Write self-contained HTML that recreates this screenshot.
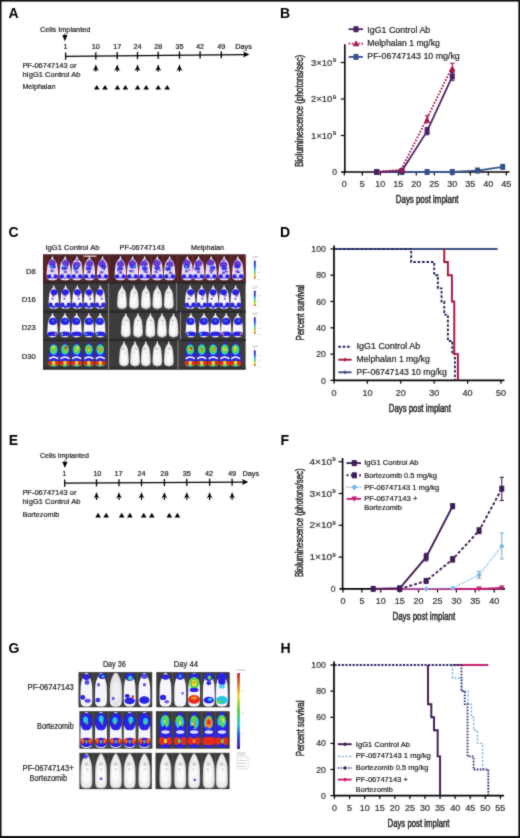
<!DOCTYPE html>
<html><head><meta charset="utf-8"><title>Figure</title>
<style>html,body{margin:0;padding:0;background:#fff;}svg{display:block;}text{font-family:"Liberation Sans", sans-serif;}</style>
</head><body>
<svg width="520" height="838" viewBox="0 0 520 838">
<defs><filter id="bl" x="-5%" y="-5%" width="110%" height="110%"><feGaussianBlur stdDeviation="0.45"/></filter>
<filter id="gb" x="0" y="0" width="520" height="838" filterUnits="userSpaceOnUse" color-interpolation-filters="sRGB"><feConvolveMatrix order="3" kernelMatrix="1 2 1 2 16 2 1 2 1" divisor="28" edgeMode="duplicate"/></filter></defs>
<rect width="520" height="838" fill="#fff"/>
<g filter="url(#gb)">
<rect width="520" height="838" fill="#fff"/>
<text x="8.5" y="17.8" font-size="14" font-weight="bold" fill="#000">A</text>
<text x="280" y="17.5" font-size="14" font-weight="bold" fill="#000">B</text>
<text x="8.6" y="237" font-size="14" font-weight="bold" fill="#000">C</text>
<text x="280" y="237" font-size="14" font-weight="bold" fill="#000">D</text>
<text x="8.8" y="445" font-size="14" font-weight="bold" fill="#000">E</text>
<text x="280.4" y="444.6" font-size="14" font-weight="bold" fill="#000">F</text>
<text x="8.6" y="653.4" font-size="14" font-weight="bold" fill="#000">G</text>
<text x="280.4" y="652.5" font-size="14" font-weight="bold" fill="#000">H</text>
<text x="39.9" y="32" font-size="7.5" textLength="50.5" lengthAdjust="spacingAndGlyphs" fill="#231f20" stroke="#231f20" stroke-width="0.22">Cells Implanted</text>
<polygon points="62.30,34.90 67.50,34.90 64.90,41.20" fill="#000"/>
<rect x="64.4" y="33.30" width="1" height="1.8" fill="#444"/>
<text x="65.6" y="48.6" font-size="7.3" text-anchor="middle" fill="#231f20" stroke="#231f20" stroke-width="0.22">1</text>
<text x="95.8" y="48.6" font-size="7.3" text-anchor="middle" fill="#231f20" stroke="#231f20" stroke-width="0.22">10</text>
<text x="117.2" y="48.6" font-size="7.3" text-anchor="middle" fill="#231f20" stroke="#231f20" stroke-width="0.22">17</text>
<text x="137.5" y="48.6" font-size="7.3" text-anchor="middle" fill="#231f20" stroke="#231f20" stroke-width="0.22">24</text>
<text x="158.2" y="48.6" font-size="7.3" text-anchor="middle" fill="#231f20" stroke="#231f20" stroke-width="0.22">28</text>
<text x="179.5" y="48.6" font-size="7.3" text-anchor="middle" fill="#231f20" stroke="#231f20" stroke-width="0.22">35</text>
<text x="200.1" y="48.6" font-size="7.3" text-anchor="middle" fill="#231f20" stroke="#231f20" stroke-width="0.22">42</text>
<text x="221.3" y="48.6" font-size="7.3" text-anchor="middle" fill="#231f20" stroke="#231f20" stroke-width="0.22">49</text>
<text x="235.3" y="48.6" font-size="7.3" fill="#231f20" stroke="#231f20" stroke-width="0.22">Days</text>
<line x1="65.6" y1="56.3" x2="245.4" y2="54.63699673558216" stroke="#000" stroke-width="1.3"/>
<polygon points="243.10,51.60 249.40,54.60 243.10,57.60 244.40,54.60" fill="#000"/>
<line x1="65.6" y1="52.599999999999994" x2="65.6" y2="59.8" stroke="#000" stroke-width="1.3"/>
<line x1="95.8" y1="52.32067464635473" x2="95.8" y2="59.520674646354735" stroke="#000" stroke-width="1.3"/>
<line x1="117.2" y1="52.1227421109902" x2="117.2" y2="59.322742110990205" stroke="#000" stroke-width="1.3"/>
<line x1="137.5" y1="51.93498367791077" x2="137.5" y2="59.134983677910775" stroke="#000" stroke-width="1.3"/>
<line x1="158.2" y1="51.74352557127312" x2="158.2" y2="58.94352557127312" stroke="#000" stroke-width="1.3"/>
<line x1="179.5" y1="51.546517954298146" x2="179.5" y2="58.74651795429815" stroke="#000" stroke-width="1.3"/>
<line x1="200.1" y1="51.35598476605005" x2="200.1" y2="58.55598476605005" stroke="#000" stroke-width="1.3"/>
<line x1="221.3" y1="51.159902067464635" x2="221.3" y2="58.35990206746464" stroke="#000" stroke-width="1.3"/>
<path d="M95.80,64.20 Q97.00,68.20 98.90,70.90 L96.40,69.40 L96.40,71.80 L95.20,71.80 L95.20,69.40 L92.70,70.90 Q94.60,68.20 95.80,64.20 Z" fill="#000"/>
<path d="M117.20,64.20 Q118.40,68.20 120.30,70.90 L117.80,69.40 L117.80,71.80 L116.60,71.80 L116.60,69.40 L114.10,70.90 Q116.00,68.20 117.20,64.20 Z" fill="#000"/>
<path d="M137.50,64.20 Q138.70,68.20 140.60,70.90 L138.10,69.40 L138.10,71.80 L136.90,71.80 L136.90,69.40 L134.40,70.90 Q136.30,68.20 137.50,64.20 Z" fill="#000"/>
<path d="M158.20,64.20 Q159.40,68.20 161.30,70.90 L158.80,69.40 L158.80,71.80 L157.60,71.80 L157.60,69.40 L155.10,70.90 Q157.00,68.20 158.20,64.20 Z" fill="#000"/>
<path d="M179.50,64.20 Q180.70,68.20 182.60,70.90 L180.10,69.40 L180.10,71.80 L178.90,71.80 L178.90,69.40 L176.40,70.90 Q178.30,68.20 179.50,64.20 Z" fill="#000"/>
<polygon points="93.95,89.50 99.55,89.50 96.75,84.90" fill="#000"/>
<polygon points="102.20,89.50 107.80,89.50 105.00,84.90" fill="#000"/>
<polygon points="114.60,89.50 120.20,89.50 117.40,84.90" fill="#000"/>
<polygon points="122.60,89.50 128.20,89.50 125.40,84.90" fill="#000"/>
<polygon points="134.80,89.50 140.40,89.50 137.60,84.90" fill="#000"/>
<polygon points="143.40,89.50 149.00,89.50 146.20,84.90" fill="#000"/>
<polygon points="155.40,89.50 161.00,89.50 158.20,84.90" fill="#000"/>
<polygon points="164.40,89.50 170.00,89.50 167.20,84.90" fill="#000"/>
<text x="22.4" y="68" font-size="7.4" textLength="54" lengthAdjust="spacingAndGlyphs" fill="#231f20" stroke="#231f20" stroke-width="0.22">PF-06747143 or</text>
<text x="22.4" y="76.6" font-size="7.4" textLength="58" lengthAdjust="spacingAndGlyphs" fill="#231f20" stroke="#231f20" stroke-width="0.22">hIgG1 Control Ab</text>
<text x="22.4" y="89.2" font-size="7.4" textLength="33" lengthAdjust="spacingAndGlyphs" fill="#231f20" stroke="#231f20" stroke-width="0.22">Melphalan</text>
<line x1="344.8" y1="44.2" x2="344.8" y2="172.7" stroke="#000" stroke-width="1.6"/>
<line x1="341.0" y1="172.0" x2="509.5" y2="172.0" stroke="#000" stroke-width="1.6"/>
<line x1="340.8" y1="135.5" x2="344.8" y2="135.5" stroke="#000" stroke-width="1.2"/>
<text x="311.0" y="138.6" font-size="8.4" textLength="21.4" lengthAdjust="spacingAndGlyphs" fill="#333" stroke="#333" stroke-width="0.22">1×10</text>
<text x="332.8" y="135.1" font-size="6.2" fill="#333" stroke="#333" stroke-width="0.22">9</text>
<line x1="340.8" y1="99.0" x2="344.8" y2="99.0" stroke="#000" stroke-width="1.2"/>
<text x="311.0" y="102.1" font-size="8.4" textLength="21.4" lengthAdjust="spacingAndGlyphs" fill="#333" stroke="#333" stroke-width="0.22">2×10</text>
<text x="332.8" y="98.6" font-size="6.2" fill="#333" stroke="#333" stroke-width="0.22">9</text>
<line x1="340.8" y1="62.5" x2="344.8" y2="62.5" stroke="#000" stroke-width="1.2"/>
<text x="311.0" y="65.6" font-size="8.4" textLength="21.4" lengthAdjust="spacingAndGlyphs" fill="#333" stroke="#333" stroke-width="0.22">3×10</text>
<text x="332.8" y="62.1" font-size="6.2" fill="#333" stroke="#333" stroke-width="0.22">9</text>
<text x="337.1" y="175.3" font-size="8.6" text-anchor="end" fill="#333" stroke="#333" stroke-width="0.22">0</text>
<line x1="344.3" y1="172.0" x2="344.3" y2="175.5" stroke="#000" stroke-width="1.2"/>
<text x="344.3" y="187.2" font-size="9" text-anchor="middle" fill="#333" stroke="#333" stroke-width="0.22">0</text>
<line x1="362.3" y1="172.0" x2="362.3" y2="175.5" stroke="#000" stroke-width="1.2"/>
<text x="362.3" y="187.2" font-size="9" text-anchor="middle" fill="#333" stroke="#333" stroke-width="0.22">5</text>
<line x1="380.3" y1="172.0" x2="380.3" y2="175.5" stroke="#000" stroke-width="1.2"/>
<text x="380.3" y="187.2" font-size="9" text-anchor="middle" fill="#333" stroke="#333" stroke-width="0.22">10</text>
<line x1="398.3" y1="172.0" x2="398.3" y2="175.5" stroke="#000" stroke-width="1.2"/>
<text x="398.3" y="187.2" font-size="9" text-anchor="middle" fill="#333" stroke="#333" stroke-width="0.22">15</text>
<line x1="416.3" y1="172.0" x2="416.3" y2="175.5" stroke="#000" stroke-width="1.2"/>
<text x="416.3" y="187.2" font-size="9" text-anchor="middle" fill="#333" stroke="#333" stroke-width="0.22">20</text>
<line x1="434.3" y1="172.0" x2="434.3" y2="175.5" stroke="#000" stroke-width="1.2"/>
<text x="434.3" y="187.2" font-size="9" text-anchor="middle" fill="#333" stroke="#333" stroke-width="0.22">25</text>
<line x1="452.3" y1="172.0" x2="452.3" y2="175.5" stroke="#000" stroke-width="1.2"/>
<text x="452.3" y="187.2" font-size="9" text-anchor="middle" fill="#333" stroke="#333" stroke-width="0.22">30</text>
<line x1="470.3" y1="172.0" x2="470.3" y2="175.5" stroke="#000" stroke-width="1.2"/>
<text x="470.3" y="187.2" font-size="9" text-anchor="middle" fill="#333" stroke="#333" stroke-width="0.22">35</text>
<line x1="488.3" y1="172.0" x2="488.3" y2="175.5" stroke="#000" stroke-width="1.2"/>
<text x="488.3" y="187.2" font-size="9" text-anchor="middle" fill="#333" stroke="#333" stroke-width="0.22">40</text>
<line x1="506.3" y1="172.0" x2="506.3" y2="175.5" stroke="#000" stroke-width="1.2"/>
<text x="506.3" y="187.2" font-size="9" text-anchor="middle" fill="#333" stroke="#333" stroke-width="0.22">45</text>
<text x="395.8" y="203.3" font-size="10.6" textLength="62.7" lengthAdjust="spacingAndGlyphs" fill="#2a2a2a" stroke="#2a2a2a" stroke-width="0.5">Days post implant</text>
<text transform="translate(303.2,167.1) rotate(-90)" font-size="10.2" fill="#2a2a2a" stroke="#2a2a2a" stroke-width="0.5" textLength="112.4" lengthAdjust="spacingAndGlyphs">Bioluminescence (photons/sec)</text>
<polyline points="376.70,172.00 401.90,172.00 427.10,172.00 452.30,172.00 477.50,170.54 502.70,166.89" fill="none" stroke="#34508a" stroke-width="1.8"/>
<rect x="374.20" y="169.00" width="5.00" height="6.00" fill="#34508a"/>
<rect x="399.40" y="169.00" width="5.00" height="6.00" fill="#34508a"/>
<rect x="424.60" y="169.00" width="5.00" height="6.00" fill="#34508a"/>
<rect x="449.80" y="169.00" width="5.00" height="6.00" fill="#34508a"/>
<rect x="475.00" y="167.54" width="5.00" height="6.00" fill="#34508a"/>
<rect x="500.20" y="163.89" width="5.00" height="6.00" fill="#34508a"/>
<polyline points="376.70,172.00 401.90,170.91 427.10,131.12 452.30,76.37" fill="none" stroke="#4b1f63" stroke-width="1.8"/>
<polyline points="375.90,172.00 401.10,169.81 426.30,119.81 451.50,68.34" fill="none" stroke="#a3174b" stroke-width="1.9" stroke-dasharray="1.6,1.6"/>
<line x1="427.1" y1="127.47" x2="427.1" y2="134.76999999999998" stroke="#4b1f63" stroke-width="1.1"/>
<line x1="424.85" y1="127.47" x2="429.35" y2="127.47" stroke="#4b1f63" stroke-width="1.1"/>
<line x1="424.85" y1="134.76999999999998" x2="429.35" y2="134.76999999999998" stroke="#4b1f63" stroke-width="1.1"/>
<line x1="452.3" y1="72.355" x2="452.3" y2="80.385" stroke="#4b1f63" stroke-width="1.1"/>
<line x1="450.05" y1="72.355" x2="454.55" y2="72.355" stroke="#4b1f63" stroke-width="1.1"/>
<line x1="450.05" y1="80.385" x2="454.55" y2="80.385" stroke="#4b1f63" stroke-width="1.1"/>
<rect x="374.20" y="169.00" width="5.00" height="6.00" fill="#4b1f63"/>
<rect x="399.40" y="167.91" width="5.00" height="6.00" fill="#4b1f63"/>
<rect x="424.60" y="128.12" width="5.00" height="6.00" fill="#4b1f63"/>
<rect x="449.80" y="73.37" width="5.00" height="6.00" fill="#4b1f63"/>
<line x1="427.1" y1="115.78999999999999" x2="427.1" y2="122.725" stroke="#a3174b" stroke-width="1.1"/>
<line x1="424.85" y1="115.78999999999999" x2="429.35" y2="115.78999999999999" stroke="#a3174b" stroke-width="1.1"/>
<line x1="424.85" y1="122.725" x2="429.35" y2="122.725" stroke="#a3174b" stroke-width="1.1"/>
<line x1="452.3" y1="63.230000000000004" x2="452.3" y2="71.625" stroke="#a3174b" stroke-width="1.1"/>
<line x1="450.05" y1="63.230000000000004" x2="454.55" y2="63.230000000000004" stroke="#a3174b" stroke-width="1.1"/>
<line x1="450.05" y1="71.625" x2="454.55" y2="71.625" stroke="#a3174b" stroke-width="1.1"/>
<polygon points="398.80,172.39 405.00,172.39 401.90,166.71" fill="#a3174b"/>
<polygon points="424.00,122.39 430.20,122.39 427.10,116.71" fill="#a3174b"/>
<polygon points="449.20,70.92 455.40,70.92 452.30,65.24" fill="#a3174b"/>
<polyline points="348.60,29.20 363.00,29.20" fill="none" stroke="#4b1f63" stroke-width="1.8"/>
<rect x="353.50" y="26.20" width="5.00" height="6.00" fill="#4b1f63"/>
<polyline points="348.60,43.60 363.00,43.60" fill="none" stroke="#a3174b" stroke-width="1.8" stroke-dasharray="1.6,1.6"/>
<polygon points="352.70,46.35 359.30,46.35 356.00,40.30" fill="#a3174b"/>
<polyline points="348.60,56.90 363.00,56.90" fill="none" stroke="#34508a" stroke-width="1.8"/>
<rect x="353.50" y="53.90" width="5.00" height="6.00" fill="#34508a"/>
<text x="367.3" y="32.5" font-size="8.8" textLength="62.9" lengthAdjust="spacingAndGlyphs" fill="#231f20" stroke="#231f20" stroke-width="0.22">IgG1 Control Ab</text>
<text x="367.3" y="46" font-size="8.8" textLength="72.5" lengthAdjust="spacingAndGlyphs" fill="#231f20" stroke="#231f20" stroke-width="0.22">Melphalan 1 mg/kg</text>
<text x="367.3" y="59.4" font-size="8.8" textLength="92.5" lengthAdjust="spacingAndGlyphs" fill="#231f20" stroke="#231f20" stroke-width="0.22">PF-06747143 10 mg/kg</text>
<g filter="url(#bl)">
<rect x="43.0" y="254.5" width="202.6" height="114.7" fill="#3c3a3b"/>
<rect x="43.0" y="254.5" width="202.6" height="27.5" fill="#4e2226"/>
<rect x="45.30" y="255" width="1.4" height="26.5" fill="#7a2628"/>
<rect x="58.10" y="255" width="1.4" height="26.5" fill="#7a2628"/>
<rect x="70.40" y="255" width="1.4" height="26.5" fill="#7a2628"/>
<rect x="82.50" y="255" width="1.4" height="26.5" fill="#7a2628"/>
<rect x="95.30" y="255" width="1.4" height="26.5" fill="#7a2628"/>
<rect x="108.30" y="255" width="1.4" height="26.5" fill="#7a2628"/>
<rect x="125.80" y="255" width="1.4" height="26.5" fill="#7a2628"/>
<rect x="137.90" y="255" width="1.4" height="26.5" fill="#7a2628"/>
<rect x="150.30" y="255" width="1.4" height="26.5" fill="#7a2628"/>
<rect x="162.70" y="255" width="1.4" height="26.5" fill="#7a2628"/>
<rect x="176.80" y="255" width="1.4" height="26.5" fill="#7a2628"/>
<rect x="192.00" y="255" width="1.4" height="26.5" fill="#7a2628"/>
<rect x="204.10" y="255" width="1.4" height="26.5" fill="#7a2628"/>
<rect x="216.90" y="255" width="1.4" height="26.5" fill="#7a2628"/>
<rect x="230.30" y="255" width="1.4" height="26.5" fill="#7a2628"/>
<rect x="243.30" y="255" width="1.4" height="26.5" fill="#7a2628"/>
<rect x="83.6" y="255.6" width="12.7" height="1.1" fill="#f4e8e8"/>
<rect x="43.0" y="281.5" width="202.6" height="2.2" fill="#2a2a2a"/>
<rect x="43.0" y="310.6" width="202.6" height="2.2" fill="#2a2a2a"/>
<rect x="43.0" y="339.0" width="202.6" height="2.2" fill="#2a2a2a"/>
<rect x="43.0" y="367.5" width="202.6" height="2.2" fill="#2a2a2a"/>
<rect x="108.1" y="283" width="1" height="86" fill="#8a8a8a"/>
<rect x="176.1" y="283" width="1" height="28" fill="#8a8a8a"/>
<rect x="180.0" y="312" width="1" height="28" fill="#8a8a8a"/>
<rect x="177.5" y="340" width="1" height="29" fill="#8a8a8a"/>
<path d="M52.40,256.30 C52.59,256.30 52.81,256.43 52.96,256.80 C53.11,257.18 52.98,257.98 53.30,258.57 C53.61,259.16 54.30,259.58 54.86,260.33 C55.42,261.09 56.21,261.89 56.66,263.10 C57.10,264.32 57.33,266.00 57.55,267.64 C57.78,269.28 57.93,271.38 58.00,272.93 C58.07,274.49 58.22,275.87 58.00,276.96 C57.78,278.06 57.37,278.94 56.66,279.48 C55.95,280.03 54.68,280.11 53.74,280.24 C52.81,280.37 51.99,280.37 51.06,280.24 C50.12,280.11 48.85,280.03 48.14,279.48 C47.43,278.94 47.02,278.06 46.80,276.96 C46.58,275.87 46.73,274.49 46.80,272.93 C46.87,271.38 47.02,269.28 47.25,267.64 C47.47,266.00 47.70,264.32 48.14,263.10 C48.59,261.89 49.38,261.09 49.94,260.33 C50.50,259.58 51.19,259.16 51.50,258.57 C51.82,257.98 51.69,257.18 51.84,256.80 C51.99,256.43 52.21,256.30 52.40,256.30 Z" fill="#f6f4fc"/>
<ellipse cx="52.40" cy="268.90" rx="4.70" ry="7.56" fill="#d8ccf4" fill-opacity="0.8"/>
<ellipse cx="52.10" cy="262.98" rx="3.81" ry="3.02" fill="#5a2ad0" fill-opacity="0.9"/>
<ellipse cx="52.91" cy="266.56" rx="2.91" ry="2.02" fill="#2a22e6" fill-opacity="0.85"/>
<ellipse cx="52.48" cy="260.33" rx="1.79" ry="1.26" fill="#5a2ad0" fill-opacity="0.6"/>
<ellipse cx="49.04" cy="276.46" rx="2.24" ry="2.27" fill="#2a22e6"/>
<ellipse cx="55.76" cy="276.46" rx="2.24" ry="2.27" fill="#2a22e6"/>
<ellipse cx="52.10" cy="270.81" rx="1.79" ry="1.51" fill="#5a2ad0" fill-opacity="0.7"/>
<ellipse cx="52.44" cy="265.40" rx="0.90" ry="0.88" fill="#2a22e6" fill-opacity="0.9"/>
<ellipse cx="52.03" cy="265.65" rx="0.90" ry="0.88" fill="#5a2ad0" fill-opacity="0.9"/>
<ellipse cx="52.40" cy="277.97" rx="1.57" ry="1.26" fill="#5a2ad0" fill-opacity="0.6"/>
<ellipse cx="52.06" cy="266.38" rx="1.12" ry="1.01" fill="#22c8e8" fill-opacity="0.8"/>
<path d="M65.20,256.30 C65.39,256.30 65.61,256.43 65.76,256.80 C65.91,257.18 65.78,257.98 66.10,258.57 C66.41,259.16 67.10,259.58 67.66,260.33 C68.22,261.09 69.01,261.89 69.46,263.10 C69.90,264.32 70.13,266.00 70.35,267.64 C70.58,269.28 70.73,271.38 70.80,272.93 C70.87,274.49 71.02,275.87 70.80,276.96 C70.58,278.06 70.17,278.94 69.46,279.48 C68.75,280.03 67.48,280.11 66.54,280.24 C65.61,280.37 64.79,280.37 63.86,280.24 C62.92,280.11 61.65,280.03 60.94,279.48 C60.23,278.94 59.82,278.06 59.60,276.96 C59.38,275.87 59.53,274.49 59.60,272.93 C59.67,271.38 59.82,269.28 60.05,267.64 C60.27,266.00 60.50,264.32 60.94,263.10 C61.39,261.89 62.18,261.09 62.74,260.33 C63.30,259.58 63.99,259.16 64.30,258.57 C64.62,257.98 64.49,257.18 64.64,256.80 C64.79,256.43 65.01,256.30 65.20,256.30 Z" fill="#f6f4fc"/>
<ellipse cx="65.20" cy="268.90" rx="4.70" ry="7.56" fill="#d8ccf4" fill-opacity="0.8"/>
<ellipse cx="65.75" cy="262.91" rx="3.81" ry="3.02" fill="#5a2ad0" fill-opacity="0.9"/>
<ellipse cx="64.27" cy="267.96" rx="2.91" ry="2.02" fill="#2a22e6" fill-opacity="0.85"/>
<ellipse cx="66.20" cy="260.33" rx="1.79" ry="1.26" fill="#5a2ad0" fill-opacity="0.6"/>
<ellipse cx="61.84" cy="276.46" rx="2.24" ry="2.27" fill="#2a22e6"/>
<ellipse cx="68.56" cy="276.46" rx="2.24" ry="2.27" fill="#2a22e6"/>
<ellipse cx="65.37" cy="271.66" rx="1.79" ry="1.51" fill="#5a2ad0" fill-opacity="0.7"/>
<ellipse cx="67.87" cy="265.47" rx="0.90" ry="0.88" fill="#2a22e6" fill-opacity="0.9"/>
<ellipse cx="67.21" cy="267.31" rx="0.90" ry="0.88" fill="#5a2ad0" fill-opacity="0.9"/>
<ellipse cx="65.20" cy="277.97" rx="1.57" ry="1.26" fill="#5a2ad0" fill-opacity="0.6"/>
<ellipse cx="63.49" cy="266.38" rx="1.12" ry="1.01" fill="#22c8e8" fill-opacity="0.8"/>
<path d="M77.00,256.30 C77.19,256.30 77.41,256.43 77.56,256.80 C77.71,257.18 77.58,257.98 77.90,258.57 C78.21,259.16 78.90,259.58 79.46,260.33 C80.02,261.09 80.81,261.89 81.26,263.10 C81.70,264.32 81.93,266.00 82.15,267.64 C82.38,269.28 82.53,271.38 82.60,272.93 C82.67,274.49 82.82,275.87 82.60,276.96 C82.38,278.06 81.97,278.94 81.26,279.48 C80.55,280.03 79.28,280.11 78.34,280.24 C77.41,280.37 76.59,280.37 75.66,280.24 C74.72,280.11 73.45,280.03 72.74,279.48 C72.03,278.94 71.62,278.06 71.40,276.96 C71.18,275.87 71.33,274.49 71.40,272.93 C71.47,271.38 71.62,269.28 71.85,267.64 C72.07,266.00 72.30,264.32 72.74,263.10 C73.19,261.89 73.98,261.09 74.54,260.33 C75.10,259.58 75.79,259.16 76.10,258.57 C76.42,257.98 76.29,257.18 76.44,256.80 C76.59,256.43 76.81,256.30 77.00,256.30 Z" fill="#f6f4fc"/>
<ellipse cx="77.00" cy="268.90" rx="4.70" ry="7.56" fill="#d8ccf4" fill-opacity="0.8"/>
<ellipse cx="76.68" cy="264.66" rx="3.81" ry="3.02" fill="#5a2ad0" fill-opacity="0.9"/>
<ellipse cx="75.93" cy="267.85" rx="2.91" ry="2.02" fill="#2a22e6" fill-opacity="0.85"/>
<ellipse cx="77.31" cy="260.33" rx="1.79" ry="1.26" fill="#5a2ad0" fill-opacity="0.6"/>
<ellipse cx="73.64" cy="276.46" rx="2.24" ry="2.27" fill="#2a22e6"/>
<ellipse cx="80.36" cy="276.46" rx="2.24" ry="2.27" fill="#2a22e6"/>
<ellipse cx="76.71" cy="272.04" rx="1.79" ry="1.51" fill="#5a2ad0" fill-opacity="0.7"/>
<ellipse cx="74.55" cy="265.57" rx="0.90" ry="0.88" fill="#2a22e6" fill-opacity="0.9"/>
<ellipse cx="75.35" cy="270.26" rx="0.90" ry="0.88" fill="#5a2ad0" fill-opacity="0.9"/>
<ellipse cx="77.00" cy="277.97" rx="1.57" ry="1.26" fill="#5a2ad0" fill-opacity="0.6"/>
<ellipse cx="76.17" cy="266.38" rx="1.12" ry="1.01" fill="#22c8e8" fill-opacity="0.8"/>
<path d="M89.40,256.30 C89.59,256.30 89.81,256.43 89.96,256.80 C90.11,257.18 89.98,257.98 90.30,258.57 C90.61,259.16 91.30,259.58 91.86,260.33 C92.42,261.09 93.21,261.89 93.66,263.10 C94.10,264.32 94.33,266.00 94.55,267.64 C94.78,269.28 94.93,271.38 95.00,272.93 C95.07,274.49 95.22,275.87 95.00,276.96 C94.78,278.06 94.37,278.94 93.66,279.48 C92.95,280.03 91.68,280.11 90.74,280.24 C89.81,280.37 88.99,280.37 88.06,280.24 C87.12,280.11 85.85,280.03 85.14,279.48 C84.43,278.94 84.02,278.06 83.80,276.96 C83.58,275.87 83.73,274.49 83.80,272.93 C83.87,271.38 84.02,269.28 84.25,267.64 C84.47,266.00 84.70,264.32 85.14,263.10 C85.59,261.89 86.38,261.09 86.94,260.33 C87.50,259.58 88.19,259.16 88.50,258.57 C88.82,257.98 88.69,257.18 88.84,256.80 C88.99,256.43 89.21,256.30 89.40,256.30 Z" fill="#f6f4fc"/>
<ellipse cx="89.40" cy="268.90" rx="4.70" ry="7.56" fill="#d8ccf4" fill-opacity="0.8"/>
<ellipse cx="89.54" cy="263.74" rx="3.81" ry="3.02" fill="#5a2ad0" fill-opacity="0.9"/>
<ellipse cx="88.73" cy="268.38" rx="2.91" ry="2.02" fill="#2a22e6" fill-opacity="0.85"/>
<ellipse cx="89.85" cy="260.33" rx="1.79" ry="1.26" fill="#5a2ad0" fill-opacity="0.6"/>
<ellipse cx="86.04" cy="276.46" rx="2.24" ry="2.27" fill="#2a22e6"/>
<ellipse cx="92.76" cy="276.46" rx="2.24" ry="2.27" fill="#2a22e6"/>
<ellipse cx="88.83" cy="272.11" rx="1.79" ry="1.51" fill="#5a2ad0" fill-opacity="0.7"/>
<ellipse cx="89.54" cy="271.74" rx="0.90" ry="0.88" fill="#2a22e6" fill-opacity="0.9"/>
<ellipse cx="90.68" cy="267.30" rx="0.90" ry="0.88" fill="#5a2ad0" fill-opacity="0.9"/>
<ellipse cx="89.40" cy="277.97" rx="1.57" ry="1.26" fill="#5a2ad0" fill-opacity="0.6"/>
<path d="M102.60,256.30 C102.79,256.30 103.01,256.43 103.16,256.80 C103.31,257.18 103.18,257.98 103.50,258.57 C103.81,259.16 104.50,259.58 105.06,260.33 C105.62,261.09 106.41,261.89 106.86,263.10 C107.30,264.32 107.53,266.00 107.75,267.64 C107.98,269.28 108.13,271.38 108.20,272.93 C108.27,274.49 108.42,275.87 108.20,276.96 C107.98,278.06 107.57,278.94 106.86,279.48 C106.15,280.03 104.88,280.11 103.94,280.24 C103.01,280.37 102.19,280.37 101.26,280.24 C100.32,280.11 99.05,280.03 98.34,279.48 C97.63,278.94 97.22,278.06 97.00,276.96 C96.78,275.87 96.93,274.49 97.00,272.93 C97.07,271.38 97.22,269.28 97.45,267.64 C97.67,266.00 97.90,264.32 98.34,263.10 C98.79,261.89 99.58,261.09 100.14,260.33 C100.70,259.58 101.39,259.16 101.70,258.57 C102.02,257.98 101.89,257.18 102.04,256.80 C102.19,256.43 102.41,256.30 102.60,256.30 Z" fill="#f6f4fc"/>
<ellipse cx="102.60" cy="268.90" rx="4.70" ry="7.56" fill="#d8ccf4" fill-opacity="0.8"/>
<ellipse cx="101.96" cy="263.65" rx="3.81" ry="3.02" fill="#5a2ad0" fill-opacity="0.9"/>
<ellipse cx="103.46" cy="266.76" rx="2.91" ry="2.02" fill="#2a22e6" fill-opacity="0.85"/>
<ellipse cx="102.58" cy="260.33" rx="1.79" ry="1.26" fill="#5a2ad0" fill-opacity="0.6"/>
<ellipse cx="99.24" cy="276.46" rx="2.24" ry="2.27" fill="#2a22e6"/>
<ellipse cx="105.96" cy="276.46" rx="2.24" ry="2.27" fill="#2a22e6"/>
<ellipse cx="101.57" cy="272.35" rx="1.79" ry="1.51" fill="#5a2ad0" fill-opacity="0.7"/>
<ellipse cx="104.08" cy="269.45" rx="0.90" ry="0.88" fill="#2a22e6" fill-opacity="0.9"/>
<ellipse cx="104.70" cy="267.49" rx="0.90" ry="0.88" fill="#5a2ad0" fill-opacity="0.9"/>
<ellipse cx="102.60" cy="277.97" rx="1.57" ry="1.26" fill="#5a2ad0" fill-opacity="0.6"/>
<path d="M120.40,256.30 C120.59,256.30 120.81,256.43 120.96,256.80 C121.11,257.18 120.98,257.98 121.30,258.57 C121.61,259.16 122.30,259.58 122.86,260.33 C123.42,261.09 124.21,261.89 124.66,263.10 C125.10,264.32 125.33,266.00 125.55,267.64 C125.78,269.28 125.93,271.38 126.00,272.93 C126.07,274.49 126.22,275.87 126.00,276.96 C125.78,278.06 125.37,278.94 124.66,279.48 C123.95,280.03 122.68,280.11 121.74,280.24 C120.81,280.37 119.99,280.37 119.06,280.24 C118.12,280.11 116.85,280.03 116.14,279.48 C115.43,278.94 115.02,278.06 114.80,276.96 C114.58,275.87 114.73,274.49 114.80,272.93 C114.87,271.38 115.02,269.28 115.25,267.64 C115.47,266.00 115.70,264.32 116.14,263.10 C116.59,261.89 117.38,261.09 117.94,260.33 C118.50,259.58 119.19,259.16 119.50,258.57 C119.82,257.98 119.69,257.18 119.84,256.80 C119.99,256.43 120.21,256.30 120.40,256.30 Z" fill="#f6f4fc"/>
<ellipse cx="120.40" cy="268.90" rx="4.70" ry="7.56" fill="#d8ccf4" fill-opacity="0.8"/>
<ellipse cx="120.56" cy="264.06" rx="3.81" ry="3.02" fill="#5a2ad0" fill-opacity="0.9"/>
<ellipse cx="120.25" cy="268.50" rx="2.91" ry="2.02" fill="#2a22e6" fill-opacity="0.85"/>
<ellipse cx="121.40" cy="260.33" rx="1.79" ry="1.26" fill="#5a2ad0" fill-opacity="0.6"/>
<ellipse cx="117.04" cy="276.46" rx="2.24" ry="2.27" fill="#2a22e6"/>
<ellipse cx="123.76" cy="276.46" rx="2.24" ry="2.27" fill="#2a22e6"/>
<ellipse cx="120.34" cy="272.34" rx="1.79" ry="1.51" fill="#5a2ad0" fill-opacity="0.7"/>
<ellipse cx="117.94" cy="270.42" rx="0.90" ry="0.88" fill="#2a22e6" fill-opacity="0.9"/>
<ellipse cx="121.22" cy="272.63" rx="0.90" ry="0.88" fill="#5a2ad0" fill-opacity="0.9"/>
<ellipse cx="120.40" cy="277.97" rx="1.57" ry="1.26" fill="#5a2ad0" fill-opacity="0.6"/>
<path d="M132.60,256.30 C132.79,256.30 133.01,256.43 133.16,256.80 C133.31,257.18 133.18,257.98 133.50,258.57 C133.81,259.16 134.50,259.58 135.06,260.33 C135.62,261.09 136.41,261.89 136.86,263.10 C137.30,264.32 137.53,266.00 137.75,267.64 C137.98,269.28 138.13,271.38 138.20,272.93 C138.27,274.49 138.42,275.87 138.20,276.96 C137.98,278.06 137.57,278.94 136.86,279.48 C136.15,280.03 134.88,280.11 133.94,280.24 C133.01,280.37 132.19,280.37 131.26,280.24 C130.32,280.11 129.05,280.03 128.34,279.48 C127.63,278.94 127.22,278.06 127.00,276.96 C126.78,275.87 126.93,274.49 127.00,272.93 C127.07,271.38 127.22,269.28 127.45,267.64 C127.67,266.00 127.90,264.32 128.34,263.10 C128.79,261.89 129.58,261.09 130.14,260.33 C130.70,259.58 131.39,259.16 131.70,258.57 C132.02,257.98 131.89,257.18 132.04,256.80 C132.19,256.43 132.41,256.30 132.60,256.30 Z" fill="#f6f4fc"/>
<ellipse cx="132.60" cy="268.90" rx="4.70" ry="7.56" fill="#d8ccf4" fill-opacity="0.8"/>
<ellipse cx="132.24" cy="263.57" rx="3.81" ry="3.02" fill="#5a2ad0" fill-opacity="0.9"/>
<ellipse cx="133.17" cy="266.44" rx="2.91" ry="2.02" fill="#2a22e6" fill-opacity="0.85"/>
<ellipse cx="132.51" cy="260.33" rx="1.79" ry="1.26" fill="#5a2ad0" fill-opacity="0.6"/>
<ellipse cx="129.24" cy="276.46" rx="2.24" ry="2.27" fill="#2a22e6"/>
<ellipse cx="135.96" cy="276.46" rx="2.24" ry="2.27" fill="#2a22e6"/>
<ellipse cx="131.86" cy="270.96" rx="1.79" ry="1.51" fill="#5a2ad0" fill-opacity="0.7"/>
<ellipse cx="130.13" cy="270.93" rx="0.90" ry="0.88" fill="#2a22e6" fill-opacity="0.9"/>
<ellipse cx="130.52" cy="266.99" rx="0.90" ry="0.88" fill="#5a2ad0" fill-opacity="0.9"/>
<ellipse cx="132.60" cy="277.97" rx="1.57" ry="1.26" fill="#5a2ad0" fill-opacity="0.6"/>
<ellipse cx="134.26" cy="266.38" rx="1.12" ry="1.01" fill="#22c8e8" fill-opacity="0.8"/>
<path d="M144.60,256.30 C144.79,256.30 145.01,256.43 145.16,256.80 C145.31,257.18 145.18,257.98 145.50,258.57 C145.81,259.16 146.50,259.58 147.06,260.33 C147.62,261.09 148.41,261.89 148.86,263.10 C149.30,264.32 149.53,266.00 149.75,267.64 C149.98,269.28 150.13,271.38 150.20,272.93 C150.27,274.49 150.42,275.87 150.20,276.96 C149.98,278.06 149.57,278.94 148.86,279.48 C148.15,280.03 146.88,280.11 145.94,280.24 C145.01,280.37 144.19,280.37 143.26,280.24 C142.32,280.11 141.05,280.03 140.34,279.48 C139.63,278.94 139.22,278.06 139.00,276.96 C138.78,275.87 138.93,274.49 139.00,272.93 C139.07,271.38 139.22,269.28 139.45,267.64 C139.67,266.00 139.90,264.32 140.34,263.10 C140.79,261.89 141.58,261.09 142.14,260.33 C142.70,259.58 143.39,259.16 143.70,258.57 C144.02,257.98 143.89,257.18 144.04,256.80 C144.19,256.43 144.41,256.30 144.60,256.30 Z" fill="#f6f4fc"/>
<ellipse cx="144.60" cy="268.90" rx="4.70" ry="7.56" fill="#d8ccf4" fill-opacity="0.8"/>
<ellipse cx="143.90" cy="263.73" rx="3.81" ry="3.02" fill="#5a2ad0" fill-opacity="0.9"/>
<ellipse cx="144.77" cy="268.61" rx="2.91" ry="2.02" fill="#2a22e6" fill-opacity="0.85"/>
<ellipse cx="145.32" cy="260.33" rx="1.79" ry="1.26" fill="#5a2ad0" fill-opacity="0.6"/>
<ellipse cx="141.24" cy="276.46" rx="2.24" ry="2.27" fill="#2a22e6"/>
<ellipse cx="147.96" cy="276.46" rx="2.24" ry="2.27" fill="#2a22e6"/>
<ellipse cx="145.42" cy="271.37" rx="1.79" ry="1.51" fill="#5a2ad0" fill-opacity="0.7"/>
<ellipse cx="144.13" cy="267.83" rx="0.90" ry="0.88" fill="#2a22e6" fill-opacity="0.9"/>
<ellipse cx="146.75" cy="272.36" rx="0.90" ry="0.88" fill="#5a2ad0" fill-opacity="0.9"/>
<ellipse cx="144.60" cy="277.97" rx="1.57" ry="1.26" fill="#5a2ad0" fill-opacity="0.6"/>
<ellipse cx="143.15" cy="266.38" rx="1.12" ry="1.01" fill="#22c8e8" fill-opacity="0.8"/>
<path d="M157.30,256.30 C157.49,256.30 157.71,256.43 157.86,256.80 C158.01,257.18 157.88,257.98 158.20,258.57 C158.51,259.16 159.20,259.58 159.76,260.33 C160.32,261.09 161.11,261.89 161.56,263.10 C162.00,264.32 162.23,266.00 162.45,267.64 C162.68,269.28 162.83,271.38 162.90,272.93 C162.97,274.49 163.12,275.87 162.90,276.96 C162.68,278.06 162.27,278.94 161.56,279.48 C160.85,280.03 159.58,280.11 158.64,280.24 C157.71,280.37 156.89,280.37 155.96,280.24 C155.02,280.11 153.75,280.03 153.04,279.48 C152.33,278.94 151.92,278.06 151.70,276.96 C151.48,275.87 151.63,274.49 151.70,272.93 C151.77,271.38 151.92,269.28 152.15,267.64 C152.37,266.00 152.60,264.32 153.04,263.10 C153.49,261.89 154.28,261.09 154.84,260.33 C155.40,259.58 156.09,259.16 156.40,258.57 C156.72,257.98 156.59,257.18 156.74,256.80 C156.89,256.43 157.11,256.30 157.30,256.30 Z" fill="#f6f4fc"/>
<ellipse cx="157.30" cy="268.90" rx="4.70" ry="7.56" fill="#d8ccf4" fill-opacity="0.8"/>
<ellipse cx="156.85" cy="263.19" rx="3.81" ry="3.02" fill="#5a2ad0" fill-opacity="0.9"/>
<ellipse cx="157.25" cy="267.86" rx="2.91" ry="2.02" fill="#2a22e6" fill-opacity="0.85"/>
<ellipse cx="156.77" cy="260.33" rx="1.79" ry="1.26" fill="#5a2ad0" fill-opacity="0.6"/>
<ellipse cx="153.94" cy="276.46" rx="2.24" ry="2.27" fill="#2a22e6"/>
<ellipse cx="160.66" cy="276.46" rx="2.24" ry="2.27" fill="#2a22e6"/>
<ellipse cx="156.19" cy="271.72" rx="1.79" ry="1.51" fill="#5a2ad0" fill-opacity="0.7"/>
<ellipse cx="156.57" cy="269.40" rx="0.90" ry="0.88" fill="#2a22e6" fill-opacity="0.9"/>
<ellipse cx="159.84" cy="270.34" rx="0.90" ry="0.88" fill="#5a2ad0" fill-opacity="0.9"/>
<ellipse cx="157.30" cy="277.97" rx="1.57" ry="1.26" fill="#5a2ad0" fill-opacity="0.6"/>
<path d="M169.60,256.30 C169.79,256.30 170.01,256.43 170.16,256.80 C170.31,257.18 170.18,257.98 170.50,258.57 C170.81,259.16 171.50,259.58 172.06,260.33 C172.62,261.09 173.41,261.89 173.86,263.10 C174.30,264.32 174.53,266.00 174.75,267.64 C174.98,269.28 175.13,271.38 175.20,272.93 C175.27,274.49 175.42,275.87 175.20,276.96 C174.98,278.06 174.57,278.94 173.86,279.48 C173.15,280.03 171.88,280.11 170.94,280.24 C170.01,280.37 169.19,280.37 168.26,280.24 C167.32,280.11 166.05,280.03 165.34,279.48 C164.63,278.94 164.22,278.06 164.00,276.96 C163.78,275.87 163.93,274.49 164.00,272.93 C164.07,271.38 164.22,269.28 164.45,267.64 C164.67,266.00 164.90,264.32 165.34,263.10 C165.79,261.89 166.58,261.09 167.14,260.33 C167.70,259.58 168.39,259.16 168.70,258.57 C169.02,257.98 168.89,257.18 169.04,256.80 C169.19,256.43 169.41,256.30 169.60,256.30 Z" fill="#f6f4fc"/>
<ellipse cx="169.60" cy="268.90" rx="4.70" ry="7.56" fill="#d8ccf4" fill-opacity="0.8"/>
<ellipse cx="169.80" cy="264.30" rx="3.81" ry="3.02" fill="#5a2ad0" fill-opacity="0.9"/>
<ellipse cx="168.10" cy="268.65" rx="2.91" ry="2.02" fill="#2a22e6" fill-opacity="0.85"/>
<ellipse cx="170.23" cy="260.33" rx="1.79" ry="1.26" fill="#5a2ad0" fill-opacity="0.6"/>
<ellipse cx="166.24" cy="276.46" rx="2.24" ry="2.27" fill="#2a22e6"/>
<ellipse cx="172.96" cy="276.46" rx="2.24" ry="2.27" fill="#2a22e6"/>
<ellipse cx="170.44" cy="272.67" rx="1.79" ry="1.51" fill="#5a2ad0" fill-opacity="0.7"/>
<ellipse cx="169.00" cy="268.14" rx="0.90" ry="0.88" fill="#2a22e6" fill-opacity="0.9"/>
<ellipse cx="167.38" cy="269.92" rx="0.90" ry="0.88" fill="#5a2ad0" fill-opacity="0.9"/>
<ellipse cx="169.60" cy="277.97" rx="1.57" ry="1.26" fill="#5a2ad0" fill-opacity="0.6"/>
<ellipse cx="167.66" cy="266.38" rx="1.12" ry="1.01" fill="#22c8e8" fill-opacity="0.8"/>
<path d="M187.30,256.30 C187.49,256.30 187.71,256.43 187.86,256.80 C188.01,257.18 187.88,257.98 188.20,258.57 C188.51,259.16 189.20,259.58 189.76,260.33 C190.32,261.09 191.11,261.89 191.56,263.10 C192.00,264.32 192.23,266.00 192.45,267.64 C192.68,269.28 192.83,271.38 192.90,272.93 C192.97,274.49 193.12,275.87 192.90,276.96 C192.68,278.06 192.27,278.94 191.56,279.48 C190.85,280.03 189.58,280.11 188.64,280.24 C187.71,280.37 186.89,280.37 185.96,280.24 C185.02,280.11 183.75,280.03 183.04,279.48 C182.33,278.94 181.92,278.06 181.70,276.96 C181.48,275.87 181.63,274.49 181.70,272.93 C181.77,271.38 181.92,269.28 182.15,267.64 C182.37,266.00 182.60,264.32 183.04,263.10 C183.49,261.89 184.28,261.09 184.84,260.33 C185.40,259.58 186.09,259.16 186.40,258.57 C186.72,257.98 186.59,257.18 186.74,256.80 C186.89,256.43 187.11,256.30 187.30,256.30 Z" fill="#f6f4fc"/>
<ellipse cx="187.30" cy="268.90" rx="4.70" ry="7.56" fill="#d8ccf4" fill-opacity="0.8"/>
<ellipse cx="186.81" cy="263.01" rx="3.81" ry="3.02" fill="#5a2ad0" fill-opacity="0.9"/>
<ellipse cx="186.76" cy="266.51" rx="2.91" ry="2.02" fill="#2a22e6" fill-opacity="0.85"/>
<ellipse cx="186.18" cy="260.33" rx="1.79" ry="1.26" fill="#5a2ad0" fill-opacity="0.6"/>
<ellipse cx="183.94" cy="276.46" rx="2.24" ry="2.27" fill="#2a22e6"/>
<ellipse cx="190.66" cy="276.46" rx="2.24" ry="2.27" fill="#2a22e6"/>
<ellipse cx="186.52" cy="270.92" rx="1.79" ry="1.51" fill="#5a2ad0" fill-opacity="0.7"/>
<ellipse cx="186.54" cy="265.31" rx="0.90" ry="0.88" fill="#2a22e6" fill-opacity="0.9"/>
<ellipse cx="189.40" cy="269.76" rx="0.90" ry="0.88" fill="#5a2ad0" fill-opacity="0.9"/>
<ellipse cx="187.30" cy="277.97" rx="1.57" ry="1.26" fill="#5a2ad0" fill-opacity="0.6"/>
<ellipse cx="186.19" cy="266.38" rx="1.12" ry="1.01" fill="#22c8e8" fill-opacity="0.8"/>
<path d="M198.60,256.30 C198.79,256.30 199.01,256.43 199.16,256.80 C199.31,257.18 199.18,257.98 199.50,258.57 C199.81,259.16 200.50,259.58 201.06,260.33 C201.62,261.09 202.41,261.89 202.86,263.10 C203.30,264.32 203.53,266.00 203.75,267.64 C203.98,269.28 204.13,271.38 204.20,272.93 C204.27,274.49 204.42,275.87 204.20,276.96 C203.98,278.06 203.57,278.94 202.86,279.48 C202.15,280.03 200.88,280.11 199.94,280.24 C199.01,280.37 198.19,280.37 197.26,280.24 C196.32,280.11 195.05,280.03 194.34,279.48 C193.63,278.94 193.22,278.06 193.00,276.96 C192.78,275.87 192.93,274.49 193.00,272.93 C193.07,271.38 193.22,269.28 193.45,267.64 C193.67,266.00 193.90,264.32 194.34,263.10 C194.79,261.89 195.58,261.09 196.14,260.33 C196.70,259.58 197.39,259.16 197.70,258.57 C198.02,257.98 197.89,257.18 198.04,256.80 C198.19,256.43 198.41,256.30 198.60,256.30 Z" fill="#f6f4fc"/>
<ellipse cx="198.60" cy="268.90" rx="4.70" ry="7.56" fill="#d8ccf4" fill-opacity="0.8"/>
<ellipse cx="198.34" cy="263.52" rx="3.81" ry="3.02" fill="#5a2ad0" fill-opacity="0.9"/>
<ellipse cx="197.33" cy="268.52" rx="2.91" ry="2.02" fill="#2a22e6" fill-opacity="0.85"/>
<ellipse cx="199.70" cy="260.33" rx="1.79" ry="1.26" fill="#5a2ad0" fill-opacity="0.6"/>
<ellipse cx="195.24" cy="276.46" rx="2.24" ry="2.27" fill="#2a22e6"/>
<ellipse cx="201.96" cy="276.46" rx="2.24" ry="2.27" fill="#2a22e6"/>
<ellipse cx="198.52" cy="271.88" rx="1.79" ry="1.51" fill="#5a2ad0" fill-opacity="0.7"/>
<ellipse cx="196.28" cy="265.89" rx="0.90" ry="0.88" fill="#2a22e6" fill-opacity="0.9"/>
<ellipse cx="197.72" cy="267.12" rx="0.90" ry="0.88" fill="#5a2ad0" fill-opacity="0.9"/>
<ellipse cx="198.60" cy="277.97" rx="1.57" ry="1.26" fill="#5a2ad0" fill-opacity="0.6"/>
<path d="M211.10,256.30 C211.29,256.30 211.51,256.43 211.66,256.80 C211.81,257.18 211.68,257.98 212.00,258.57 C212.31,259.16 213.00,259.58 213.56,260.33 C214.12,261.09 214.91,261.89 215.36,263.10 C215.80,264.32 216.03,266.00 216.25,267.64 C216.48,269.28 216.63,271.38 216.70,272.93 C216.77,274.49 216.92,275.87 216.70,276.96 C216.48,278.06 216.07,278.94 215.36,279.48 C214.65,280.03 213.38,280.11 212.44,280.24 C211.51,280.37 210.69,280.37 209.76,280.24 C208.82,280.11 207.55,280.03 206.84,279.48 C206.13,278.94 205.72,278.06 205.50,276.96 C205.28,275.87 205.43,274.49 205.50,272.93 C205.57,271.38 205.72,269.28 205.95,267.64 C206.17,266.00 206.40,264.32 206.84,263.10 C207.29,261.89 208.08,261.09 208.64,260.33 C209.20,259.58 209.89,259.16 210.20,258.57 C210.52,257.98 210.39,257.18 210.54,256.80 C210.69,256.43 210.91,256.30 211.10,256.30 Z" fill="#f6f4fc"/>
<ellipse cx="211.10" cy="268.90" rx="4.70" ry="7.56" fill="#d8ccf4" fill-opacity="0.8"/>
<ellipse cx="210.53" cy="262.66" rx="3.81" ry="3.02" fill="#5a2ad0" fill-opacity="0.9"/>
<ellipse cx="212.62" cy="267.71" rx="2.91" ry="2.02" fill="#2a22e6" fill-opacity="0.85"/>
<ellipse cx="210.31" cy="260.33" rx="1.79" ry="1.26" fill="#5a2ad0" fill-opacity="0.6"/>
<ellipse cx="207.74" cy="276.46" rx="2.24" ry="2.27" fill="#2a22e6"/>
<ellipse cx="214.46" cy="276.46" rx="2.24" ry="2.27" fill="#2a22e6"/>
<ellipse cx="211.20" cy="270.73" rx="1.79" ry="1.51" fill="#5a2ad0" fill-opacity="0.7"/>
<ellipse cx="211.26" cy="272.52" rx="0.90" ry="0.88" fill="#2a22e6" fill-opacity="0.9"/>
<ellipse cx="213.13" cy="270.38" rx="0.90" ry="0.88" fill="#5a2ad0" fill-opacity="0.9"/>
<ellipse cx="211.10" cy="277.97" rx="1.57" ry="1.26" fill="#5a2ad0" fill-opacity="0.6"/>
<ellipse cx="210.50" cy="266.38" rx="1.12" ry="1.01" fill="#22c8e8" fill-opacity="0.8"/>
<path d="M224.10,256.30 C224.29,256.30 224.51,256.43 224.66,256.80 C224.81,257.18 224.68,257.98 225.00,258.57 C225.31,259.16 226.00,259.58 226.56,260.33 C227.12,261.09 227.91,261.89 228.36,263.10 C228.80,264.32 229.03,266.00 229.25,267.64 C229.48,269.28 229.63,271.38 229.70,272.93 C229.77,274.49 229.92,275.87 229.70,276.96 C229.48,278.06 229.07,278.94 228.36,279.48 C227.65,280.03 226.38,280.11 225.44,280.24 C224.51,280.37 223.69,280.37 222.76,280.24 C221.82,280.11 220.55,280.03 219.84,279.48 C219.13,278.94 218.72,278.06 218.50,276.96 C218.28,275.87 218.43,274.49 218.50,272.93 C218.57,271.38 218.72,269.28 218.95,267.64 C219.17,266.00 219.40,264.32 219.84,263.10 C220.29,261.89 221.08,261.09 221.64,260.33 C222.20,259.58 222.89,259.16 223.20,258.57 C223.52,257.98 223.39,257.18 223.54,256.80 C223.69,256.43 223.91,256.30 224.10,256.30 Z" fill="#f6f4fc"/>
<ellipse cx="224.10" cy="268.90" rx="4.70" ry="7.56" fill="#d8ccf4" fill-opacity="0.8"/>
<ellipse cx="223.54" cy="264.55" rx="3.81" ry="3.02" fill="#5a2ad0" fill-opacity="0.9"/>
<ellipse cx="224.21" cy="268.34" rx="2.91" ry="2.02" fill="#2a22e6" fill-opacity="0.85"/>
<ellipse cx="223.72" cy="260.33" rx="1.79" ry="1.26" fill="#5a2ad0" fill-opacity="0.6"/>
<ellipse cx="220.74" cy="276.46" rx="2.24" ry="2.27" fill="#2a22e6"/>
<ellipse cx="227.46" cy="276.46" rx="2.24" ry="2.27" fill="#2a22e6"/>
<ellipse cx="223.48" cy="272.71" rx="1.79" ry="1.51" fill="#5a2ad0" fill-opacity="0.7"/>
<ellipse cx="226.82" cy="271.57" rx="0.90" ry="0.88" fill="#2a22e6" fill-opacity="0.9"/>
<ellipse cx="225.81" cy="271.31" rx="0.90" ry="0.88" fill="#5a2ad0" fill-opacity="0.9"/>
<ellipse cx="224.10" cy="277.97" rx="1.57" ry="1.26" fill="#5a2ad0" fill-opacity="0.6"/>
<path d="M237.80,256.30 C237.99,256.30 238.21,256.43 238.36,256.80 C238.51,257.18 238.38,257.98 238.70,258.57 C239.01,259.16 239.70,259.58 240.26,260.33 C240.82,261.09 241.61,261.89 242.06,263.10 C242.50,264.32 242.73,266.00 242.95,267.64 C243.18,269.28 243.33,271.38 243.40,272.93 C243.47,274.49 243.62,275.87 243.40,276.96 C243.18,278.06 242.77,278.94 242.06,279.48 C241.35,280.03 240.08,280.11 239.14,280.24 C238.21,280.37 237.39,280.37 236.46,280.24 C235.52,280.11 234.25,280.03 233.54,279.48 C232.83,278.94 232.42,278.06 232.20,276.96 C231.98,275.87 232.13,274.49 232.20,272.93 C232.27,271.38 232.42,269.28 232.65,267.64 C232.87,266.00 233.10,264.32 233.54,263.10 C233.99,261.89 234.78,261.09 235.34,260.33 C235.90,259.58 236.59,259.16 236.90,258.57 C237.22,257.98 237.09,257.18 237.24,256.80 C237.39,256.43 237.61,256.30 237.80,256.30 Z" fill="#f6f4fc"/>
<ellipse cx="237.80" cy="268.90" rx="4.70" ry="7.56" fill="#d8ccf4" fill-opacity="0.8"/>
<ellipse cx="237.34" cy="263.90" rx="3.81" ry="3.02" fill="#5a2ad0" fill-opacity="0.9"/>
<ellipse cx="237.31" cy="266.45" rx="2.91" ry="2.02" fill="#2a22e6" fill-opacity="0.85"/>
<ellipse cx="236.74" cy="260.33" rx="1.79" ry="1.26" fill="#5a2ad0" fill-opacity="0.6"/>
<ellipse cx="234.44" cy="276.46" rx="2.24" ry="2.27" fill="#2a22e6"/>
<ellipse cx="241.16" cy="276.46" rx="2.24" ry="2.27" fill="#2a22e6"/>
<ellipse cx="237.31" cy="271.32" rx="1.79" ry="1.51" fill="#5a2ad0" fill-opacity="0.7"/>
<ellipse cx="238.88" cy="272.35" rx="0.90" ry="0.88" fill="#2a22e6" fill-opacity="0.9"/>
<ellipse cx="237.50" cy="272.20" rx="0.90" ry="0.88" fill="#5a2ad0" fill-opacity="0.9"/>
<ellipse cx="237.80" cy="277.97" rx="1.57" ry="1.26" fill="#5a2ad0" fill-opacity="0.6"/>
<path d="M53.70,285.20 C53.87,285.20 54.07,285.32 54.21,285.70 C54.35,286.07 54.23,286.85 54.52,287.43 C54.81,288.01 55.43,288.42 55.94,289.17 C56.45,289.91 57.17,290.70 57.58,291.90 C57.98,293.09 58.19,294.75 58.39,296.36 C58.60,297.97 58.73,300.04 58.80,301.57 C58.87,303.10 59.00,304.46 58.80,305.54 C58.60,306.61 58.22,307.48 57.58,308.02 C56.93,308.55 55.77,308.64 54.92,308.76 C54.07,308.88 53.33,308.88 52.48,308.76 C51.63,308.64 50.47,308.55 49.82,308.02 C49.18,307.48 48.80,306.61 48.60,305.54 C48.40,304.46 48.53,303.10 48.60,301.57 C48.67,300.04 48.80,297.97 49.01,296.36 C49.21,294.75 49.42,293.09 49.82,291.90 C50.23,290.70 50.95,289.91 51.46,289.17 C51.97,288.42 52.59,288.01 52.88,287.43 C53.17,286.85 53.05,286.07 53.19,285.70 C53.33,285.32 53.53,285.20 53.70,285.20 Z" fill="#f6f4fc"/>
<ellipse cx="54.16" cy="292.14" rx="3.47" ry="2.98" fill="#2a22e6"/>
<ellipse cx="53.42" cy="295.62" rx="1.84" ry="1.24" fill="#5a2ad0" fill-opacity="0.7"/>
<ellipse cx="52.56" cy="298.84" rx="1.02" ry="0.99" fill="#2a22e6" fill-opacity="0.8"/>
<ellipse cx="50.44" cy="305.04" rx="2.24" ry="2.48" fill="#2a22e6"/>
<ellipse cx="56.96" cy="305.04" rx="2.24" ry="2.48" fill="#2a22e6"/>
<ellipse cx="53.70" cy="307.02" rx="2.04" ry="1.49" fill="#2a22e6" fill-opacity="0.9"/>
<path d="M65.60,285.20 C65.77,285.20 65.97,285.32 66.11,285.70 C66.25,286.07 66.13,286.85 66.42,287.43 C66.70,288.01 67.33,288.42 67.84,289.17 C68.35,289.91 69.07,290.70 69.48,291.90 C69.88,293.09 70.09,294.75 70.29,296.36 C70.50,297.97 70.63,300.04 70.70,301.57 C70.77,303.10 70.90,304.46 70.70,305.54 C70.50,306.61 70.12,307.48 69.48,308.02 C68.83,308.55 67.67,308.64 66.82,308.76 C65.97,308.88 65.23,308.88 64.38,308.76 C63.53,308.64 62.37,308.55 61.72,308.02 C61.08,307.48 60.70,306.61 60.50,305.54 C60.30,304.46 60.43,303.10 60.50,301.57 C60.57,300.04 60.70,297.97 60.91,296.36 C61.11,294.75 61.32,293.09 61.72,291.90 C62.13,290.70 62.85,289.91 63.36,289.17 C63.87,288.42 64.49,288.01 64.78,287.43 C65.07,286.85 64.95,286.07 65.09,285.70 C65.23,285.32 65.43,285.20 65.60,285.20 Z" fill="#f6f4fc"/>
<ellipse cx="65.32" cy="292.14" rx="3.47" ry="2.98" fill="#2a22e6"/>
<ellipse cx="64.98" cy="295.62" rx="1.84" ry="1.24" fill="#5a2ad0" fill-opacity="0.7"/>
<ellipse cx="64.39" cy="298.84" rx="1.02" ry="0.99" fill="#2a22e6" fill-opacity="0.8"/>
<ellipse cx="62.34" cy="305.04" rx="2.24" ry="2.48" fill="#2a22e6"/>
<ellipse cx="68.86" cy="305.04" rx="2.24" ry="2.48" fill="#2a22e6"/>
<ellipse cx="65.60" cy="307.02" rx="2.04" ry="1.49" fill="#2a22e6" fill-opacity="0.9"/>
<path d="M77.30,285.20 C77.47,285.20 77.67,285.32 77.81,285.70 C77.95,286.07 77.83,286.85 78.12,287.43 C78.41,288.01 79.03,288.42 79.54,289.17 C80.05,289.91 80.77,290.70 81.18,291.90 C81.58,293.09 81.79,294.75 81.99,296.36 C82.20,297.97 82.33,300.04 82.40,301.57 C82.47,303.10 82.60,304.46 82.40,305.54 C82.20,306.61 81.82,307.48 81.18,308.02 C80.53,308.55 79.37,308.64 78.52,308.76 C77.67,308.88 76.93,308.88 76.08,308.76 C75.23,308.64 74.07,308.55 73.42,308.02 C72.78,307.48 72.40,306.61 72.20,305.54 C72.00,304.46 72.13,303.10 72.20,301.57 C72.27,300.04 72.40,297.97 72.61,296.36 C72.81,294.75 73.02,293.09 73.42,291.90 C73.83,290.70 74.55,289.91 75.06,289.17 C75.57,288.42 76.19,288.01 76.48,287.43 C76.77,286.85 76.65,286.07 76.79,285.70 C76.93,285.32 77.13,285.20 77.30,285.20 Z" fill="#f6f4fc"/>
<ellipse cx="77.43" cy="292.14" rx="3.47" ry="2.98" fill="#2a22e6"/>
<ellipse cx="78.12" cy="295.62" rx="1.84" ry="1.24" fill="#5a2ad0" fill-opacity="0.7"/>
<ellipse cx="78.69" cy="298.84" rx="1.02" ry="0.99" fill="#2a22e6" fill-opacity="0.8"/>
<ellipse cx="74.04" cy="305.04" rx="2.24" ry="2.48" fill="#2a22e6"/>
<ellipse cx="80.56" cy="305.04" rx="2.24" ry="2.48" fill="#2a22e6"/>
<ellipse cx="77.30" cy="307.02" rx="2.04" ry="1.49" fill="#2a22e6" fill-opacity="0.9"/>
<path d="M88.90,285.20 C89.07,285.20 89.27,285.32 89.41,285.70 C89.55,286.07 89.43,286.85 89.72,287.43 C90.01,288.01 90.63,288.42 91.14,289.17 C91.65,289.91 92.37,290.70 92.78,291.90 C93.18,293.09 93.39,294.75 93.59,296.36 C93.80,297.97 93.93,300.04 94.00,301.57 C94.07,303.10 94.20,304.46 94.00,305.54 C93.80,306.61 93.42,307.48 92.78,308.02 C92.13,308.55 90.97,308.64 90.12,308.76 C89.27,308.88 88.53,308.88 87.68,308.76 C86.83,308.64 85.67,308.55 85.02,308.02 C84.38,307.48 84.00,306.61 83.80,305.54 C83.60,304.46 83.73,303.10 83.80,301.57 C83.87,300.04 84.00,297.97 84.21,296.36 C84.41,294.75 84.62,293.09 85.02,291.90 C85.43,290.70 86.15,289.91 86.66,289.17 C87.17,288.42 87.80,288.01 88.08,287.43 C88.37,286.85 88.25,286.07 88.39,285.70 C88.53,285.32 88.73,285.20 88.90,285.20 Z" fill="#f6f4fc"/>
<ellipse cx="88.88" cy="292.14" rx="3.47" ry="2.98" fill="#2a22e6"/>
<ellipse cx="89.21" cy="295.62" rx="1.84" ry="1.24" fill="#5a2ad0" fill-opacity="0.7"/>
<ellipse cx="90.12" cy="298.84" rx="1.02" ry="0.99" fill="#2a22e6" fill-opacity="0.8"/>
<ellipse cx="85.64" cy="305.04" rx="2.24" ry="2.48" fill="#2a22e6"/>
<ellipse cx="92.16" cy="305.04" rx="2.24" ry="2.48" fill="#2a22e6"/>
<ellipse cx="88.90" cy="307.02" rx="2.04" ry="1.49" fill="#2a22e6" fill-opacity="0.9"/>
<path d="M100.20,285.20 C100.37,285.20 100.57,285.32 100.71,285.70 C100.85,286.07 100.73,286.85 101.02,287.43 C101.31,288.01 101.93,288.42 102.44,289.17 C102.95,289.91 103.67,290.70 104.08,291.90 C104.48,293.09 104.69,294.75 104.89,296.36 C105.10,297.97 105.23,300.04 105.30,301.57 C105.37,303.10 105.50,304.46 105.30,305.54 C105.10,306.61 104.72,307.48 104.08,308.02 C103.43,308.55 102.27,308.64 101.42,308.76 C100.57,308.88 99.83,308.88 98.98,308.76 C98.13,308.64 96.97,308.55 96.32,308.02 C95.68,307.48 95.30,306.61 95.10,305.54 C94.90,304.46 95.03,303.10 95.10,301.57 C95.17,300.04 95.30,297.97 95.51,296.36 C95.71,294.75 95.92,293.09 96.32,291.90 C96.73,290.70 97.45,289.91 97.96,289.17 C98.47,288.42 99.09,288.01 99.38,287.43 C99.67,286.85 99.55,286.07 99.69,285.70 C99.83,285.32 100.03,285.20 100.20,285.20 Z" fill="#f6f4fc"/>
<ellipse cx="99.78" cy="292.14" rx="3.47" ry="2.98" fill="#2a22e6"/>
<ellipse cx="100.53" cy="295.62" rx="1.84" ry="1.24" fill="#5a2ad0" fill-opacity="0.7"/>
<ellipse cx="101.87" cy="298.84" rx="1.02" ry="0.99" fill="#2a22e6" fill-opacity="0.8"/>
<ellipse cx="96.94" cy="305.04" rx="2.24" ry="2.48" fill="#2a22e6"/>
<ellipse cx="103.46" cy="305.04" rx="2.24" ry="2.48" fill="#2a22e6"/>
<ellipse cx="100.20" cy="307.02" rx="2.04" ry="1.49" fill="#2a22e6" fill-opacity="0.9"/>
<rect x="121.50" y="307.52" width="1" height="2.48" fill="#9a9a9a"/>
<path d="M122.00,285.20 C122.16,285.20 122.35,285.32 122.48,285.70 C122.61,286.07 122.50,286.85 122.77,287.43 C123.04,288.01 123.63,288.42 124.11,289.17 C124.59,289.91 125.26,290.70 125.65,291.90 C126.03,293.09 126.22,294.75 126.42,296.36 C126.61,297.97 126.74,300.04 126.80,301.57 C126.86,303.10 126.99,304.46 126.80,305.54 C126.61,306.61 126.26,307.48 125.65,308.02 C125.04,308.55 123.95,308.64 123.15,308.76 C122.35,308.88 121.65,308.88 120.85,308.76 C120.05,308.64 118.96,308.55 118.35,308.02 C117.74,307.48 117.39,306.61 117.20,305.54 C117.01,304.46 117.14,303.10 117.20,301.57 C117.26,300.04 117.39,297.97 117.58,296.36 C117.78,294.75 117.97,293.09 118.35,291.90 C118.74,290.70 119.41,289.91 119.89,289.17 C120.37,288.42 120.96,288.01 121.23,287.43 C121.50,286.85 121.39,286.07 121.52,285.70 C121.65,285.32 121.84,285.20 122.00,285.20 Z" fill="#cfcfcf"/>
<path d="M122.00,286.19 C122.13,286.19 122.30,286.31 122.40,286.65 C122.51,286.99 122.42,287.71 122.65,288.25 C122.87,288.78 123.37,289.16 123.77,289.84 C124.18,290.53 124.74,291.25 125.06,292.35 C125.39,293.46 125.55,294.98 125.71,296.46 C125.87,297.94 125.98,299.84 126.03,301.25 C126.09,302.66 126.19,303.91 126.03,304.90 C125.87,305.89 125.58,306.69 125.06,307.18 C124.55,307.68 123.64,307.75 122.97,307.87 C122.30,307.98 121.70,307.98 121.03,307.87 C120.36,307.75 119.45,307.68 118.94,307.18 C118.42,306.69 118.13,305.89 117.97,304.90 C117.81,303.91 117.91,302.66 117.97,301.25 C118.02,299.84 118.13,297.94 118.29,296.46 C118.45,294.98 118.61,293.46 118.94,292.35 C119.26,291.25 119.82,290.53 120.23,289.84 C120.63,289.16 121.13,288.78 121.35,288.25 C121.58,287.71 121.49,286.99 121.60,286.65 C121.70,286.31 121.87,286.19 122.00,286.19 Z" fill="#eeeeee"/>
<ellipse cx="122.42" cy="299.58" rx="2.88" ry="6.94" fill="#fafafa" fill-opacity="0.95"/>
<ellipse cx="122.50" cy="292.64" rx="1.34" ry="1.24" fill="#a0a0a0" fill-opacity="0.45"/>
<ellipse cx="121.96" cy="296.36" rx="0.96" ry="0.99" fill="#b0b0b0" fill-opacity="0.4"/>
<rect x="133.50" y="307.52" width="1" height="2.48" fill="#9a9a9a"/>
<path d="M134.00,285.20 C134.16,285.20 134.35,285.32 134.48,285.70 C134.61,286.07 134.50,286.85 134.77,287.43 C135.04,288.01 135.63,288.42 136.11,289.17 C136.59,289.91 137.26,290.70 137.65,291.90 C138.03,293.09 138.22,294.75 138.42,296.36 C138.61,297.97 138.74,300.04 138.80,301.57 C138.86,303.10 138.99,304.46 138.80,305.54 C138.61,306.61 138.26,307.48 137.65,308.02 C137.04,308.55 135.95,308.64 135.15,308.76 C134.35,308.88 133.65,308.88 132.85,308.76 C132.05,308.64 130.96,308.55 130.35,308.02 C129.74,307.48 129.39,306.61 129.20,305.54 C129.01,304.46 129.14,303.10 129.20,301.57 C129.26,300.04 129.39,297.97 129.58,296.36 C129.78,294.75 129.97,293.09 130.35,291.90 C130.74,290.70 131.41,289.91 131.89,289.17 C132.37,288.42 132.96,288.01 133.23,287.43 C133.50,286.85 133.39,286.07 133.52,285.70 C133.65,285.32 133.84,285.20 134.00,285.20 Z" fill="#cfcfcf"/>
<path d="M134.00,286.19 C134.13,286.19 134.30,286.31 134.40,286.65 C134.51,286.99 134.42,287.71 134.65,288.25 C134.87,288.78 135.37,289.16 135.77,289.84 C136.18,290.53 136.74,291.25 137.06,292.35 C137.39,293.46 137.55,294.98 137.71,296.46 C137.87,297.94 137.98,299.84 138.03,301.25 C138.09,302.66 138.19,303.91 138.03,304.90 C137.87,305.89 137.58,306.69 137.06,307.18 C136.55,307.68 135.64,307.75 134.97,307.87 C134.30,307.98 133.70,307.98 133.03,307.87 C132.36,307.75 131.45,307.68 130.94,307.18 C130.42,306.69 130.13,305.89 129.97,304.90 C129.81,303.91 129.91,302.66 129.97,301.25 C130.02,299.84 130.13,297.94 130.29,296.46 C130.45,294.98 130.61,293.46 130.94,292.35 C131.26,291.25 131.82,290.53 132.23,289.84 C132.63,289.16 133.13,288.78 133.35,288.25 C133.58,287.71 133.49,286.99 133.60,286.65 C133.70,286.31 133.87,286.19 134.00,286.19 Z" fill="#eeeeee"/>
<ellipse cx="133.52" cy="299.58" rx="2.88" ry="6.94" fill="#fafafa" fill-opacity="0.95"/>
<ellipse cx="134.58" cy="292.64" rx="1.34" ry="1.24" fill="#a0a0a0" fill-opacity="0.45"/>
<ellipse cx="133.67" cy="296.36" rx="0.96" ry="0.99" fill="#b0b0b0" fill-opacity="0.4"/>
<rect x="145.30" y="307.52" width="1" height="2.48" fill="#9a9a9a"/>
<path d="M145.80,285.20 C145.96,285.20 146.15,285.32 146.28,285.70 C146.41,286.07 146.30,286.85 146.57,287.43 C146.84,288.01 147.43,288.42 147.91,289.17 C148.39,289.91 149.06,290.70 149.45,291.90 C149.83,293.09 150.02,294.75 150.22,296.36 C150.41,297.97 150.54,300.04 150.60,301.57 C150.66,303.10 150.79,304.46 150.60,305.54 C150.41,306.61 150.06,307.48 149.45,308.02 C148.84,308.55 147.75,308.64 146.95,308.76 C146.15,308.88 145.45,308.88 144.65,308.76 C143.85,308.64 142.76,308.55 142.15,308.02 C141.54,307.48 141.19,306.61 141.00,305.54 C140.81,304.46 140.94,303.10 141.00,301.57 C141.06,300.04 141.19,297.97 141.38,296.36 C141.58,294.75 141.77,293.09 142.15,291.90 C142.54,290.70 143.21,289.91 143.69,289.17 C144.17,288.42 144.76,288.01 145.03,287.43 C145.30,286.85 145.19,286.07 145.32,285.70 C145.45,285.32 145.64,285.20 145.80,285.20 Z" fill="#cfcfcf"/>
<path d="M145.80,286.19 C145.93,286.19 146.10,286.31 146.20,286.65 C146.31,286.99 146.22,287.71 146.45,288.25 C146.67,288.78 147.17,289.16 147.57,289.84 C147.98,290.53 148.54,291.25 148.86,292.35 C149.19,293.46 149.35,294.98 149.51,296.46 C149.67,297.94 149.78,299.84 149.83,301.25 C149.89,302.66 149.99,303.91 149.83,304.90 C149.67,305.89 149.38,306.69 148.86,307.18 C148.35,307.68 147.44,307.75 146.77,307.87 C146.10,307.98 145.50,307.98 144.83,307.87 C144.16,307.75 143.25,307.68 142.74,307.18 C142.22,306.69 141.93,305.89 141.77,304.90 C141.61,303.91 141.71,302.66 141.77,301.25 C141.82,299.84 141.93,297.94 142.09,296.46 C142.25,294.98 142.41,293.46 142.74,292.35 C143.06,291.25 143.62,290.53 144.03,289.84 C144.43,289.16 144.93,288.78 145.15,288.25 C145.38,287.71 145.29,286.99 145.40,286.65 C145.50,286.31 145.67,286.19 145.80,286.19 Z" fill="#eeeeee"/>
<ellipse cx="146.25" cy="299.58" rx="2.88" ry="6.94" fill="#fafafa" fill-opacity="0.95"/>
<ellipse cx="146.74" cy="292.64" rx="1.34" ry="1.24" fill="#a0a0a0" fill-opacity="0.45"/>
<ellipse cx="145.59" cy="296.36" rx="0.96" ry="0.99" fill="#b0b0b0" fill-opacity="0.4"/>
<rect x="156.80" y="307.52" width="1" height="2.48" fill="#9a9a9a"/>
<path d="M157.30,285.20 C157.46,285.20 157.65,285.32 157.78,285.70 C157.91,286.07 157.80,286.85 158.07,287.43 C158.34,288.01 158.93,288.42 159.41,289.17 C159.89,289.91 160.56,290.70 160.95,291.90 C161.33,293.09 161.52,294.75 161.72,296.36 C161.91,297.97 162.04,300.04 162.10,301.57 C162.16,303.10 162.29,304.46 162.10,305.54 C161.91,306.61 161.56,307.48 160.95,308.02 C160.34,308.55 159.25,308.64 158.45,308.76 C157.65,308.88 156.95,308.88 156.15,308.76 C155.35,308.64 154.26,308.55 153.65,308.02 C153.04,307.48 152.69,306.61 152.50,305.54 C152.31,304.46 152.44,303.10 152.50,301.57 C152.56,300.04 152.69,297.97 152.88,296.36 C153.08,294.75 153.27,293.09 153.65,291.90 C154.04,290.70 154.71,289.91 155.19,289.17 C155.67,288.42 156.26,288.01 156.53,287.43 C156.80,286.85 156.69,286.07 156.82,285.70 C156.95,285.32 157.14,285.20 157.30,285.20 Z" fill="#cfcfcf"/>
<path d="M157.30,286.19 C157.43,286.19 157.60,286.31 157.70,286.65 C157.81,286.99 157.72,287.71 157.95,288.25 C158.17,288.78 158.67,289.16 159.07,289.84 C159.48,290.53 160.04,291.25 160.36,292.35 C160.69,293.46 160.85,294.98 161.01,296.46 C161.17,297.94 161.28,299.84 161.33,301.25 C161.39,302.66 161.49,303.91 161.33,304.90 C161.17,305.89 160.88,306.69 160.36,307.18 C159.85,307.68 158.94,307.75 158.27,307.87 C157.60,307.98 157.00,307.98 156.33,307.87 C155.66,307.75 154.75,307.68 154.24,307.18 C153.72,306.69 153.43,305.89 153.27,304.90 C153.11,303.91 153.21,302.66 153.27,301.25 C153.32,299.84 153.43,297.94 153.59,296.46 C153.75,294.98 153.91,293.46 154.24,292.35 C154.56,291.25 155.12,290.53 155.53,289.84 C155.93,289.16 156.43,288.78 156.65,288.25 C156.88,287.71 156.79,286.99 156.90,286.65 C157.00,286.31 157.17,286.19 157.30,286.19 Z" fill="#eeeeee"/>
<ellipse cx="157.15" cy="299.58" rx="2.88" ry="6.94" fill="#fafafa" fill-opacity="0.95"/>
<ellipse cx="158.19" cy="292.64" rx="1.34" ry="1.24" fill="#a0a0a0" fill-opacity="0.45"/>
<ellipse cx="157.75" cy="296.36" rx="0.96" ry="0.99" fill="#b0b0b0" fill-opacity="0.4"/>
<rect x="168.30" y="307.52" width="1" height="2.48" fill="#9a9a9a"/>
<path d="M168.80,285.20 C168.96,285.20 169.15,285.32 169.28,285.70 C169.41,286.07 169.30,286.85 169.57,287.43 C169.84,288.01 170.43,288.42 170.91,289.17 C171.39,289.91 172.06,290.70 172.45,291.90 C172.83,293.09 173.02,294.75 173.22,296.36 C173.41,297.97 173.54,300.04 173.60,301.57 C173.66,303.10 173.79,304.46 173.60,305.54 C173.41,306.61 173.06,307.48 172.45,308.02 C171.84,308.55 170.75,308.64 169.95,308.76 C169.15,308.88 168.45,308.88 167.65,308.76 C166.85,308.64 165.76,308.55 165.15,308.02 C164.54,307.48 164.19,306.61 164.00,305.54 C163.81,304.46 163.94,303.10 164.00,301.57 C164.06,300.04 164.19,297.97 164.38,296.36 C164.58,294.75 164.77,293.09 165.15,291.90 C165.54,290.70 166.21,289.91 166.69,289.17 C167.17,288.42 167.76,288.01 168.03,287.43 C168.30,286.85 168.19,286.07 168.32,285.70 C168.45,285.32 168.64,285.20 168.80,285.20 Z" fill="#cfcfcf"/>
<path d="M168.80,286.19 C168.93,286.19 169.10,286.31 169.20,286.65 C169.31,286.99 169.22,287.71 169.45,288.25 C169.67,288.78 170.17,289.16 170.57,289.84 C170.98,290.53 171.54,291.25 171.86,292.35 C172.19,293.46 172.35,294.98 172.51,296.46 C172.67,297.94 172.78,299.84 172.83,301.25 C172.89,302.66 172.99,303.91 172.83,304.90 C172.67,305.89 172.38,306.69 171.86,307.18 C171.35,307.68 170.44,307.75 169.77,307.87 C169.10,307.98 168.50,307.98 167.83,307.87 C167.16,307.75 166.25,307.68 165.74,307.18 C165.22,306.69 164.93,305.89 164.77,304.90 C164.61,303.91 164.71,302.66 164.77,301.25 C164.82,299.84 164.93,297.94 165.09,296.46 C165.25,294.98 165.41,293.46 165.74,292.35 C166.06,291.25 166.62,290.53 167.03,289.84 C167.43,289.16 167.93,288.78 168.15,288.25 C168.38,287.71 168.29,286.99 168.40,286.65 C168.50,286.31 168.67,286.19 168.80,286.19 Z" fill="#eeeeee"/>
<ellipse cx="168.31" cy="299.58" rx="2.88" ry="6.94" fill="#fafafa" fill-opacity="0.95"/>
<ellipse cx="168.05" cy="292.64" rx="1.34" ry="1.24" fill="#a0a0a0" fill-opacity="0.45"/>
<ellipse cx="168.10" cy="296.36" rx="0.96" ry="0.99" fill="#b0b0b0" fill-opacity="0.4"/>
<path d="M190.20,285.20 C190.37,285.20 190.57,285.32 190.71,285.70 C190.85,286.07 190.73,286.85 191.02,287.43 C191.31,288.01 191.93,288.42 192.44,289.17 C192.95,289.91 193.67,290.70 194.08,291.90 C194.48,293.09 194.69,294.75 194.89,296.36 C195.10,297.97 195.23,300.04 195.30,301.57 C195.37,303.10 195.50,304.46 195.30,305.54 C195.10,306.61 194.72,307.48 194.08,308.02 C193.43,308.55 192.27,308.64 191.42,308.76 C190.57,308.88 189.83,308.88 188.98,308.76 C188.13,308.64 186.97,308.55 186.32,308.02 C185.68,307.48 185.30,306.61 185.10,305.54 C184.90,304.46 185.03,303.10 185.10,301.57 C185.17,300.04 185.30,297.97 185.51,296.36 C185.71,294.75 185.92,293.09 186.32,291.90 C186.73,290.70 187.45,289.91 187.96,289.17 C188.47,288.42 189.09,288.01 189.38,287.43 C189.67,286.85 189.55,286.07 189.69,285.70 C189.83,285.32 190.03,285.20 190.20,285.20 Z" fill="#f6f4fc"/>
<ellipse cx="190.61" cy="292.14" rx="3.47" ry="2.98" fill="#2a22e6"/>
<ellipse cx="190.83" cy="295.62" rx="1.84" ry="1.24" fill="#5a2ad0" fill-opacity="0.7"/>
<ellipse cx="188.76" cy="298.84" rx="1.02" ry="0.99" fill="#2a22e6" fill-opacity="0.8"/>
<ellipse cx="186.94" cy="305.04" rx="2.24" ry="2.48" fill="#2a22e6"/>
<ellipse cx="193.46" cy="305.04" rx="2.24" ry="2.48" fill="#2a22e6"/>
<ellipse cx="190.20" cy="307.02" rx="2.04" ry="1.49" fill="#2a22e6" fill-opacity="0.9"/>
<path d="M201.70,285.20 C201.87,285.20 202.07,285.32 202.21,285.70 C202.35,286.07 202.23,286.85 202.52,287.43 C202.81,288.01 203.43,288.42 203.94,289.17 C204.45,289.91 205.17,290.70 205.58,291.90 C205.98,293.09 206.19,294.75 206.39,296.36 C206.60,297.97 206.73,300.04 206.80,301.57 C206.87,303.10 207.00,304.46 206.80,305.54 C206.60,306.61 206.22,307.48 205.58,308.02 C204.93,308.55 203.77,308.64 202.92,308.76 C202.07,308.88 201.33,308.88 200.48,308.76 C199.63,308.64 198.47,308.55 197.82,308.02 C197.18,307.48 196.80,306.61 196.60,305.54 C196.40,304.46 196.53,303.10 196.60,301.57 C196.67,300.04 196.80,297.97 197.01,296.36 C197.21,294.75 197.42,293.09 197.82,291.90 C198.23,290.70 198.95,289.91 199.46,289.17 C199.97,288.42 200.59,288.01 200.88,287.43 C201.17,286.85 201.05,286.07 201.19,285.70 C201.33,285.32 201.53,285.20 201.70,285.20 Z" fill="#f6f4fc"/>
<ellipse cx="202.03" cy="292.14" rx="3.47" ry="2.98" fill="#2a22e6"/>
<ellipse cx="202.68" cy="295.62" rx="1.84" ry="1.24" fill="#5a2ad0" fill-opacity="0.7"/>
<ellipse cx="202.34" cy="298.84" rx="1.02" ry="0.99" fill="#2a22e6" fill-opacity="0.8"/>
<ellipse cx="198.44" cy="305.04" rx="2.24" ry="2.48" fill="#2a22e6"/>
<ellipse cx="204.96" cy="305.04" rx="2.24" ry="2.48" fill="#2a22e6"/>
<ellipse cx="201.70" cy="307.02" rx="2.04" ry="1.49" fill="#2a22e6" fill-opacity="0.9"/>
<path d="M213.20,285.20 C213.37,285.20 213.57,285.32 213.71,285.70 C213.85,286.07 213.73,286.85 214.02,287.43 C214.31,288.01 214.93,288.42 215.44,289.17 C215.95,289.91 216.67,290.70 217.08,291.90 C217.48,293.09 217.69,294.75 217.89,296.36 C218.10,297.97 218.23,300.04 218.30,301.57 C218.37,303.10 218.50,304.46 218.30,305.54 C218.10,306.61 217.72,307.48 217.08,308.02 C216.43,308.55 215.27,308.64 214.42,308.76 C213.57,308.88 212.83,308.88 211.98,308.76 C211.13,308.64 209.97,308.55 209.32,308.02 C208.68,307.48 208.30,306.61 208.10,305.54 C207.90,304.46 208.03,303.10 208.10,301.57 C208.17,300.04 208.30,297.97 208.51,296.36 C208.71,294.75 208.92,293.09 209.32,291.90 C209.73,290.70 210.45,289.91 210.96,289.17 C211.47,288.42 212.09,288.01 212.38,287.43 C212.67,286.85 212.55,286.07 212.69,285.70 C212.83,285.32 213.03,285.20 213.20,285.20 Z" fill="#f6f4fc"/>
<ellipse cx="213.05" cy="292.14" rx="3.47" ry="2.98" fill="#2a22e6"/>
<ellipse cx="213.30" cy="295.62" rx="1.84" ry="1.24" fill="#5a2ad0" fill-opacity="0.7"/>
<ellipse cx="211.69" cy="298.84" rx="1.02" ry="0.99" fill="#2a22e6" fill-opacity="0.8"/>
<ellipse cx="209.94" cy="305.04" rx="2.24" ry="2.48" fill="#2a22e6"/>
<ellipse cx="216.46" cy="305.04" rx="2.24" ry="2.48" fill="#2a22e6"/>
<ellipse cx="213.20" cy="307.02" rx="2.04" ry="1.49" fill="#2a22e6" fill-opacity="0.9"/>
<path d="M224.10,285.20 C224.27,285.20 224.47,285.32 224.61,285.70 C224.75,286.07 224.63,286.85 224.92,287.43 C225.20,288.01 225.83,288.42 226.34,289.17 C226.85,289.91 227.57,290.70 227.98,291.90 C228.38,293.09 228.59,294.75 228.79,296.36 C229.00,297.97 229.13,300.04 229.20,301.57 C229.27,303.10 229.40,304.46 229.20,305.54 C229.00,306.61 228.62,307.48 227.98,308.02 C227.33,308.55 226.17,308.64 225.32,308.76 C224.47,308.88 223.73,308.88 222.88,308.76 C222.03,308.64 220.87,308.55 220.22,308.02 C219.58,307.48 219.20,306.61 219.00,305.54 C218.80,304.46 218.93,303.10 219.00,301.57 C219.07,300.04 219.20,297.97 219.41,296.36 C219.61,294.75 219.82,293.09 220.22,291.90 C220.63,290.70 221.35,289.91 221.86,289.17 C222.37,288.42 223.00,288.01 223.28,287.43 C223.57,286.85 223.45,286.07 223.59,285.70 C223.73,285.32 223.93,285.20 224.10,285.20 Z" fill="#f6f4fc"/>
<ellipse cx="223.60" cy="292.14" rx="3.47" ry="2.98" fill="#2a22e6"/>
<ellipse cx="225.06" cy="295.62" rx="1.84" ry="1.24" fill="#5a2ad0" fill-opacity="0.7"/>
<ellipse cx="224.71" cy="298.84" rx="1.02" ry="0.99" fill="#2a22e6" fill-opacity="0.8"/>
<ellipse cx="220.84" cy="305.04" rx="2.24" ry="2.48" fill="#2a22e6"/>
<ellipse cx="227.36" cy="305.04" rx="2.24" ry="2.48" fill="#2a22e6"/>
<ellipse cx="224.10" cy="307.02" rx="2.04" ry="1.49" fill="#2a22e6" fill-opacity="0.9"/>
<path d="M235.60,285.20 C235.77,285.20 235.97,285.32 236.11,285.70 C236.25,286.07 236.13,286.85 236.42,287.43 C236.70,288.01 237.33,288.42 237.84,289.17 C238.35,289.91 239.07,290.70 239.48,291.90 C239.88,293.09 240.09,294.75 240.29,296.36 C240.50,297.97 240.63,300.04 240.70,301.57 C240.77,303.10 240.90,304.46 240.70,305.54 C240.50,306.61 240.12,307.48 239.48,308.02 C238.83,308.55 237.67,308.64 236.82,308.76 C235.97,308.88 235.23,308.88 234.38,308.76 C233.53,308.64 232.37,308.55 231.72,308.02 C231.08,307.48 230.70,306.61 230.50,305.54 C230.30,304.46 230.43,303.10 230.50,301.57 C230.57,300.04 230.70,297.97 230.91,296.36 C231.11,294.75 231.32,293.09 231.72,291.90 C232.13,290.70 232.85,289.91 233.36,289.17 C233.87,288.42 234.50,288.01 234.78,287.43 C235.07,286.85 234.95,286.07 235.09,285.70 C235.23,285.32 235.43,285.20 235.60,285.20 Z" fill="#f6f4fc"/>
<ellipse cx="235.63" cy="292.14" rx="3.47" ry="2.98" fill="#2a22e6"/>
<ellipse cx="236.48" cy="295.62" rx="1.84" ry="1.24" fill="#5a2ad0" fill-opacity="0.7"/>
<ellipse cx="235.33" cy="298.84" rx="1.02" ry="0.99" fill="#2a22e6" fill-opacity="0.8"/>
<ellipse cx="232.34" cy="305.04" rx="2.24" ry="2.48" fill="#2a22e6"/>
<ellipse cx="238.86" cy="305.04" rx="2.24" ry="2.48" fill="#2a22e6"/>
<ellipse cx="235.60" cy="307.02" rx="2.04" ry="1.49" fill="#2a22e6" fill-opacity="0.9"/>
<path d="M52.50,313.00 C52.67,313.00 52.87,313.13 53.01,313.51 C53.15,313.89 53.03,314.69 53.32,315.29 C53.61,315.88 54.23,316.30 54.74,317.06 C55.25,317.83 55.97,318.63 56.38,319.86 C56.78,321.09 56.99,322.78 57.19,324.43 C57.40,326.08 57.53,328.20 57.60,329.76 C57.67,331.33 57.80,332.73 57.60,333.83 C57.40,334.93 57.02,335.82 56.38,336.37 C55.73,336.92 54.57,337.00 53.72,337.13 C52.87,337.26 52.13,337.26 51.28,337.13 C50.43,337.00 49.27,336.92 48.62,336.37 C47.98,335.82 47.60,334.93 47.40,333.83 C47.20,332.73 47.33,331.33 47.40,329.76 C47.47,328.20 47.60,326.08 47.81,324.43 C48.01,322.78 48.22,321.09 48.62,319.86 C49.03,318.63 49.75,317.83 50.26,317.06 C50.77,316.30 51.39,315.88 51.68,315.29 C51.97,314.69 51.85,313.89 51.99,313.51 C52.13,313.13 52.33,313.00 52.50,313.00 Z" fill="#f6f4fc"/>
<ellipse cx="52.88" cy="321.38" rx="4.08" ry="3.56" fill="#2a22e6"/>
<ellipse cx="53.17" cy="320.62" rx="1.22" ry="1.27" fill="#22c8e8" fill-opacity="0.5"/>
<ellipse cx="52.50" cy="333.83" rx="4.69" ry="2.29" fill="#2a22e6"/>
<ellipse cx="49.44" cy="334.34" rx="2.04" ry="2.03" fill="#2a22e6"/>
<ellipse cx="55.56" cy="334.34" rx="2.04" ry="2.03" fill="#2a22e6"/>
<ellipse cx="55.56" cy="334.08" rx="1.02" ry="1.27" fill="#f08a20"/>
<path d="M65.00,313.00 C65.17,313.00 65.37,313.13 65.51,313.51 C65.65,313.89 65.53,314.69 65.82,315.29 C66.11,315.88 66.73,316.30 67.24,317.06 C67.75,317.83 68.47,318.63 68.88,319.86 C69.28,321.09 69.49,322.78 69.69,324.43 C69.90,326.08 70.03,328.20 70.10,329.76 C70.17,331.33 70.30,332.73 70.10,333.83 C69.90,334.93 69.52,335.82 68.88,336.37 C68.23,336.92 67.07,337.00 66.22,337.13 C65.37,337.26 64.63,337.26 63.78,337.13 C62.93,337.00 61.77,336.92 61.12,336.37 C60.48,335.82 60.10,334.93 59.90,333.83 C59.70,332.73 59.83,331.33 59.90,329.76 C59.97,328.20 60.10,326.08 60.31,324.43 C60.51,322.78 60.72,321.09 61.12,319.86 C61.53,318.63 62.25,317.83 62.76,317.06 C63.27,316.30 63.89,315.88 64.18,315.29 C64.47,314.69 64.35,313.89 64.49,313.51 C64.63,313.13 64.83,313.00 65.00,313.00 Z" fill="#f6f4fc"/>
<ellipse cx="65.00" cy="321.38" rx="4.08" ry="3.56" fill="#2a22e6"/>
<ellipse cx="65.54" cy="320.62" rx="1.22" ry="1.27" fill="#22c8e8" fill-opacity="0.5"/>
<ellipse cx="65.00" cy="333.83" rx="4.69" ry="2.29" fill="#2a22e6"/>
<ellipse cx="61.94" cy="334.34" rx="2.04" ry="2.03" fill="#2a22e6"/>
<ellipse cx="68.06" cy="334.34" rx="2.04" ry="2.03" fill="#2a22e6"/>
<ellipse cx="61.94" cy="334.08" rx="1.02" ry="1.27" fill="#5ad648"/>
<path d="M76.60,313.00 C76.77,313.00 76.97,313.13 77.11,313.51 C77.25,313.89 77.13,314.69 77.42,315.29 C77.70,315.88 78.33,316.30 78.84,317.06 C79.35,317.83 80.07,318.63 80.48,319.86 C80.88,321.09 81.09,322.78 81.29,324.43 C81.50,326.08 81.63,328.20 81.70,329.76 C81.77,331.33 81.90,332.73 81.70,333.83 C81.50,334.93 81.12,335.82 80.48,336.37 C79.83,336.92 78.67,337.00 77.82,337.13 C76.97,337.26 76.23,337.26 75.38,337.13 C74.53,337.00 73.37,336.92 72.72,336.37 C72.08,335.82 71.70,334.93 71.50,333.83 C71.30,332.73 71.43,331.33 71.50,329.76 C71.57,328.20 71.70,326.08 71.91,324.43 C72.11,322.78 72.32,321.09 72.72,319.86 C73.13,318.63 73.85,317.83 74.36,317.06 C74.87,316.30 75.49,315.88 75.78,315.29 C76.07,314.69 75.95,313.89 76.09,313.51 C76.23,313.13 76.43,313.00 76.60,313.00 Z" fill="#f6f4fc"/>
<ellipse cx="76.15" cy="321.38" rx="4.08" ry="3.56" fill="#2a22e6"/>
<ellipse cx="77.09" cy="320.62" rx="1.22" ry="1.27" fill="#22c8e8" fill-opacity="0.5"/>
<ellipse cx="76.60" cy="333.83" rx="4.69" ry="2.29" fill="#2a22e6"/>
<ellipse cx="73.54" cy="334.34" rx="2.04" ry="2.03" fill="#2a22e6"/>
<ellipse cx="79.66" cy="334.34" rx="2.04" ry="2.03" fill="#2a22e6"/>
<path d="M88.80,313.00 C88.97,313.00 89.17,313.13 89.31,313.51 C89.45,313.89 89.33,314.69 89.62,315.29 C89.91,315.88 90.53,316.30 91.04,317.06 C91.55,317.83 92.27,318.63 92.68,319.86 C93.08,321.09 93.29,322.78 93.49,324.43 C93.70,326.08 93.83,328.20 93.90,329.76 C93.97,331.33 94.10,332.73 93.90,333.83 C93.70,334.93 93.32,335.82 92.68,336.37 C92.03,336.92 90.87,337.00 90.02,337.13 C89.17,337.26 88.43,337.26 87.58,337.13 C86.73,337.00 85.57,336.92 84.92,336.37 C84.28,335.82 83.90,334.93 83.70,333.83 C83.50,332.73 83.63,331.33 83.70,329.76 C83.77,328.20 83.90,326.08 84.11,324.43 C84.31,322.78 84.52,321.09 84.92,319.86 C85.33,318.63 86.05,317.83 86.56,317.06 C87.07,316.30 87.69,315.88 87.98,315.29 C88.27,314.69 88.15,313.89 88.29,313.51 C88.43,313.13 88.63,313.00 88.80,313.00 Z" fill="#f6f4fc"/>
<ellipse cx="88.97" cy="321.38" rx="4.08" ry="3.56" fill="#2a22e6"/>
<ellipse cx="89.44" cy="320.62" rx="1.22" ry="1.27" fill="#22c8e8" fill-opacity="0.5"/>
<ellipse cx="88.80" cy="333.83" rx="4.69" ry="2.29" fill="#2a22e6"/>
<ellipse cx="85.74" cy="334.34" rx="2.04" ry="2.03" fill="#2a22e6"/>
<ellipse cx="91.86" cy="334.34" rx="2.04" ry="2.03" fill="#2a22e6"/>
<ellipse cx="85.74" cy="334.08" rx="1.02" ry="1.27" fill="#22c8e8"/>
<path d="M100.20,313.00 C100.37,313.00 100.57,313.13 100.71,313.51 C100.85,313.89 100.73,314.69 101.02,315.29 C101.31,315.88 101.93,316.30 102.44,317.06 C102.95,317.83 103.67,318.63 104.08,319.86 C104.48,321.09 104.69,322.78 104.89,324.43 C105.10,326.08 105.23,328.20 105.30,329.76 C105.37,331.33 105.50,332.73 105.30,333.83 C105.10,334.93 104.72,335.82 104.08,336.37 C103.43,336.92 102.27,337.00 101.42,337.13 C100.57,337.26 99.83,337.26 98.98,337.13 C98.13,337.00 96.97,336.92 96.32,336.37 C95.68,335.82 95.30,334.93 95.10,333.83 C94.90,332.73 95.03,331.33 95.10,329.76 C95.17,328.20 95.30,326.08 95.51,324.43 C95.71,322.78 95.92,321.09 96.32,319.86 C96.73,318.63 97.45,317.83 97.96,317.06 C98.47,316.30 99.09,315.88 99.38,315.29 C99.67,314.69 99.55,313.89 99.69,313.51 C99.83,313.13 100.03,313.00 100.20,313.00 Z" fill="#f6f4fc"/>
<ellipse cx="99.82" cy="321.38" rx="4.08" ry="3.56" fill="#2a22e6"/>
<ellipse cx="99.49" cy="320.62" rx="1.22" ry="1.27" fill="#22c8e8" fill-opacity="0.5"/>
<ellipse cx="100.20" cy="333.83" rx="4.69" ry="2.29" fill="#2a22e6"/>
<ellipse cx="97.14" cy="334.34" rx="2.04" ry="2.03" fill="#2a22e6"/>
<ellipse cx="103.26" cy="334.34" rx="2.04" ry="2.03" fill="#2a22e6"/>
<ellipse cx="97.14" cy="334.08" rx="1.02" ry="1.27" fill="#5ad648"/>
<rect x="125.30" y="335.86" width="1" height="2.54" fill="#9a9a9a"/>
<path d="M125.80,313.00 C125.96,313.00 126.15,313.13 126.28,313.51 C126.41,313.89 126.30,314.69 126.57,315.29 C126.84,315.88 127.43,316.30 127.91,317.06 C128.39,317.83 129.06,318.63 129.45,319.86 C129.83,321.09 130.02,322.78 130.22,324.43 C130.41,326.08 130.54,328.20 130.60,329.76 C130.66,331.33 130.79,332.73 130.60,333.83 C130.41,334.93 130.06,335.82 129.45,336.37 C128.84,336.92 127.75,337.00 126.95,337.13 C126.15,337.26 125.45,337.26 124.65,337.13 C123.85,337.00 122.76,336.92 122.15,336.37 C121.54,335.82 121.19,334.93 121.00,333.83 C120.81,332.73 120.94,331.33 121.00,329.76 C121.06,328.20 121.19,326.08 121.38,324.43 C121.58,322.78 121.77,321.09 122.15,319.86 C122.54,318.63 123.21,317.83 123.69,317.06 C124.17,316.30 124.76,315.88 125.03,315.29 C125.30,314.69 125.19,313.89 125.32,313.51 C125.45,313.13 125.64,313.00 125.80,313.00 Z" fill="#cfcfcf"/>
<path d="M125.80,314.02 C125.93,314.02 126.10,314.13 126.20,314.48 C126.31,314.83 126.22,315.57 126.45,316.12 C126.67,316.66 127.17,317.05 127.57,317.75 C127.98,318.46 128.54,319.20 128.86,320.33 C129.19,321.45 129.35,323.01 129.51,324.53 C129.67,326.05 129.78,328.00 129.83,329.44 C129.89,330.88 129.99,332.17 129.83,333.18 C129.67,334.19 129.38,335.01 128.86,335.51 C128.35,336.02 127.44,336.10 126.77,336.22 C126.10,336.33 125.50,336.33 124.83,336.22 C124.16,336.10 123.25,336.02 122.74,335.51 C122.22,335.01 121.93,334.19 121.77,333.18 C121.61,332.17 121.71,330.88 121.77,329.44 C121.82,328.00 121.93,326.05 122.09,324.53 C122.25,323.01 122.41,321.45 122.74,320.33 C123.06,319.20 123.62,318.46 124.03,317.75 C124.43,317.05 124.93,316.66 125.15,316.12 C125.38,315.57 125.29,314.83 125.40,314.48 C125.50,314.13 125.67,314.02 125.80,314.02 Z" fill="#eeeeee"/>
<ellipse cx="125.96" cy="327.73" rx="2.88" ry="7.11" fill="#fafafa" fill-opacity="0.95"/>
<ellipse cx="126.35" cy="320.62" rx="1.34" ry="1.27" fill="#a0a0a0" fill-opacity="0.45"/>
<ellipse cx="125.10" cy="324.43" rx="0.96" ry="1.02" fill="#b0b0b0" fill-opacity="0.4"/>
<rect x="137.50" y="335.86" width="1" height="2.54" fill="#9a9a9a"/>
<path d="M138.00,313.00 C138.16,313.00 138.35,313.13 138.48,313.51 C138.61,313.89 138.50,314.69 138.77,315.29 C139.04,315.88 139.63,316.30 140.11,317.06 C140.59,317.83 141.26,318.63 141.65,319.86 C142.03,321.09 142.22,322.78 142.42,324.43 C142.61,326.08 142.74,328.20 142.80,329.76 C142.86,331.33 142.99,332.73 142.80,333.83 C142.61,334.93 142.26,335.82 141.65,336.37 C141.04,336.92 139.95,337.00 139.15,337.13 C138.35,337.26 137.65,337.26 136.85,337.13 C136.05,337.00 134.96,336.92 134.35,336.37 C133.74,335.82 133.39,334.93 133.20,333.83 C133.01,332.73 133.14,331.33 133.20,329.76 C133.26,328.20 133.39,326.08 133.58,324.43 C133.78,322.78 133.97,321.09 134.35,319.86 C134.74,318.63 135.41,317.83 135.89,317.06 C136.37,316.30 136.96,315.88 137.23,315.29 C137.50,314.69 137.39,313.89 137.52,313.51 C137.65,313.13 137.84,313.00 138.00,313.00 Z" fill="#cfcfcf"/>
<path d="M138.00,314.02 C138.13,314.02 138.30,314.13 138.40,314.48 C138.51,314.83 138.42,315.57 138.65,316.12 C138.87,316.66 139.37,317.05 139.77,317.75 C140.18,318.46 140.74,319.20 141.06,320.33 C141.39,321.45 141.55,323.01 141.71,324.53 C141.87,326.05 141.98,328.00 142.03,329.44 C142.09,330.88 142.19,332.17 142.03,333.18 C141.87,334.19 141.58,335.01 141.06,335.51 C140.55,336.02 139.64,336.10 138.97,336.22 C138.30,336.33 137.70,336.33 137.03,336.22 C136.36,336.10 135.45,336.02 134.94,335.51 C134.42,335.01 134.13,334.19 133.97,333.18 C133.81,332.17 133.91,330.88 133.97,329.44 C134.02,328.00 134.13,326.05 134.29,324.53 C134.45,323.01 134.61,321.45 134.94,320.33 C135.26,319.20 135.82,318.46 136.23,317.75 C136.63,317.05 137.13,316.66 137.35,316.12 C137.58,315.57 137.49,314.83 137.60,314.48 C137.70,314.13 137.87,314.02 138.00,314.02 Z" fill="#eeeeee"/>
<ellipse cx="137.46" cy="327.73" rx="2.88" ry="7.11" fill="#fafafa" fill-opacity="0.95"/>
<ellipse cx="138.24" cy="320.62" rx="1.34" ry="1.27" fill="#a0a0a0" fill-opacity="0.45"/>
<ellipse cx="137.24" cy="324.43" rx="0.96" ry="1.02" fill="#b0b0b0" fill-opacity="0.4"/>
<rect x="149.90" y="335.86" width="1" height="2.54" fill="#9a9a9a"/>
<path d="M150.40,313.00 C150.56,313.00 150.75,313.13 150.88,313.51 C151.01,313.89 150.90,314.69 151.17,315.29 C151.44,315.88 152.03,316.30 152.51,317.06 C152.99,317.83 153.66,318.63 154.05,319.86 C154.43,321.09 154.62,322.78 154.82,324.43 C155.01,326.08 155.14,328.20 155.20,329.76 C155.26,331.33 155.39,332.73 155.20,333.83 C155.01,334.93 154.66,335.82 154.05,336.37 C153.44,336.92 152.35,337.00 151.55,337.13 C150.75,337.26 150.05,337.26 149.25,337.13 C148.45,337.00 147.36,336.92 146.75,336.37 C146.14,335.82 145.79,334.93 145.60,333.83 C145.41,332.73 145.54,331.33 145.60,329.76 C145.66,328.20 145.79,326.08 145.98,324.43 C146.18,322.78 146.37,321.09 146.75,319.86 C147.14,318.63 147.81,317.83 148.29,317.06 C148.77,316.30 149.36,315.88 149.63,315.29 C149.90,314.69 149.79,313.89 149.92,313.51 C150.05,313.13 150.24,313.00 150.40,313.00 Z" fill="#cfcfcf"/>
<path d="M150.40,314.02 C150.53,314.02 150.70,314.13 150.80,314.48 C150.91,314.83 150.82,315.57 151.05,316.12 C151.27,316.66 151.77,317.05 152.17,317.75 C152.58,318.46 153.14,319.20 153.46,320.33 C153.79,321.45 153.95,323.01 154.11,324.53 C154.27,326.05 154.38,328.00 154.43,329.44 C154.49,330.88 154.59,332.17 154.43,333.18 C154.27,334.19 153.98,335.01 153.46,335.51 C152.95,336.02 152.04,336.10 151.37,336.22 C150.70,336.33 150.10,336.33 149.43,336.22 C148.76,336.10 147.85,336.02 147.34,335.51 C146.82,335.01 146.53,334.19 146.37,333.18 C146.21,332.17 146.31,330.88 146.37,329.44 C146.42,328.00 146.53,326.05 146.69,324.53 C146.85,323.01 147.01,321.45 147.34,320.33 C147.66,319.20 148.22,318.46 148.63,317.75 C149.03,317.05 149.53,316.66 149.75,316.12 C149.98,315.57 149.89,314.83 150.00,314.48 C150.10,314.13 150.27,314.02 150.40,314.02 Z" fill="#eeeeee"/>
<ellipse cx="149.74" cy="327.73" rx="2.88" ry="7.11" fill="#fafafa" fill-opacity="0.95"/>
<ellipse cx="150.76" cy="320.62" rx="1.34" ry="1.27" fill="#a0a0a0" fill-opacity="0.45"/>
<ellipse cx="150.46" cy="324.43" rx="0.96" ry="1.02" fill="#b0b0b0" fill-opacity="0.4"/>
<rect x="161.50" y="335.86" width="1" height="2.54" fill="#9a9a9a"/>
<path d="M162.00,313.00 C162.16,313.00 162.35,313.13 162.48,313.51 C162.61,313.89 162.50,314.69 162.77,315.29 C163.04,315.88 163.63,316.30 164.11,317.06 C164.59,317.83 165.26,318.63 165.65,319.86 C166.03,321.09 166.22,322.78 166.42,324.43 C166.61,326.08 166.74,328.20 166.80,329.76 C166.86,331.33 166.99,332.73 166.80,333.83 C166.61,334.93 166.26,335.82 165.65,336.37 C165.04,336.92 163.95,337.00 163.15,337.13 C162.35,337.26 161.65,337.26 160.85,337.13 C160.05,337.00 158.96,336.92 158.35,336.37 C157.74,335.82 157.39,334.93 157.20,333.83 C157.01,332.73 157.14,331.33 157.20,329.76 C157.26,328.20 157.39,326.08 157.58,324.43 C157.78,322.78 157.97,321.09 158.35,319.86 C158.74,318.63 159.41,317.83 159.89,317.06 C160.37,316.30 160.96,315.88 161.23,315.29 C161.50,314.69 161.39,313.89 161.52,313.51 C161.65,313.13 161.84,313.00 162.00,313.00 Z" fill="#cfcfcf"/>
<path d="M162.00,314.02 C162.13,314.02 162.30,314.13 162.40,314.48 C162.51,314.83 162.42,315.57 162.65,316.12 C162.87,316.66 163.37,317.05 163.77,317.75 C164.18,318.46 164.74,319.20 165.06,320.33 C165.39,321.45 165.55,323.01 165.71,324.53 C165.87,326.05 165.98,328.00 166.03,329.44 C166.09,330.88 166.19,332.17 166.03,333.18 C165.87,334.19 165.58,335.01 165.06,335.51 C164.55,336.02 163.64,336.10 162.97,336.22 C162.30,336.33 161.70,336.33 161.03,336.22 C160.36,336.10 159.45,336.02 158.94,335.51 C158.42,335.01 158.13,334.19 157.97,333.18 C157.81,332.17 157.91,330.88 157.97,329.44 C158.02,328.00 158.13,326.05 158.29,324.53 C158.45,323.01 158.61,321.45 158.94,320.33 C159.26,319.20 159.82,318.46 160.23,317.75 C160.63,317.05 161.13,316.66 161.35,316.12 C161.58,315.57 161.49,314.83 161.60,314.48 C161.70,314.13 161.87,314.02 162.00,314.02 Z" fill="#eeeeee"/>
<ellipse cx="161.97" cy="327.73" rx="2.88" ry="7.11" fill="#fafafa" fill-opacity="0.95"/>
<ellipse cx="162.55" cy="320.62" rx="1.34" ry="1.27" fill="#a0a0a0" fill-opacity="0.45"/>
<ellipse cx="162.77" cy="324.43" rx="0.96" ry="1.02" fill="#b0b0b0" fill-opacity="0.4"/>
<rect x="173.00" y="335.86" width="1" height="2.54" fill="#9a9a9a"/>
<path d="M173.50,313.00 C173.66,313.00 173.85,313.13 173.98,313.51 C174.11,313.89 174.00,314.69 174.27,315.29 C174.54,315.88 175.13,316.30 175.61,317.06 C176.09,317.83 176.76,318.63 177.15,319.86 C177.53,321.09 177.72,322.78 177.92,324.43 C178.11,326.08 178.24,328.20 178.30,329.76 C178.36,331.33 178.49,332.73 178.30,333.83 C178.11,334.93 177.76,335.82 177.15,336.37 C176.54,336.92 175.45,337.00 174.65,337.13 C173.85,337.26 173.15,337.26 172.35,337.13 C171.55,337.00 170.46,336.92 169.85,336.37 C169.24,335.82 168.89,334.93 168.70,333.83 C168.51,332.73 168.64,331.33 168.70,329.76 C168.76,328.20 168.89,326.08 169.08,324.43 C169.28,322.78 169.47,321.09 169.85,319.86 C170.24,318.63 170.91,317.83 171.39,317.06 C171.87,316.30 172.46,315.88 172.73,315.29 C173.00,314.69 172.89,313.89 173.02,313.51 C173.15,313.13 173.34,313.00 173.50,313.00 Z" fill="#cfcfcf"/>
<path d="M173.50,314.02 C173.63,314.02 173.80,314.13 173.90,314.48 C174.01,314.83 173.92,315.57 174.15,316.12 C174.37,316.66 174.87,317.05 175.27,317.75 C175.68,318.46 176.24,319.20 176.56,320.33 C176.89,321.45 177.05,323.01 177.21,324.53 C177.37,326.05 177.48,328.00 177.53,329.44 C177.59,330.88 177.69,332.17 177.53,333.18 C177.37,334.19 177.08,335.01 176.56,335.51 C176.05,336.02 175.14,336.10 174.47,336.22 C173.80,336.33 173.20,336.33 172.53,336.22 C171.86,336.10 170.95,336.02 170.44,335.51 C169.92,335.01 169.63,334.19 169.47,333.18 C169.31,332.17 169.41,330.88 169.47,329.44 C169.52,328.00 169.63,326.05 169.79,324.53 C169.95,323.01 170.11,321.45 170.44,320.33 C170.76,319.20 171.32,318.46 171.73,317.75 C172.13,317.05 172.63,316.66 172.85,316.12 C173.08,315.57 172.99,314.83 173.10,314.48 C173.20,314.13 173.37,314.02 173.50,314.02 Z" fill="#eeeeee"/>
<ellipse cx="172.84" cy="327.73" rx="2.88" ry="7.11" fill="#fafafa" fill-opacity="0.95"/>
<ellipse cx="172.88" cy="320.62" rx="1.34" ry="1.27" fill="#a0a0a0" fill-opacity="0.45"/>
<ellipse cx="172.58" cy="324.43" rx="0.96" ry="1.02" fill="#b0b0b0" fill-opacity="0.4"/>
<path d="M190.90,313.00 C191.07,313.00 191.27,313.13 191.41,313.51 C191.55,313.89 191.43,314.69 191.72,315.29 C192.00,315.88 192.63,316.30 193.14,317.06 C193.65,317.83 194.37,318.63 194.78,319.86 C195.18,321.09 195.39,322.78 195.59,324.43 C195.80,326.08 195.93,328.20 196.00,329.76 C196.07,331.33 196.20,332.73 196.00,333.83 C195.80,334.93 195.42,335.82 194.78,336.37 C194.13,336.92 192.97,337.00 192.12,337.13 C191.27,337.26 190.53,337.26 189.68,337.13 C188.83,337.00 187.67,336.92 187.02,336.37 C186.38,335.82 186.00,334.93 185.80,333.83 C185.60,332.73 185.73,331.33 185.80,329.76 C185.87,328.20 186.00,326.08 186.21,324.43 C186.41,322.78 186.62,321.09 187.02,319.86 C187.43,318.63 188.15,317.83 188.66,317.06 C189.17,316.30 189.80,315.88 190.08,315.29 C190.37,314.69 190.25,313.89 190.39,313.51 C190.53,313.13 190.73,313.00 190.90,313.00 Z" fill="#f6f4fc"/>
<ellipse cx="190.49" cy="321.38" rx="4.08" ry="3.56" fill="#2a22e6"/>
<ellipse cx="190.80" cy="320.62" rx="1.22" ry="1.27" fill="#22c8e8" fill-opacity="0.5"/>
<ellipse cx="190.90" cy="333.83" rx="4.69" ry="2.29" fill="#2a22e6"/>
<ellipse cx="187.84" cy="334.34" rx="2.04" ry="2.03" fill="#2a22e6"/>
<ellipse cx="193.96" cy="334.34" rx="2.04" ry="2.03" fill="#2a22e6"/>
<ellipse cx="187.84" cy="334.08" rx="1.02" ry="1.27" fill="#5ad648"/>
<path d="M203.90,313.00 C204.07,313.00 204.27,313.13 204.41,313.51 C204.55,313.89 204.43,314.69 204.72,315.29 C205.00,315.88 205.63,316.30 206.14,317.06 C206.65,317.83 207.37,318.63 207.78,319.86 C208.18,321.09 208.39,322.78 208.59,324.43 C208.80,326.08 208.93,328.20 209.00,329.76 C209.07,331.33 209.20,332.73 209.00,333.83 C208.80,334.93 208.42,335.82 207.78,336.37 C207.13,336.92 205.97,337.00 205.12,337.13 C204.27,337.26 203.53,337.26 202.68,337.13 C201.83,337.00 200.67,336.92 200.02,336.37 C199.38,335.82 199.00,334.93 198.80,333.83 C198.60,332.73 198.73,331.33 198.80,329.76 C198.87,328.20 199.00,326.08 199.21,324.43 C199.41,322.78 199.62,321.09 200.02,319.86 C200.43,318.63 201.15,317.83 201.66,317.06 C202.17,316.30 202.80,315.88 203.08,315.29 C203.37,314.69 203.25,313.89 203.39,313.51 C203.53,313.13 203.73,313.00 203.90,313.00 Z" fill="#f6f4fc"/>
<ellipse cx="203.84" cy="321.38" rx="4.08" ry="3.56" fill="#2a22e6"/>
<ellipse cx="204.13" cy="320.62" rx="1.22" ry="1.27" fill="#22c8e8" fill-opacity="0.5"/>
<ellipse cx="203.90" cy="333.83" rx="4.69" ry="2.29" fill="#2a22e6"/>
<ellipse cx="200.84" cy="334.34" rx="2.04" ry="2.03" fill="#2a22e6"/>
<ellipse cx="206.96" cy="334.34" rx="2.04" ry="2.03" fill="#2a22e6"/>
<ellipse cx="200.84" cy="334.08" rx="1.02" ry="1.27" fill="#22c8e8"/>
<path d="M215.40,313.00 C215.57,313.00 215.77,313.13 215.91,313.51 C216.05,313.89 215.93,314.69 216.22,315.29 C216.50,315.88 217.13,316.30 217.64,317.06 C218.15,317.83 218.87,318.63 219.28,319.86 C219.68,321.09 219.89,322.78 220.09,324.43 C220.30,326.08 220.43,328.20 220.50,329.76 C220.57,331.33 220.70,332.73 220.50,333.83 C220.30,334.93 219.92,335.82 219.28,336.37 C218.63,336.92 217.47,337.00 216.62,337.13 C215.77,337.26 215.03,337.26 214.18,337.13 C213.33,337.00 212.17,336.92 211.52,336.37 C210.88,335.82 210.50,334.93 210.30,333.83 C210.10,332.73 210.23,331.33 210.30,329.76 C210.37,328.20 210.50,326.08 210.71,324.43 C210.91,322.78 211.12,321.09 211.52,319.86 C211.93,318.63 212.65,317.83 213.16,317.06 C213.67,316.30 214.30,315.88 214.58,315.29 C214.87,314.69 214.75,313.89 214.89,313.51 C215.03,313.13 215.23,313.00 215.40,313.00 Z" fill="#f6f4fc"/>
<ellipse cx="215.17" cy="321.38" rx="4.08" ry="3.56" fill="#2a22e6"/>
<ellipse cx="215.42" cy="320.62" rx="1.22" ry="1.27" fill="#22c8e8" fill-opacity="0.5"/>
<ellipse cx="215.40" cy="333.83" rx="4.69" ry="2.29" fill="#2a22e6"/>
<ellipse cx="212.34" cy="334.34" rx="2.04" ry="2.03" fill="#2a22e6"/>
<ellipse cx="218.46" cy="334.34" rx="2.04" ry="2.03" fill="#2a22e6"/>
<path d="M226.20,313.00 C226.37,313.00 226.57,313.13 226.71,313.51 C226.85,313.89 226.73,314.69 227.02,315.29 C227.31,315.88 227.93,316.30 228.44,317.06 C228.95,317.83 229.67,318.63 230.08,319.86 C230.48,321.09 230.69,322.78 230.89,324.43 C231.10,326.08 231.23,328.20 231.30,329.76 C231.37,331.33 231.50,332.73 231.30,333.83 C231.10,334.93 230.72,335.82 230.08,336.37 C229.43,336.92 228.27,337.00 227.42,337.13 C226.57,337.26 225.83,337.26 224.98,337.13 C224.13,337.00 222.97,336.92 222.32,336.37 C221.68,335.82 221.30,334.93 221.10,333.83 C220.90,332.73 221.03,331.33 221.10,329.76 C221.17,328.20 221.30,326.08 221.51,324.43 C221.71,322.78 221.92,321.09 222.32,319.86 C222.73,318.63 223.45,317.83 223.96,317.06 C224.47,316.30 225.09,315.88 225.38,315.29 C225.67,314.69 225.55,313.89 225.69,313.51 C225.83,313.13 226.03,313.00 226.20,313.00 Z" fill="#f6f4fc"/>
<ellipse cx="226.21" cy="321.38" rx="4.08" ry="3.56" fill="#2a22e6"/>
<ellipse cx="225.69" cy="320.62" rx="1.22" ry="1.27" fill="#22c8e8" fill-opacity="0.5"/>
<ellipse cx="226.20" cy="333.83" rx="4.69" ry="2.29" fill="#2a22e6"/>
<ellipse cx="223.14" cy="334.34" rx="2.04" ry="2.03" fill="#2a22e6"/>
<ellipse cx="229.26" cy="334.34" rx="2.04" ry="2.03" fill="#2a22e6"/>
<ellipse cx="223.14" cy="334.08" rx="1.02" ry="1.27" fill="#f08a20"/>
<path d="M237.80,313.00 C237.97,313.00 238.17,313.13 238.31,313.51 C238.45,313.89 238.33,314.69 238.62,315.29 C238.91,315.88 239.53,316.30 240.04,317.06 C240.55,317.83 241.27,318.63 241.68,319.86 C242.08,321.09 242.29,322.78 242.49,324.43 C242.70,326.08 242.83,328.20 242.90,329.76 C242.97,331.33 243.10,332.73 242.90,333.83 C242.70,334.93 242.32,335.82 241.68,336.37 C241.03,336.92 239.87,337.00 239.02,337.13 C238.17,337.26 237.43,337.26 236.58,337.13 C235.73,337.00 234.57,336.92 233.92,336.37 C233.28,335.82 232.90,334.93 232.70,333.83 C232.50,332.73 232.63,331.33 232.70,329.76 C232.77,328.20 232.90,326.08 233.11,324.43 C233.31,322.78 233.52,321.09 233.92,319.86 C234.33,318.63 235.05,317.83 235.56,317.06 C236.07,316.30 236.69,315.88 236.98,315.29 C237.27,314.69 237.15,313.89 237.29,313.51 C237.43,313.13 237.63,313.00 237.80,313.00 Z" fill="#f6f4fc"/>
<ellipse cx="238.23" cy="321.38" rx="4.08" ry="3.56" fill="#2a22e6"/>
<ellipse cx="238.60" cy="320.62" rx="1.22" ry="1.27" fill="#22c8e8" fill-opacity="0.5"/>
<ellipse cx="237.80" cy="333.83" rx="4.69" ry="2.29" fill="#2a22e6"/>
<ellipse cx="234.74" cy="334.34" rx="2.04" ry="2.03" fill="#2a22e6"/>
<ellipse cx="240.86" cy="334.34" rx="2.04" ry="2.03" fill="#2a22e6"/>
<ellipse cx="240.86" cy="334.08" rx="1.02" ry="1.27" fill="#f08a20"/>
<path d="M53.70,341.00 C53.87,341.00 54.07,341.13 54.21,341.53 C54.35,341.92 54.23,342.76 54.52,343.38 C54.81,343.99 55.43,344.43 55.94,345.22 C56.45,346.02 57.17,346.85 57.58,348.13 C57.98,349.40 58.19,351.16 58.39,352.88 C58.60,354.60 58.73,356.80 58.80,358.42 C58.87,360.05 59.00,361.50 58.80,362.65 C58.60,363.79 58.22,364.72 57.58,365.29 C56.93,365.86 55.77,365.95 54.92,366.08 C54.07,366.21 53.33,366.21 52.48,366.08 C51.63,365.95 50.47,365.86 49.82,365.29 C49.18,364.72 48.80,363.79 48.60,362.65 C48.40,361.50 48.53,360.05 48.60,358.42 C48.67,356.80 48.80,354.60 49.01,352.88 C49.21,351.16 49.42,349.40 49.82,348.13 C50.23,346.85 50.95,346.02 51.46,345.22 C51.97,344.43 52.59,343.99 52.88,343.38 C53.17,342.76 53.05,341.92 53.19,341.53 C53.33,341.13 53.53,341.00 53.70,341.00 Z" fill="#2a22e6"/>
<ellipse cx="53.70" cy="349.45" rx="3.88" ry="5.28" fill="#22c8e8"/>
<ellipse cx="53.31" cy="349.45" rx="3.06" ry="3.96" fill="#5ad648"/>
<ellipse cx="53.58" cy="347.26" rx="1.22" ry="1.58" fill="#f0e030"/>
<ellipse cx="53.48" cy="349.75" rx="0.82" ry="1.06" fill="#f08a20"/>
<path d="M49.21,358.69 Q53.70,355.52 58.19,358.69" fill="none" stroke="#f6f4fc" stroke-width="1.85"/>
<ellipse cx="53.70" cy="363.70" rx="5.10" ry="2.64" fill="#5ad648"/>
<ellipse cx="50.44" cy="363.18" rx="2.14" ry="2.38" fill="#e82a1a"/>
<ellipse cx="56.96" cy="363.18" rx="2.14" ry="2.38" fill="#e82a1a"/>
<ellipse cx="53.70" cy="362.91" rx="1.63" ry="2.11" fill="#f0e030"/>
<ellipse cx="53.70" cy="365.82" rx="1.22" ry="1.06" fill="#22c8e8"/>
<path d="M65.00,341.00 C65.17,341.00 65.37,341.13 65.51,341.53 C65.65,341.92 65.53,342.76 65.82,343.38 C66.11,343.99 66.73,344.43 67.24,345.22 C67.75,346.02 68.47,346.85 68.88,348.13 C69.28,349.40 69.49,351.16 69.69,352.88 C69.90,354.60 70.03,356.80 70.10,358.42 C70.17,360.05 70.30,361.50 70.10,362.65 C69.90,363.79 69.52,364.72 68.88,365.29 C68.23,365.86 67.07,365.95 66.22,366.08 C65.37,366.21 64.63,366.21 63.78,366.08 C62.93,365.95 61.77,365.86 61.12,365.29 C60.48,364.72 60.10,363.79 59.90,362.65 C59.70,361.50 59.83,360.05 59.90,358.42 C59.97,356.80 60.10,354.60 60.31,352.88 C60.51,351.16 60.72,349.40 61.12,348.13 C61.53,346.85 62.25,346.02 62.76,345.22 C63.27,344.43 63.89,343.99 64.18,343.38 C64.47,342.76 64.35,341.92 64.49,341.53 C64.63,341.13 64.83,341.00 65.00,341.00 Z" fill="#2a22e6"/>
<ellipse cx="65.00" cy="349.45" rx="3.88" ry="5.28" fill="#22c8e8"/>
<ellipse cx="65.29" cy="349.45" rx="3.06" ry="3.96" fill="#5ad648"/>
<ellipse cx="65.81" cy="347.48" rx="1.22" ry="1.58" fill="#e82a1a"/>
<ellipse cx="65.44" cy="350.15" rx="0.82" ry="1.06" fill="#f08a20"/>
<path d="M60.51,358.69 Q65.00,355.52 69.49,358.69" fill="none" stroke="#f6f4fc" stroke-width="1.85"/>
<ellipse cx="65.00" cy="363.70" rx="5.10" ry="2.64" fill="#5ad648"/>
<ellipse cx="61.74" cy="363.18" rx="2.14" ry="2.38" fill="#e82a1a"/>
<ellipse cx="68.26" cy="363.18" rx="2.14" ry="2.38" fill="#e82a1a"/>
<ellipse cx="65.00" cy="362.91" rx="1.63" ry="2.11" fill="#f0e030"/>
<ellipse cx="65.00" cy="365.82" rx="1.22" ry="1.06" fill="#22c8e8"/>
<path d="M76.60,341.00 C76.77,341.00 76.97,341.13 77.11,341.53 C77.25,341.92 77.13,342.76 77.42,343.38 C77.70,343.99 78.33,344.43 78.84,345.22 C79.35,346.02 80.07,346.85 80.48,348.13 C80.88,349.40 81.09,351.16 81.29,352.88 C81.50,354.60 81.63,356.80 81.70,358.42 C81.77,360.05 81.90,361.50 81.70,362.65 C81.50,363.79 81.12,364.72 80.48,365.29 C79.83,365.86 78.67,365.95 77.82,366.08 C76.97,366.21 76.23,366.21 75.38,366.08 C74.53,365.95 73.37,365.86 72.72,365.29 C72.08,364.72 71.70,363.79 71.50,362.65 C71.30,361.50 71.43,360.05 71.50,358.42 C71.57,356.80 71.70,354.60 71.91,352.88 C72.11,351.16 72.32,349.40 72.72,348.13 C73.13,346.85 73.85,346.02 74.36,345.22 C74.87,344.43 75.49,343.99 75.78,343.38 C76.07,342.76 75.95,341.92 76.09,341.53 C76.23,341.13 76.43,341.00 76.60,341.00 Z" fill="#2a22e6"/>
<ellipse cx="76.60" cy="349.45" rx="3.88" ry="5.28" fill="#22c8e8"/>
<ellipse cx="76.99" cy="349.45" rx="3.06" ry="3.96" fill="#5ad648"/>
<ellipse cx="77.55" cy="347.65" rx="1.22" ry="1.58" fill="#f0e030"/>
<ellipse cx="76.29" cy="350.47" rx="0.82" ry="1.06" fill="#f0e030"/>
<path d="M72.11,358.69 Q76.60,355.52 81.09,358.69" fill="none" stroke="#f6f4fc" stroke-width="1.85"/>
<ellipse cx="76.60" cy="363.70" rx="5.10" ry="2.64" fill="#5ad648"/>
<ellipse cx="73.34" cy="363.18" rx="2.14" ry="2.38" fill="#e82a1a"/>
<ellipse cx="79.86" cy="363.18" rx="2.14" ry="2.38" fill="#e82a1a"/>
<ellipse cx="76.60" cy="362.91" rx="1.63" ry="2.11" fill="#f0e030"/>
<ellipse cx="76.60" cy="365.82" rx="1.22" ry="1.06" fill="#22c8e8"/>
<path d="M88.80,341.00 C88.97,341.00 89.17,341.13 89.31,341.53 C89.45,341.92 89.33,342.76 89.62,343.38 C89.91,343.99 90.53,344.43 91.04,345.22 C91.55,346.02 92.27,346.85 92.68,348.13 C93.08,349.40 93.29,351.16 93.49,352.88 C93.70,354.60 93.83,356.80 93.90,358.42 C93.97,360.05 94.10,361.50 93.90,362.65 C93.70,363.79 93.32,364.72 92.68,365.29 C92.03,365.86 90.87,365.95 90.02,366.08 C89.17,366.21 88.43,366.21 87.58,366.08 C86.73,365.95 85.57,365.86 84.92,365.29 C84.28,364.72 83.90,363.79 83.70,362.65 C83.50,361.50 83.63,360.05 83.70,358.42 C83.77,356.80 83.90,354.60 84.11,352.88 C84.31,351.16 84.52,349.40 84.92,348.13 C85.33,346.85 86.05,346.02 86.56,345.22 C87.07,344.43 87.69,343.99 87.98,343.38 C88.27,342.76 88.15,341.92 88.29,341.53 C88.43,341.13 88.63,341.00 88.80,341.00 Z" fill="#2a22e6"/>
<ellipse cx="88.80" cy="349.45" rx="3.88" ry="5.28" fill="#22c8e8"/>
<ellipse cx="88.45" cy="349.45" rx="3.06" ry="3.96" fill="#5ad648"/>
<ellipse cx="88.66" cy="348.43" rx="1.22" ry="1.58" fill="#f08a20"/>
<ellipse cx="88.56" cy="350.13" rx="0.82" ry="1.06" fill="#f0e030"/>
<path d="M84.31,358.69 Q88.80,355.52 93.29,358.69" fill="none" stroke="#f6f4fc" stroke-width="1.85"/>
<ellipse cx="88.80" cy="363.70" rx="5.10" ry="2.64" fill="#5ad648"/>
<ellipse cx="85.54" cy="363.18" rx="2.14" ry="2.38" fill="#e82a1a"/>
<ellipse cx="92.06" cy="363.18" rx="2.14" ry="2.38" fill="#e82a1a"/>
<ellipse cx="88.80" cy="362.91" rx="1.63" ry="2.11" fill="#f0e030"/>
<ellipse cx="88.80" cy="365.82" rx="1.22" ry="1.06" fill="#22c8e8"/>
<path d="M100.20,341.00 C100.37,341.00 100.57,341.13 100.71,341.53 C100.85,341.92 100.73,342.76 101.02,343.38 C101.31,343.99 101.93,344.43 102.44,345.22 C102.95,346.02 103.67,346.85 104.08,348.13 C104.48,349.40 104.69,351.16 104.89,352.88 C105.10,354.60 105.23,356.80 105.30,358.42 C105.37,360.05 105.50,361.50 105.30,362.65 C105.10,363.79 104.72,364.72 104.08,365.29 C103.43,365.86 102.27,365.95 101.42,366.08 C100.57,366.21 99.83,366.21 98.98,366.08 C98.13,365.95 96.97,365.86 96.32,365.29 C95.68,364.72 95.30,363.79 95.10,362.65 C94.90,361.50 95.03,360.05 95.10,358.42 C95.17,356.80 95.30,354.60 95.51,352.88 C95.71,351.16 95.92,349.40 96.32,348.13 C96.73,346.85 97.45,346.02 97.96,345.22 C98.47,344.43 99.09,343.99 99.38,343.38 C99.67,342.76 99.55,341.92 99.69,341.53 C99.83,341.13 100.03,341.00 100.20,341.00 Z" fill="#2a22e6"/>
<ellipse cx="100.20" cy="349.45" rx="3.88" ry="5.28" fill="#22c8e8"/>
<ellipse cx="100.43" cy="349.45" rx="3.06" ry="3.96" fill="#5ad648"/>
<ellipse cx="99.22" cy="348.53" rx="1.22" ry="1.58" fill="#f08a20"/>
<ellipse cx="100.82" cy="350.20" rx="0.82" ry="1.06" fill="#f08a20"/>
<path d="M95.71,358.69 Q100.20,355.52 104.69,358.69" fill="none" stroke="#f6f4fc" stroke-width="1.85"/>
<ellipse cx="100.20" cy="363.70" rx="5.10" ry="2.64" fill="#5ad648"/>
<ellipse cx="96.94" cy="363.18" rx="2.14" ry="2.38" fill="#e82a1a"/>
<ellipse cx="103.46" cy="363.18" rx="2.14" ry="2.38" fill="#e82a1a"/>
<ellipse cx="100.20" cy="362.91" rx="1.63" ry="2.11" fill="#f0e030"/>
<ellipse cx="100.20" cy="365.82" rx="1.22" ry="1.06" fill="#22c8e8"/>
<rect x="123.50" y="364.76" width="1" height="2.64" fill="#9a9a9a"/>
<path d="M124.00,341.00 C124.16,341.00 124.35,341.13 124.48,341.53 C124.61,341.92 124.50,342.76 124.77,343.38 C125.04,343.99 125.63,344.43 126.11,345.22 C126.59,346.02 127.26,346.85 127.65,348.13 C128.03,349.40 128.22,351.16 128.42,352.88 C128.61,354.60 128.74,356.80 128.80,358.42 C128.86,360.05 128.99,361.50 128.80,362.65 C128.61,363.79 128.26,364.72 127.65,365.29 C127.04,365.86 125.95,365.95 125.15,366.08 C124.35,366.21 123.65,366.21 122.85,366.08 C122.05,365.95 120.96,365.86 120.35,365.29 C119.74,364.72 119.39,363.79 119.20,362.65 C119.01,361.50 119.14,360.05 119.20,358.42 C119.26,356.80 119.39,354.60 119.58,352.88 C119.78,351.16 119.97,349.40 120.35,348.13 C120.74,346.85 121.41,346.02 121.89,345.22 C122.37,344.43 122.96,343.99 123.23,343.38 C123.50,342.76 123.39,341.92 123.52,341.53 C123.65,341.13 123.84,341.00 124.00,341.00 Z" fill="#cfcfcf"/>
<path d="M124.00,342.06 C124.13,342.06 124.30,342.18 124.40,342.54 C124.51,342.91 124.42,343.68 124.65,344.24 C124.87,344.81 125.37,345.21 125.77,345.94 C126.18,346.67 126.74,347.44 127.06,348.61 C127.39,349.79 127.55,351.41 127.71,352.99 C127.87,354.56 127.98,356.59 128.03,358.09 C128.09,359.58 128.19,360.92 128.03,361.97 C127.87,363.02 127.58,363.87 127.06,364.40 C126.55,364.93 125.64,365.01 124.97,365.13 C124.30,365.25 123.70,365.25 123.03,365.13 C122.36,365.01 121.45,364.93 120.94,364.40 C120.42,363.87 120.13,363.02 119.97,361.97 C119.81,360.92 119.91,359.58 119.97,358.09 C120.02,356.59 120.13,354.56 120.29,352.99 C120.45,351.41 120.61,349.79 120.94,348.61 C121.26,347.44 121.82,346.67 122.23,345.94 C122.63,345.21 123.13,344.81 123.35,344.24 C123.58,343.68 123.49,342.91 123.60,342.54 C123.70,342.18 123.87,342.06 124.00,342.06 Z" fill="#eeeeee"/>
<ellipse cx="124.02" cy="356.31" rx="2.88" ry="7.39" fill="#fafafa" fill-opacity="0.95"/>
<ellipse cx="123.13" cy="348.92" rx="1.34" ry="1.32" fill="#a0a0a0" fill-opacity="0.45"/>
<ellipse cx="124.97" cy="352.88" rx="0.96" ry="1.06" fill="#b0b0b0" fill-opacity="0.4"/>
<rect x="134.50" y="364.76" width="1" height="2.64" fill="#9a9a9a"/>
<path d="M135.00,341.00 C135.16,341.00 135.35,341.13 135.48,341.53 C135.61,341.92 135.50,342.76 135.77,343.38 C136.04,343.99 136.63,344.43 137.11,345.22 C137.59,346.02 138.26,346.85 138.65,348.13 C139.03,349.40 139.22,351.16 139.42,352.88 C139.61,354.60 139.74,356.80 139.80,358.42 C139.86,360.05 139.99,361.50 139.80,362.65 C139.61,363.79 139.26,364.72 138.65,365.29 C138.04,365.86 136.95,365.95 136.15,366.08 C135.35,366.21 134.65,366.21 133.85,366.08 C133.05,365.95 131.96,365.86 131.35,365.29 C130.74,364.72 130.39,363.79 130.20,362.65 C130.01,361.50 130.14,360.05 130.20,358.42 C130.26,356.80 130.39,354.60 130.58,352.88 C130.78,351.16 130.97,349.40 131.35,348.13 C131.74,346.85 132.41,346.02 132.89,345.22 C133.37,344.43 133.96,343.99 134.23,343.38 C134.50,342.76 134.39,341.92 134.52,341.53 C134.65,341.13 134.84,341.00 135.00,341.00 Z" fill="#cfcfcf"/>
<path d="M135.00,342.06 C135.13,342.06 135.30,342.18 135.40,342.54 C135.51,342.91 135.42,343.68 135.65,344.24 C135.87,344.81 136.37,345.21 136.77,345.94 C137.18,346.67 137.74,347.44 138.06,348.61 C138.39,349.79 138.55,351.41 138.71,352.99 C138.87,354.56 138.98,356.59 139.03,358.09 C139.09,359.58 139.19,360.92 139.03,361.97 C138.87,363.02 138.58,363.87 138.06,364.40 C137.55,364.93 136.64,365.01 135.97,365.13 C135.30,365.25 134.70,365.25 134.03,365.13 C133.36,365.01 132.45,364.93 131.94,364.40 C131.42,363.87 131.13,363.02 130.97,361.97 C130.81,360.92 130.91,359.58 130.97,358.09 C131.02,356.59 131.13,354.56 131.29,352.99 C131.45,351.41 131.61,349.79 131.94,348.61 C132.26,347.44 132.82,346.67 133.23,345.94 C133.63,345.21 134.13,344.81 134.35,344.24 C134.58,343.68 134.49,342.91 134.60,342.54 C134.70,342.18 134.87,342.06 135.00,342.06 Z" fill="#eeeeee"/>
<ellipse cx="135.43" cy="356.31" rx="2.88" ry="7.39" fill="#fafafa" fill-opacity="0.95"/>
<ellipse cx="135.94" cy="348.92" rx="1.34" ry="1.32" fill="#a0a0a0" fill-opacity="0.45"/>
<ellipse cx="134.21" cy="352.88" rx="0.96" ry="1.06" fill="#b0b0b0" fill-opacity="0.4"/>
<rect x="145.30" y="364.76" width="1" height="2.64" fill="#9a9a9a"/>
<path d="M145.80,341.00 C145.96,341.00 146.15,341.13 146.28,341.53 C146.41,341.92 146.30,342.76 146.57,343.38 C146.84,343.99 147.43,344.43 147.91,345.22 C148.39,346.02 149.06,346.85 149.45,348.13 C149.83,349.40 150.02,351.16 150.22,352.88 C150.41,354.60 150.54,356.80 150.60,358.42 C150.66,360.05 150.79,361.50 150.60,362.65 C150.41,363.79 150.06,364.72 149.45,365.29 C148.84,365.86 147.75,365.95 146.95,366.08 C146.15,366.21 145.45,366.21 144.65,366.08 C143.85,365.95 142.76,365.86 142.15,365.29 C141.54,364.72 141.19,363.79 141.00,362.65 C140.81,361.50 140.94,360.05 141.00,358.42 C141.06,356.80 141.19,354.60 141.38,352.88 C141.58,351.16 141.77,349.40 142.15,348.13 C142.54,346.85 143.21,346.02 143.69,345.22 C144.17,344.43 144.76,343.99 145.03,343.38 C145.30,342.76 145.19,341.92 145.32,341.53 C145.45,341.13 145.64,341.00 145.80,341.00 Z" fill="#cfcfcf"/>
<path d="M145.80,342.06 C145.93,342.06 146.10,342.18 146.20,342.54 C146.31,342.91 146.22,343.68 146.45,344.24 C146.67,344.81 147.17,345.21 147.57,345.94 C147.98,346.67 148.54,347.44 148.86,348.61 C149.19,349.79 149.35,351.41 149.51,352.99 C149.67,354.56 149.78,356.59 149.83,358.09 C149.89,359.58 149.99,360.92 149.83,361.97 C149.67,363.02 149.38,363.87 148.86,364.40 C148.35,364.93 147.44,365.01 146.77,365.13 C146.10,365.25 145.50,365.25 144.83,365.13 C144.16,365.01 143.25,364.93 142.74,364.40 C142.22,363.87 141.93,363.02 141.77,361.97 C141.61,360.92 141.71,359.58 141.77,358.09 C141.82,356.59 141.93,354.56 142.09,352.99 C142.25,351.41 142.41,349.79 142.74,348.61 C143.06,347.44 143.62,346.67 144.03,345.94 C144.43,345.21 144.93,344.81 145.15,344.24 C145.38,343.68 145.29,342.91 145.40,342.54 C145.50,342.18 145.67,342.06 145.80,342.06 Z" fill="#eeeeee"/>
<ellipse cx="145.45" cy="356.31" rx="2.88" ry="7.39" fill="#fafafa" fill-opacity="0.95"/>
<ellipse cx="144.88" cy="348.92" rx="1.34" ry="1.32" fill="#a0a0a0" fill-opacity="0.45"/>
<ellipse cx="146.36" cy="352.88" rx="0.96" ry="1.06" fill="#b0b0b0" fill-opacity="0.4"/>
<rect x="156.80" y="364.76" width="1" height="2.64" fill="#9a9a9a"/>
<path d="M157.30,341.00 C157.46,341.00 157.65,341.13 157.78,341.53 C157.91,341.92 157.80,342.76 158.07,343.38 C158.34,343.99 158.93,344.43 159.41,345.22 C159.89,346.02 160.56,346.85 160.95,348.13 C161.33,349.40 161.52,351.16 161.72,352.88 C161.91,354.60 162.04,356.80 162.10,358.42 C162.16,360.05 162.29,361.50 162.10,362.65 C161.91,363.79 161.56,364.72 160.95,365.29 C160.34,365.86 159.25,365.95 158.45,366.08 C157.65,366.21 156.95,366.21 156.15,366.08 C155.35,365.95 154.26,365.86 153.65,365.29 C153.04,364.72 152.69,363.79 152.50,362.65 C152.31,361.50 152.44,360.05 152.50,358.42 C152.56,356.80 152.69,354.60 152.88,352.88 C153.08,351.16 153.27,349.40 153.65,348.13 C154.04,346.85 154.71,346.02 155.19,345.22 C155.67,344.43 156.26,343.99 156.53,343.38 C156.80,342.76 156.69,341.92 156.82,341.53 C156.95,341.13 157.14,341.00 157.30,341.00 Z" fill="#cfcfcf"/>
<path d="M157.30,342.06 C157.43,342.06 157.60,342.18 157.70,342.54 C157.81,342.91 157.72,343.68 157.95,344.24 C158.17,344.81 158.67,345.21 159.07,345.94 C159.48,346.67 160.04,347.44 160.36,348.61 C160.69,349.79 160.85,351.41 161.01,352.99 C161.17,354.56 161.28,356.59 161.33,358.09 C161.39,359.58 161.49,360.92 161.33,361.97 C161.17,363.02 160.88,363.87 160.36,364.40 C159.85,364.93 158.94,365.01 158.27,365.13 C157.60,365.25 157.00,365.25 156.33,365.13 C155.66,365.01 154.75,364.93 154.24,364.40 C153.72,363.87 153.43,363.02 153.27,361.97 C153.11,360.92 153.21,359.58 153.27,358.09 C153.32,356.59 153.43,354.56 153.59,352.99 C153.75,351.41 153.91,349.79 154.24,348.61 C154.56,347.44 155.12,346.67 155.53,345.94 C155.93,345.21 156.43,344.81 156.65,344.24 C156.88,343.68 156.79,342.91 156.90,342.54 C157.00,342.18 157.17,342.06 157.30,342.06 Z" fill="#eeeeee"/>
<ellipse cx="156.96" cy="356.31" rx="2.88" ry="7.39" fill="#fafafa" fill-opacity="0.95"/>
<ellipse cx="156.56" cy="348.92" rx="1.34" ry="1.32" fill="#a0a0a0" fill-opacity="0.45"/>
<ellipse cx="157.14" cy="352.88" rx="0.96" ry="1.06" fill="#b0b0b0" fill-opacity="0.4"/>
<rect x="168.30" y="364.76" width="1" height="2.64" fill="#9a9a9a"/>
<path d="M168.80,341.00 C168.96,341.00 169.15,341.13 169.28,341.53 C169.41,341.92 169.30,342.76 169.57,343.38 C169.84,343.99 170.43,344.43 170.91,345.22 C171.39,346.02 172.06,346.85 172.45,348.13 C172.83,349.40 173.02,351.16 173.22,352.88 C173.41,354.60 173.54,356.80 173.60,358.42 C173.66,360.05 173.79,361.50 173.60,362.65 C173.41,363.79 173.06,364.72 172.45,365.29 C171.84,365.86 170.75,365.95 169.95,366.08 C169.15,366.21 168.45,366.21 167.65,366.08 C166.85,365.95 165.76,365.86 165.15,365.29 C164.54,364.72 164.19,363.79 164.00,362.65 C163.81,361.50 163.94,360.05 164.00,358.42 C164.06,356.80 164.19,354.60 164.38,352.88 C164.58,351.16 164.77,349.40 165.15,348.13 C165.54,346.85 166.21,346.02 166.69,345.22 C167.17,344.43 167.76,343.99 168.03,343.38 C168.30,342.76 168.19,341.92 168.32,341.53 C168.45,341.13 168.64,341.00 168.80,341.00 Z" fill="#cfcfcf"/>
<path d="M168.80,342.06 C168.93,342.06 169.10,342.18 169.20,342.54 C169.31,342.91 169.22,343.68 169.45,344.24 C169.67,344.81 170.17,345.21 170.57,345.94 C170.98,346.67 171.54,347.44 171.86,348.61 C172.19,349.79 172.35,351.41 172.51,352.99 C172.67,354.56 172.78,356.59 172.83,358.09 C172.89,359.58 172.99,360.92 172.83,361.97 C172.67,363.02 172.38,363.87 171.86,364.40 C171.35,364.93 170.44,365.01 169.77,365.13 C169.10,365.25 168.50,365.25 167.83,365.13 C167.16,365.01 166.25,364.93 165.74,364.40 C165.22,363.87 164.93,363.02 164.77,361.97 C164.61,360.92 164.71,359.58 164.77,358.09 C164.82,356.59 164.93,354.56 165.09,352.99 C165.25,351.41 165.41,349.79 165.74,348.61 C166.06,347.44 166.62,346.67 167.03,345.94 C167.43,345.21 167.93,344.81 168.15,344.24 C168.38,343.68 168.29,342.91 168.40,342.54 C168.50,342.18 168.67,342.06 168.80,342.06 Z" fill="#eeeeee"/>
<ellipse cx="169.42" cy="356.31" rx="2.88" ry="7.39" fill="#fafafa" fill-opacity="0.95"/>
<ellipse cx="169.44" cy="348.92" rx="1.34" ry="1.32" fill="#a0a0a0" fill-opacity="0.45"/>
<ellipse cx="168.32" cy="352.88" rx="0.96" ry="1.06" fill="#b0b0b0" fill-opacity="0.4"/>
<path d="M190.20,341.00 C190.37,341.00 190.57,341.13 190.71,341.53 C190.85,341.92 190.73,342.76 191.02,343.38 C191.31,343.99 191.93,344.43 192.44,345.22 C192.95,346.02 193.67,346.85 194.08,348.13 C194.48,349.40 194.69,351.16 194.89,352.88 C195.10,354.60 195.23,356.80 195.30,358.42 C195.37,360.05 195.50,361.50 195.30,362.65 C195.10,363.79 194.72,364.72 194.08,365.29 C193.43,365.86 192.27,365.95 191.42,366.08 C190.57,366.21 189.83,366.21 188.98,366.08 C188.13,365.95 186.97,365.86 186.32,365.29 C185.68,364.72 185.30,363.79 185.10,362.65 C184.90,361.50 185.03,360.05 185.10,358.42 C185.17,356.80 185.30,354.60 185.51,352.88 C185.71,351.16 185.92,349.40 186.32,348.13 C186.73,346.85 187.45,346.02 187.96,345.22 C188.47,344.43 189.09,343.99 189.38,343.38 C189.67,342.76 189.55,341.92 189.69,341.53 C189.83,341.13 190.03,341.00 190.20,341.00 Z" fill="#2a22e6"/>
<ellipse cx="190.20" cy="349.45" rx="3.88" ry="5.28" fill="#22c8e8"/>
<ellipse cx="189.84" cy="349.45" rx="3.06" ry="3.96" fill="#5ad648"/>
<ellipse cx="191.06" cy="348.58" rx="1.22" ry="1.58" fill="#e82a1a"/>
<ellipse cx="189.67" cy="349.92" rx="0.82" ry="1.06" fill="#f0e030"/>
<path d="M185.71,358.69 Q190.20,355.52 194.69,358.69" fill="none" stroke="#f6f4fc" stroke-width="1.85"/>
<ellipse cx="190.20" cy="363.70" rx="5.10" ry="2.64" fill="#5ad648"/>
<ellipse cx="186.94" cy="363.18" rx="2.14" ry="2.38" fill="#e82a1a"/>
<ellipse cx="193.46" cy="363.18" rx="2.14" ry="2.38" fill="#e82a1a"/>
<ellipse cx="190.20" cy="362.91" rx="1.63" ry="2.11" fill="#f0e030"/>
<ellipse cx="190.20" cy="365.82" rx="1.22" ry="1.06" fill="#22c8e8"/>
<path d="M201.70,341.00 C201.87,341.00 202.07,341.13 202.21,341.53 C202.35,341.92 202.23,342.76 202.52,343.38 C202.81,343.99 203.43,344.43 203.94,345.22 C204.45,346.02 205.17,346.85 205.58,348.13 C205.98,349.40 206.19,351.16 206.39,352.88 C206.60,354.60 206.73,356.80 206.80,358.42 C206.87,360.05 207.00,361.50 206.80,362.65 C206.60,363.79 206.22,364.72 205.58,365.29 C204.93,365.86 203.77,365.95 202.92,366.08 C202.07,366.21 201.33,366.21 200.48,366.08 C199.63,365.95 198.47,365.86 197.82,365.29 C197.18,364.72 196.80,363.79 196.60,362.65 C196.40,361.50 196.53,360.05 196.60,358.42 C196.67,356.80 196.80,354.60 197.01,352.88 C197.21,351.16 197.42,349.40 197.82,348.13 C198.23,346.85 198.95,346.02 199.46,345.22 C199.97,344.43 200.59,343.99 200.88,343.38 C201.17,342.76 201.05,341.92 201.19,341.53 C201.33,341.13 201.53,341.00 201.70,341.00 Z" fill="#2a22e6"/>
<ellipse cx="201.70" cy="349.45" rx="3.88" ry="5.28" fill="#22c8e8"/>
<ellipse cx="201.62" cy="349.45" rx="3.06" ry="3.96" fill="#5ad648"/>
<ellipse cx="200.83" cy="349.55" rx="1.22" ry="1.58" fill="#e82a1a"/>
<ellipse cx="200.44" cy="349.87" rx="0.82" ry="1.06" fill="#f0e030"/>
<path d="M197.21,358.69 Q201.70,355.52 206.19,358.69" fill="none" stroke="#f6f4fc" stroke-width="1.85"/>
<ellipse cx="201.70" cy="363.70" rx="5.10" ry="2.64" fill="#5ad648"/>
<ellipse cx="198.44" cy="363.18" rx="2.14" ry="2.38" fill="#e82a1a"/>
<ellipse cx="204.96" cy="363.18" rx="2.14" ry="2.38" fill="#e82a1a"/>
<ellipse cx="201.70" cy="362.91" rx="1.63" ry="2.11" fill="#f0e030"/>
<ellipse cx="201.70" cy="365.82" rx="1.22" ry="1.06" fill="#22c8e8"/>
<path d="M213.20,341.00 C213.37,341.00 213.57,341.13 213.71,341.53 C213.85,341.92 213.73,342.76 214.02,343.38 C214.31,343.99 214.93,344.43 215.44,345.22 C215.95,346.02 216.67,346.85 217.08,348.13 C217.48,349.40 217.69,351.16 217.89,352.88 C218.10,354.60 218.23,356.80 218.30,358.42 C218.37,360.05 218.50,361.50 218.30,362.65 C218.10,363.79 217.72,364.72 217.08,365.29 C216.43,365.86 215.27,365.95 214.42,366.08 C213.57,366.21 212.83,366.21 211.98,366.08 C211.13,365.95 209.97,365.86 209.32,365.29 C208.68,364.72 208.30,363.79 208.10,362.65 C207.90,361.50 208.03,360.05 208.10,358.42 C208.17,356.80 208.30,354.60 208.51,352.88 C208.71,351.16 208.92,349.40 209.32,348.13 C209.73,346.85 210.45,346.02 210.96,345.22 C211.47,344.43 212.09,343.99 212.38,343.38 C212.67,342.76 212.55,341.92 212.69,341.53 C212.83,341.13 213.03,341.00 213.20,341.00 Z" fill="#2a22e6"/>
<ellipse cx="213.20" cy="349.45" rx="3.88" ry="5.28" fill="#22c8e8"/>
<ellipse cx="212.76" cy="349.45" rx="3.06" ry="3.96" fill="#5ad648"/>
<ellipse cx="213.94" cy="348.27" rx="1.22" ry="1.58" fill="#f08a20"/>
<ellipse cx="214.71" cy="350.29" rx="0.82" ry="1.06" fill="#f08a20"/>
<path d="M208.71,358.69 Q213.20,355.52 217.69,358.69" fill="none" stroke="#f6f4fc" stroke-width="1.85"/>
<ellipse cx="213.20" cy="363.70" rx="5.10" ry="2.64" fill="#5ad648"/>
<ellipse cx="209.94" cy="363.18" rx="2.14" ry="2.38" fill="#e82a1a"/>
<ellipse cx="216.46" cy="363.18" rx="2.14" ry="2.38" fill="#e82a1a"/>
<ellipse cx="213.20" cy="362.91" rx="1.63" ry="2.11" fill="#f0e030"/>
<ellipse cx="213.20" cy="365.82" rx="1.22" ry="1.06" fill="#22c8e8"/>
<path d="M224.80,341.00 C224.97,341.00 225.17,341.13 225.31,341.53 C225.45,341.92 225.33,342.76 225.62,343.38 C225.91,343.99 226.53,344.43 227.04,345.22 C227.55,346.02 228.27,346.85 228.68,348.13 C229.08,349.40 229.29,351.16 229.49,352.88 C229.70,354.60 229.83,356.80 229.90,358.42 C229.97,360.05 230.10,361.50 229.90,362.65 C229.70,363.79 229.32,364.72 228.68,365.29 C228.03,365.86 226.87,365.95 226.02,366.08 C225.17,366.21 224.43,366.21 223.58,366.08 C222.73,365.95 221.57,365.86 220.92,365.29 C220.28,364.72 219.90,363.79 219.70,362.65 C219.50,361.50 219.63,360.05 219.70,358.42 C219.77,356.80 219.90,354.60 220.11,352.88 C220.31,351.16 220.52,349.40 220.92,348.13 C221.33,346.85 222.05,346.02 222.56,345.22 C223.07,344.43 223.69,343.99 223.98,343.38 C224.27,342.76 224.15,341.92 224.29,341.53 C224.43,341.13 224.63,341.00 224.80,341.00 Z" fill="#2a22e6"/>
<ellipse cx="224.80" cy="349.45" rx="3.88" ry="5.28" fill="#22c8e8"/>
<ellipse cx="224.92" cy="349.45" rx="3.06" ry="3.96" fill="#5ad648"/>
<ellipse cx="223.87" cy="348.95" rx="1.22" ry="1.58" fill="#f0e030"/>
<ellipse cx="226.24" cy="349.88" rx="0.82" ry="1.06" fill="#f0e030"/>
<path d="M220.31,358.69 Q224.80,355.52 229.29,358.69" fill="none" stroke="#f6f4fc" stroke-width="1.85"/>
<ellipse cx="224.80" cy="363.70" rx="5.10" ry="2.64" fill="#5ad648"/>
<ellipse cx="221.54" cy="363.18" rx="2.14" ry="2.38" fill="#e82a1a"/>
<ellipse cx="228.06" cy="363.18" rx="2.14" ry="2.38" fill="#e82a1a"/>
<ellipse cx="224.80" cy="362.91" rx="1.63" ry="2.11" fill="#f0e030"/>
<ellipse cx="224.80" cy="365.82" rx="1.22" ry="1.06" fill="#22c8e8"/>
<path d="M235.60,341.00 C235.77,341.00 235.97,341.13 236.11,341.53 C236.25,341.92 236.13,342.76 236.42,343.38 C236.70,343.99 237.33,344.43 237.84,345.22 C238.35,346.02 239.07,346.85 239.48,348.13 C239.88,349.40 240.09,351.16 240.29,352.88 C240.50,354.60 240.63,356.80 240.70,358.42 C240.77,360.05 240.90,361.50 240.70,362.65 C240.50,363.79 240.12,364.72 239.48,365.29 C238.83,365.86 237.67,365.95 236.82,366.08 C235.97,366.21 235.23,366.21 234.38,366.08 C233.53,365.95 232.37,365.86 231.72,365.29 C231.08,364.72 230.70,363.79 230.50,362.65 C230.30,361.50 230.43,360.05 230.50,358.42 C230.57,356.80 230.70,354.60 230.91,352.88 C231.11,351.16 231.32,349.40 231.72,348.13 C232.13,346.85 232.85,346.02 233.36,345.22 C233.87,344.43 234.50,343.99 234.78,343.38 C235.07,342.76 234.95,341.92 235.09,341.53 C235.23,341.13 235.43,341.00 235.60,341.00 Z" fill="#2a22e6"/>
<ellipse cx="235.60" cy="349.45" rx="3.88" ry="5.28" fill="#22c8e8"/>
<ellipse cx="235.30" cy="349.45" rx="3.06" ry="3.96" fill="#5ad648"/>
<ellipse cx="235.22" cy="347.88" rx="1.22" ry="1.58" fill="#f0e030"/>
<ellipse cx="234.96" cy="350.50" rx="0.82" ry="1.06" fill="#f0e030"/>
<path d="M231.11,358.69 Q235.60,355.52 240.09,358.69" fill="none" stroke="#f6f4fc" stroke-width="1.85"/>
<ellipse cx="235.60" cy="363.70" rx="5.10" ry="2.64" fill="#5ad648"/>
<ellipse cx="232.34" cy="363.18" rx="2.14" ry="2.38" fill="#e82a1a"/>
<ellipse cx="238.86" cy="363.18" rx="2.14" ry="2.38" fill="#e82a1a"/>
<ellipse cx="235.60" cy="362.91" rx="1.63" ry="2.11" fill="#f0e030"/>
<ellipse cx="235.60" cy="365.82" rx="1.22" ry="1.06" fill="#22c8e8"/>
</g>
<text x="45.5" y="250.4" font-size="7.6" textLength="53.9" lengthAdjust="spacingAndGlyphs" fill="#231f20" stroke="#231f20" stroke-width="0.22">IgG1 Control Ab</text>
<text x="119.4" y="250.2" font-size="7.6" textLength="45.4" lengthAdjust="spacingAndGlyphs" fill="#231f20" stroke="#231f20" stroke-width="0.22">PF-06747143</text>
<text x="190.9" y="250.2" font-size="7.6" textLength="33.2" lengthAdjust="spacingAndGlyphs" fill="#231f20" stroke="#231f20" stroke-width="0.22">Melphalan</text>
<text x="35.7" y="273.8" font-size="7.6" text-anchor="end" fill="#231f20" stroke="#231f20" stroke-width="0.22">D8</text>
<text x="35.7" y="302.0" font-size="7.6" text-anchor="end" fill="#231f20" stroke="#231f20" stroke-width="0.22">D16</text>
<text x="35.7" y="329.6" font-size="7.6" text-anchor="end" fill="#231f20" stroke="#231f20" stroke-width="0.22">D23</text>
<text x="35.7" y="359.1" font-size="7.6" text-anchor="end" fill="#231f20" stroke="#231f20" stroke-width="0.22">D30</text>
<defs><linearGradient id="cbC" x1="0" y1="0" x2="0" y2="1"><stop offset="0" stop-color="#2a1a9a"/><stop offset="0.3" stop-color="#2040e0"/><stop offset="0.5" stop-color="#30c0d0"/><stop offset="0.7" stop-color="#80d040"/><stop offset="0.85" stop-color="#e0d020"/><stop offset="1" stop-color="#c03010"/></linearGradient></defs>
<rect x="253.9" y="260.7" width="1.8" height="18.0" fill="url(#cbC)"/>
<rect x="252.5" y="256.2" width="6" height="1" fill="#c8c8c8"/>
<rect x="252.5" y="257.9" width="4" height="0.8" fill="#d8d8d8"/>
<rect x="257.5" y="266.10" width="3" height="0.7" fill="#d0d0d0"/>
<rect x="257.5" y="272.40" width="3" height="0.7" fill="#d0d0d0"/>
<rect x="257.5" y="279.20" width="3" height="0.7" fill="#d0d0d0"/>
<rect x="253.9" y="290.8" width="1.8" height="15.099999999999966" fill="url(#cbC)"/>
<rect x="252.5" y="286.3" width="6" height="1" fill="#c8c8c8"/>
<rect x="252.5" y="288.0" width="4" height="0.8" fill="#d8d8d8"/>
<rect x="257.5" y="295.33" width="3" height="0.7" fill="#d0d0d0"/>
<rect x="257.5" y="300.62" width="3" height="0.7" fill="#d0d0d0"/>
<rect x="257.5" y="306.40" width="3" height="0.7" fill="#d0d0d0"/>
<rect x="253.9" y="317.3" width="1.8" height="16.5" fill="url(#cbC)"/>
<rect x="252.5" y="312.8" width="6" height="1" fill="#c8c8c8"/>
<rect x="252.5" y="314.5" width="4" height="0.8" fill="#d8d8d8"/>
<rect x="257.5" y="322.25" width="3" height="0.7" fill="#d0d0d0"/>
<rect x="257.5" y="328.03" width="3" height="0.7" fill="#d0d0d0"/>
<rect x="257.5" y="334.30" width="3" height="0.7" fill="#d0d0d0"/>
<rect x="253.9" y="350.3" width="1.8" height="15.699999999999989" fill="url(#cbC)"/>
<rect x="252.5" y="345.8" width="6" height="1" fill="#c8c8c8"/>
<rect x="252.5" y="347.5" width="4" height="0.8" fill="#d8d8d8"/>
<rect x="257.5" y="355.01" width="3" height="0.7" fill="#d0d0d0"/>
<rect x="257.5" y="360.50" width="3" height="0.7" fill="#d0d0d0"/>
<rect x="257.5" y="366.50" width="3" height="0.7" fill="#d0d0d0"/>
<line x1="334.0" y1="245.5" x2="334.0" y2="381.09999999999997" stroke="#000" stroke-width="1.7"/>
<line x1="333.2" y1="380.4" x2="504.4" y2="380.4" stroke="#000" stroke-width="1.7"/>
<line x1="330.4" y1="380.4" x2="334.0" y2="380.4" stroke="#000" stroke-width="1.2"/>
<text x="325.8" y="383.5" font-size="8.7" text-anchor="end" fill="#333" stroke="#333" stroke-width="0.22">0</text>
<line x1="330.4" y1="354.09999999999997" x2="334.0" y2="354.09999999999997" stroke="#000" stroke-width="1.2"/>
<text x="325.8" y="357.2" font-size="8.7" text-anchor="end" fill="#333" stroke="#333" stroke-width="0.22">20</text>
<line x1="330.4" y1="327.79999999999995" x2="334.0" y2="327.79999999999995" stroke="#000" stroke-width="1.2"/>
<text x="325.8" y="330.9" font-size="8.7" text-anchor="end" fill="#333" stroke="#333" stroke-width="0.22">40</text>
<line x1="330.4" y1="301.5" x2="334.0" y2="301.5" stroke="#000" stroke-width="1.2"/>
<text x="325.8" y="304.6" font-size="8.7" text-anchor="end" fill="#333" stroke="#333" stroke-width="0.22">60</text>
<line x1="330.4" y1="275.2" x2="334.0" y2="275.2" stroke="#000" stroke-width="1.2"/>
<text x="325.8" y="278.3" font-size="8.7" text-anchor="end" fill="#333" stroke="#333" stroke-width="0.22">80</text>
<line x1="330.4" y1="248.9" x2="334.0" y2="248.9" stroke="#000" stroke-width="1.2"/>
<text x="325.8" y="252.0" font-size="8.7" text-anchor="end" fill="#333" stroke="#333" stroke-width="0.22">100</text>
<line x1="334.0" y1="380.4" x2="334.0" y2="383.7" stroke="#000" stroke-width="1.2"/>
<text x="334.0" y="395.6" font-size="9" text-anchor="middle" fill="#333" stroke="#333" stroke-width="0.22">0</text>
<line x1="367.4" y1="380.4" x2="367.4" y2="383.7" stroke="#000" stroke-width="1.2"/>
<text x="367.4" y="395.6" font-size="9" text-anchor="middle" fill="#333" stroke="#333" stroke-width="0.22">10</text>
<line x1="400.8" y1="380.4" x2="400.8" y2="383.7" stroke="#000" stroke-width="1.2"/>
<text x="400.8" y="395.6" font-size="9" text-anchor="middle" fill="#333" stroke="#333" stroke-width="0.22">20</text>
<line x1="434.2" y1="380.4" x2="434.2" y2="383.7" stroke="#000" stroke-width="1.2"/>
<text x="434.2" y="395.6" font-size="9" text-anchor="middle" fill="#333" stroke="#333" stroke-width="0.22">30</text>
<line x1="467.6" y1="380.4" x2="467.6" y2="383.7" stroke="#000" stroke-width="1.2"/>
<text x="467.6" y="395.6" font-size="9" text-anchor="middle" fill="#333" stroke="#333" stroke-width="0.22">40</text>
<line x1="501.0" y1="380.4" x2="501.0" y2="383.7" stroke="#000" stroke-width="1.2"/>
<text x="501.0" y="395.6" font-size="9" text-anchor="middle" fill="#333" stroke="#333" stroke-width="0.22">50</text>
<text x="388.8" y="411.5" font-size="10.6" textLength="62" lengthAdjust="spacingAndGlyphs" fill="#2a2a2a" stroke="#2a2a2a" stroke-width="0.5">Days post implant</text>
<text transform="translate(303.7,340.4) rotate(-90)" font-size="10.7" fill="#2a2a2a" stroke="#2a2a2a" stroke-width="0.5" textLength="55.5" lengthAdjust="spacingAndGlyphs">Percent survival</text>
<polyline points="334.00,248.90 497.66,248.90" fill="none" stroke="#3b4f7e" stroke-width="2"/>
<polyline points="334.00,248.90 411.15,248.90 411.15,262.05 434.20,262.05 434.20,275.20 437.87,275.20 437.87,288.35 441.55,288.35 441.55,301.50 444.22,301.50 444.22,314.65 447.89,314.65 447.89,340.95 452.24,340.95 452.24,354.10 454.91,354.10 454.91,380.40" fill="none" stroke="#24235e" stroke-width="1.9" stroke-dasharray="2.6,1.8"/>
<polyline points="444.22,248.90 444.22,262.05 447.89,262.05 447.89,275.20 451.90,275.20 451.90,301.50 454.24,301.50 454.24,354.10 457.91,354.10 457.91,380.40" fill="none" stroke="#ac1238" stroke-width="1.9"/>
<polyline points="338.30,346.80 351.60,346.80" fill="none" stroke="#24235e" stroke-width="1.9" stroke-dasharray="2.6,1.8"/>
<polyline points="338.30,359.70 351.60,359.70" fill="none" stroke="#ac1238" stroke-width="1.9"/>
<polyline points="338.30,372.30 351.60,372.30" fill="none" stroke="#3b4f7e" stroke-width="1.9"/>
<rect x="344.0" y="358.20" width="2" height="3" fill="#ac1238"/>
<rect x="344.0" y="370.80" width="2" height="3" fill="#3b4f7e"/>
<text x="356.5" y="349.1" font-size="8.7" textLength="63.7" lengthAdjust="spacingAndGlyphs" fill="#231f20" stroke="#231f20" stroke-width="0.22">IgG1 Control Ab</text>
<text x="356.5" y="361.9" font-size="8.7" textLength="73.2" lengthAdjust="spacingAndGlyphs" fill="#231f20" stroke="#231f20" stroke-width="0.22">Melphalan 1 mg/kg</text>
<text x="356.5" y="374.9" font-size="8.7" textLength="90.2" lengthAdjust="spacingAndGlyphs" fill="#231f20" stroke="#231f20" stroke-width="0.22">PF-06747143 10 mg/kg</text>
<text x="39.9" y="458.1" font-size="7.5" textLength="49" lengthAdjust="spacingAndGlyphs" fill="#231f20" stroke="#231f20" stroke-width="0.22">Cells Implanted</text>
<polygon points="62.30,461.70 67.50,461.70 64.90,468.00" fill="#000"/>
<rect x="64.4" y="460.10" width="1" height="1.8" fill="#444"/>
<text x="64.4" y="476" font-size="7.3" text-anchor="middle" fill="#231f20" stroke="#231f20" stroke-width="0.22">1</text>
<text x="97.3" y="476" font-size="7.3" text-anchor="middle" fill="#231f20" stroke="#231f20" stroke-width="0.22">10</text>
<text x="118.6" y="476" font-size="7.3" text-anchor="middle" fill="#231f20" stroke="#231f20" stroke-width="0.22">17</text>
<text x="141.5" y="476" font-size="7.3" text-anchor="middle" fill="#231f20" stroke="#231f20" stroke-width="0.22">24</text>
<text x="164.4" y="476" font-size="7.3" text-anchor="middle" fill="#231f20" stroke="#231f20" stroke-width="0.22">28</text>
<text x="186.8" y="476" font-size="7.3" text-anchor="middle" fill="#231f20" stroke="#231f20" stroke-width="0.22">35</text>
<text x="209.0" y="476" font-size="7.3" text-anchor="middle" fill="#231f20" stroke="#231f20" stroke-width="0.22">42</text>
<text x="232.1" y="476" font-size="7.3" text-anchor="middle" fill="#231f20" stroke="#231f20" stroke-width="0.22">49</text>
<text x="242.5" y="476" font-size="7.3" fill="#231f20" stroke="#231f20" stroke-width="0.22">Days</text>
<line x1="64.7" y1="483.2" x2="244.3" y2="482.12396514161225" stroke="#000" stroke-width="1.3"/>
<polygon points="242.00,479.10 248.30,482.10 242.00,485.10 243.30,482.10" fill="#000"/>
<line x1="64.7" y1="479.5" x2="64.7" y2="486.7" stroke="#000" stroke-width="1.3"/>
<line x1="96.5" y1="479.309477124183" x2="96.5" y2="486.509477124183" stroke="#000" stroke-width="1.3"/>
<line x1="119.0" y1="479.1746732026144" x2="119.0" y2="486.37467320261436" stroke="#000" stroke-width="1.3"/>
<line x1="141.5" y1="479.03986928104575" x2="141.5" y2="486.23986928104574" stroke="#000" stroke-width="1.3"/>
<line x1="164.4" y1="478.90266884531593" x2="164.4" y2="486.1026688453159" stroke="#000" stroke-width="1.3"/>
<line x1="186.8" y1="478.7684640522876" x2="186.8" y2="485.9684640522876" stroke="#000" stroke-width="1.3"/>
<line x1="209.6" y1="478.6318627450981" x2="209.6" y2="485.8318627450981" stroke="#000" stroke-width="1.3"/>
<line x1="232.1" y1="478.49705882352947" x2="232.1" y2="485.69705882352946" stroke="#000" stroke-width="1.3"/>
<path d="M96.50,491.90 Q97.70,495.90 99.60,498.60 L97.10,497.10 L97.10,500.10 L95.90,500.10 L95.90,497.10 L93.40,498.60 Q95.30,495.90 96.50,491.90 Z" fill="#000"/>
<path d="M119.00,491.90 Q120.20,495.90 122.10,498.60 L119.60,497.10 L119.60,500.10 L118.40,500.10 L118.40,497.10 L115.90,498.60 Q117.80,495.90 119.00,491.90 Z" fill="#000"/>
<path d="M141.50,491.90 Q142.70,495.90 144.60,498.60 L142.10,497.10 L142.10,500.10 L140.90,500.10 L140.90,497.10 L138.40,498.60 Q140.30,495.90 141.50,491.90 Z" fill="#000"/>
<path d="M164.40,491.90 Q165.60,495.90 167.50,498.60 L165.00,497.10 L165.00,500.10 L163.80,500.10 L163.80,497.10 L161.30,498.60 Q163.20,495.90 164.40,491.90 Z" fill="#000"/>
<path d="M186.80,491.90 Q188.00,495.90 189.90,498.60 L187.40,497.10 L187.40,500.10 L186.20,500.10 L186.20,497.10 L183.70,498.60 Q185.60,495.90 186.80,491.90 Z" fill="#000"/>
<path d="M209.60,491.90 Q210.80,495.90 212.70,498.60 L210.20,497.10 L210.20,500.10 L209.00,500.10 L209.00,497.10 L206.50,498.60 Q208.40,495.90 209.60,491.90 Z" fill="#000"/>
<path d="M232.10,491.90 Q233.30,495.90 235.20,498.60 L232.70,497.10 L232.70,500.10 L231.50,500.10 L231.50,497.10 L229.00,498.60 Q230.90,495.90 232.10,491.90 Z" fill="#000"/>
<polygon points="95.30,517.60 100.90,517.60 98.10,512.70" fill="#000"/>
<polygon points="103.40,517.60 109.00,517.60 106.20,512.70" fill="#000"/>
<polygon points="118.90,517.60 124.50,517.60 121.70,512.70" fill="#000"/>
<polygon points="127.10,517.60 132.70,517.60 129.90,512.70" fill="#000"/>
<polygon points="140.90,517.60 146.50,517.60 143.70,512.70" fill="#000"/>
<polygon points="149.00,517.60 154.60,517.60 151.80,512.70" fill="#000"/>
<polygon points="166.50,517.60 172.10,517.60 169.30,512.70" fill="#000"/>
<polygon points="174.60,517.60 180.20,517.60 177.40,512.70" fill="#000"/>
<text x="22.4" y="495" font-size="7.4" textLength="54" lengthAdjust="spacingAndGlyphs" fill="#231f20" stroke="#231f20" stroke-width="0.22">PF-06747143 or</text>
<text x="22.4" y="503.5" font-size="7.4" textLength="58" lengthAdjust="spacingAndGlyphs" fill="#231f20" stroke="#231f20" stroke-width="0.22">hIgG1 Control Ab</text>
<text x="22.4" y="517.3" font-size="7.4" textLength="37" lengthAdjust="spacingAndGlyphs" fill="#231f20" stroke="#231f20" stroke-width="0.22">Bortezomib</text>
<line x1="342.6" y1="458.0" x2="342.6" y2="589.6" stroke="#000" stroke-width="1.6"/>
<line x1="339.5" y1="588.9" x2="505" y2="588.9" stroke="#000" stroke-width="1.6"/>
<line x1="338.6" y1="557.1" x2="342.6" y2="557.1" stroke="#000" stroke-width="1.2"/>
<text x="309.5" y="560.2" font-size="8.4" textLength="22.6" lengthAdjust="spacingAndGlyphs" fill="#333" stroke="#333" stroke-width="0.22">1×10</text>
<text x="332.2" y="556.7" font-size="6.2" fill="#333" stroke="#333" stroke-width="0.22">9</text>
<line x1="338.6" y1="525.3" x2="342.6" y2="525.3" stroke="#000" stroke-width="1.2"/>
<text x="309.5" y="528.4" font-size="8.4" textLength="22.6" lengthAdjust="spacingAndGlyphs" fill="#333" stroke="#333" stroke-width="0.22">2×10</text>
<text x="332.2" y="524.9" font-size="6.2" fill="#333" stroke="#333" stroke-width="0.22">9</text>
<line x1="338.6" y1="493.5" x2="342.6" y2="493.5" stroke="#000" stroke-width="1.2"/>
<text x="309.5" y="496.6" font-size="8.4" textLength="22.6" lengthAdjust="spacingAndGlyphs" fill="#333" stroke="#333" stroke-width="0.22">3×10</text>
<text x="332.2" y="493.1" font-size="6.2" fill="#333" stroke="#333" stroke-width="0.22">9</text>
<line x1="338.6" y1="461.7" x2="342.6" y2="461.7" stroke="#000" stroke-width="1.2"/>
<text x="309.5" y="464.8" font-size="8.4" textLength="22.6" lengthAdjust="spacingAndGlyphs" fill="#333" stroke="#333" stroke-width="0.22">4×10</text>
<text x="332.2" y="461.3" font-size="6.2" fill="#333" stroke="#333" stroke-width="0.22">9</text>
<text x="335.5" y="592.0" font-size="8.6" text-anchor="end" fill="#333" stroke="#333" stroke-width="0.22">0</text>
<line x1="343.0" y1="588.9" x2="343.0" y2="592.4" stroke="#000" stroke-width="1.2"/>
<text x="343.0" y="604.0" font-size="9" text-anchor="middle" fill="#333" stroke="#333" stroke-width="0.22">0</text>
<line x1="361.9" y1="588.9" x2="361.9" y2="592.4" stroke="#000" stroke-width="1.2"/>
<text x="361.9" y="604.0" font-size="9" text-anchor="middle" fill="#333" stroke="#333" stroke-width="0.22">5</text>
<line x1="380.8" y1="588.9" x2="380.8" y2="592.4" stroke="#000" stroke-width="1.2"/>
<text x="380.8" y="604.0" font-size="9" text-anchor="middle" fill="#333" stroke="#333" stroke-width="0.22">10</text>
<line x1="399.7" y1="588.9" x2="399.7" y2="592.4" stroke="#000" stroke-width="1.2"/>
<text x="399.7" y="604.0" font-size="9" text-anchor="middle" fill="#333" stroke="#333" stroke-width="0.22">15</text>
<line x1="418.6" y1="588.9" x2="418.6" y2="592.4" stroke="#000" stroke-width="1.2"/>
<text x="418.6" y="604.0" font-size="9" text-anchor="middle" fill="#333" stroke="#333" stroke-width="0.22">20</text>
<line x1="437.5" y1="588.9" x2="437.5" y2="592.4" stroke="#000" stroke-width="1.2"/>
<text x="437.5" y="604.0" font-size="9" text-anchor="middle" fill="#333" stroke="#333" stroke-width="0.22">25</text>
<line x1="456.4" y1="588.9" x2="456.4" y2="592.4" stroke="#000" stroke-width="1.2"/>
<text x="456.4" y="604.0" font-size="9" text-anchor="middle" fill="#333" stroke="#333" stroke-width="0.22">30</text>
<line x1="475.29999999999995" y1="588.9" x2="475.29999999999995" y2="592.4" stroke="#000" stroke-width="1.2"/>
<text x="475.29999999999995" y="604.0" font-size="9" text-anchor="middle" fill="#333" stroke="#333" stroke-width="0.22">35</text>
<line x1="494.2" y1="588.9" x2="494.2" y2="592.4" stroke="#000" stroke-width="1.2"/>
<text x="494.2" y="604.0" font-size="9" text-anchor="middle" fill="#333" stroke="#333" stroke-width="0.22">40</text>
<text x="392.5" y="619.5" font-size="10.6" textLength="62.7" lengthAdjust="spacingAndGlyphs" fill="#2a2a2a" stroke="#2a2a2a" stroke-width="0.5">Days post implant</text>
<text transform="translate(303.2,577.1) rotate(-90)" font-size="10.2" fill="#2a2a2a" stroke="#2a2a2a" stroke-width="0.5" textLength="108.6" lengthAdjust="spacingAndGlyphs">Bioluminescence (photons/sec)</text>
<polyline points="373.24,588.90 399.70,588.90 426.16,588.90 452.62,588.90 479.08,588.90 501.76,587.95" fill="none" stroke="#c21a73" stroke-width="2.0"/>
<polyline points="399.70,588.90 426.16,588.90 452.62,588.26 479.08,574.91 501.76,546.29" fill="none" stroke="#7cb6e2" stroke-width="1.4" stroke-dasharray="1.3,1.3"/>
<polyline points="399.70,588.90 426.16,580.95 452.62,559.33 479.08,530.71 501.76,488.73" fill="none" stroke="#3e1c55" stroke-width="1.9" stroke-dasharray="3,2"/>
<polyline points="373.24,588.90 399.70,588.26 426.16,557.10 452.62,506.22" fill="none" stroke="#3e1c55" stroke-width="1.9"/>
<line x1="426.15999999999997" y1="553.284" x2="426.15999999999997" y2="560.9159999999999" stroke="#3e1c55" stroke-width="1.1"/>
<line x1="423.90999999999997" y1="553.284" x2="428.40999999999997" y2="553.284" stroke="#3e1c55" stroke-width="1.1"/>
<line x1="423.90999999999997" y1="560.9159999999999" x2="428.40999999999997" y2="560.9159999999999" stroke="#3e1c55" stroke-width="1.1"/>
<line x1="452.62" y1="503.99399999999997" x2="452.62" y2="508.44599999999997" stroke="#3e1c55" stroke-width="1.1"/>
<line x1="450.37" y1="503.99399999999997" x2="454.87" y2="503.99399999999997" stroke="#3e1c55" stroke-width="1.1"/>
<line x1="450.37" y1="508.44599999999997" x2="454.87" y2="508.44599999999997" stroke="#3e1c55" stroke-width="1.1"/>
<line x1="452.62" y1="556.7819999999999" x2="452.62" y2="561.87" stroke="#3e1c55" stroke-width="1.1"/>
<line x1="450.37" y1="556.7819999999999" x2="454.87" y2="556.7819999999999" stroke="#3e1c55" stroke-width="1.1"/>
<line x1="450.37" y1="561.87" x2="454.87" y2="561.87" stroke="#3e1c55" stroke-width="1.1"/>
<line x1="479.08" y1="527.8439999999999" x2="479.08" y2="533.568" stroke="#3e1c55" stroke-width="1.1"/>
<line x1="476.83" y1="527.8439999999999" x2="481.33" y2="527.8439999999999" stroke="#3e1c55" stroke-width="1.1"/>
<line x1="476.83" y1="533.568" x2="481.33" y2="533.568" stroke="#3e1c55" stroke-width="1.1"/>
<line x1="501.76" y1="477.282" x2="501.76" y2="500.496" stroke="#3e1c55" stroke-width="1.1"/>
<line x1="499.51" y1="477.282" x2="504.01" y2="477.282" stroke="#3e1c55" stroke-width="1.1"/>
<line x1="499.51" y1="500.496" x2="504.01" y2="500.496" stroke="#3e1c55" stroke-width="1.1"/>
<line x1="479.08" y1="571.41" x2="479.08" y2="578.406" stroke="#7cb6e2" stroke-width="1.1"/>
<line x1="476.83" y1="571.41" x2="481.33" y2="571.41" stroke="#7cb6e2" stroke-width="1.1"/>
<line x1="476.83" y1="578.406" x2="481.33" y2="578.406" stroke="#7cb6e2" stroke-width="1.1"/>
<line x1="501.76" y1="532.932" x2="501.76" y2="559.0079999999999" stroke="#7cb6e2" stroke-width="1.1"/>
<line x1="499.51" y1="532.932" x2="504.01" y2="532.932" stroke="#7cb6e2" stroke-width="1.1"/>
<line x1="499.51" y1="559.0079999999999" x2="504.01" y2="559.0079999999999" stroke="#7cb6e2" stroke-width="1.1"/>
<rect x="370.74" y="585.90" width="5.00" height="6.00" fill="#3e1c55"/>
<rect x="397.20" y="585.26" width="5.00" height="6.00" fill="#3e1c55"/>
<rect x="423.66" y="554.10" width="5.00" height="6.00" fill="#3e1c55"/>
<rect x="450.12" y="503.22" width="5.00" height="6.00" fill="#3e1c55"/>
<rect x="397.20" y="585.90" width="5.00" height="6.00" fill="#3e1c55"/>
<rect x="423.66" y="577.95" width="5.00" height="6.00" fill="#3e1c55"/>
<rect x="450.12" y="556.33" width="5.00" height="6.00" fill="#3e1c55"/>
<rect x="476.58" y="527.71" width="5.00" height="6.00" fill="#3e1c55"/>
<rect x="499.26" y="485.73" width="5.00" height="6.00" fill="#3e1c55"/>
<polygon points="426.16,586.15 428.91,588.90 426.16,591.65 423.41,588.90" fill="#7cb6e2"/>
<polygon points="452.62,585.51 455.37,588.26 452.62,591.01 449.87,588.26" fill="#7cb6e2"/>
<polygon points="479.08,572.16 481.83,574.91 479.08,577.66 476.33,574.91" fill="#7cb6e2"/>
<polygon points="501.76,543.54 504.51,546.29 501.76,549.04 499.01,546.29" fill="#7cb6e2"/>
<polygon points="476.28,586.57 481.88,586.57 479.08,591.70" fill="#c21a73"/>
<polygon points="498.96,585.61 504.56,585.61 501.76,590.75" fill="#c21a73"/>
<polyline points="346.50,463.10 361.00,463.10" fill="none" stroke="#3e1c55" stroke-width="1.9"/>
<rect x="351.80" y="460.10" width="5.00" height="6.00" fill="#3e1c55"/>
<polyline points="346.50,475.30 361.00,475.30" fill="none" stroke="#3e1c55" stroke-width="1.9" stroke-dasharray="2,2.2"/>
<rect x="351.80" y="472.30" width="5.00" height="6.00" fill="#3e1c55"/>
<polyline points="346.50,487.30 361.00,487.30" fill="none" stroke="#7cb6e2" stroke-width="1.4" stroke-dasharray="1.3,1.3"/>
<polygon points="354.30,484.30 357.30,487.30 354.30,490.30 351.30,487.30" fill="#7cb6e2"/>
<polyline points="346.50,498.90 361.00,498.90" fill="none" stroke="#c21a73" stroke-width="1.9"/>
<polygon points="351.50,496.57 357.10,496.57 354.30,501.70" fill="#c21a73"/>
<text x="364.2" y="465.4" font-size="7.9" textLength="54.3" lengthAdjust="spacingAndGlyphs" fill="#231f20" stroke="#231f20" stroke-width="0.22">IgG1 Control Ab</text>
<text x="364.2" y="478.1" font-size="7.9" textLength="72.8" lengthAdjust="spacingAndGlyphs" fill="#231f20" stroke="#231f20" stroke-width="0.22">Bortezomib 0.5 mg/kg</text>
<text x="364.2" y="489.6" font-size="7.9" textLength="75.1" lengthAdjust="spacingAndGlyphs" fill="#231f20" stroke="#231f20" stroke-width="0.22">PF-06747143 1 mg/kg</text>
<text x="364.2" y="500.7" font-size="7.9" textLength="53.2" lengthAdjust="spacingAndGlyphs" fill="#231f20" stroke="#231f20" stroke-width="0.22">PF-06747143 +</text>
<text x="364.2" y="510.0" font-size="7.9" textLength="37.7" lengthAdjust="spacingAndGlyphs" fill="#231f20" stroke="#231f20" stroke-width="0.22">Bortezomib</text>
<text x="102.9" y="667.0" font-size="8.6" textLength="22.8" lengthAdjust="spacingAndGlyphs" fill="#231f20" stroke="#231f20" stroke-width="0.22">Day 36</text>
<text x="173.8" y="667.0" font-size="8.6" textLength="24.2" lengthAdjust="spacingAndGlyphs" fill="#231f20" stroke="#231f20" stroke-width="0.22">Day 44</text>
<text x="73.75" y="689.6" font-size="8.2" text-anchor="end" textLength="46.2" lengthAdjust="spacingAndGlyphs" fill="#231f20" stroke="#231f20" stroke-width="0.22">PF-06747143</text>
<text x="73.75" y="729.2" font-size="8.2" text-anchor="end" textLength="36.7" lengthAdjust="spacingAndGlyphs" fill="#231f20" stroke="#231f20" stroke-width="0.22">Bortezomib</text>
<text x="48.1" y="770.5" font-size="8.2" text-anchor="middle" textLength="51.2" lengthAdjust="spacingAndGlyphs" fill="#231f20" stroke="#231f20" stroke-width="0.22">PF-06747143+</text>
<text x="48.3" y="781.0" font-size="8.2" text-anchor="middle" textLength="37.5" lengthAdjust="spacingAndGlyphs" fill="#231f20" stroke="#231f20" stroke-width="0.22">Bortezomib</text>
<g filter="url(#bl)">
<rect x="78.5" y="672.1" width="73.69999999999999" height="35.19999999999993" fill="#3a3a3a"/>
<rect x="93.30" y="672.1" width="0.8" height="35.19999999999993" fill="#555"/>
<rect x="108.00" y="672.1" width="0.8" height="35.19999999999993" fill="#555"/>
<rect x="122.35" y="672.1" width="0.8" height="35.19999999999993" fill="#555"/>
<rect x="136.65" y="672.1" width="0.8" height="35.19999999999993" fill="#555"/>
<path d="M86.40,672.90 C86.77,672.90 87.16,672.90 87.52,673.24 C87.87,673.58 88.01,673.98 88.51,674.94 C89.00,675.90 89.91,677.38 90.49,679.02 C91.07,680.66 91.67,682.42 91.98,684.80 C92.29,687.18 92.29,690.75 92.35,693.30 C92.41,695.85 92.48,698.23 92.35,700.10 C92.23,701.97 92.08,703.50 91.61,704.52 C91.13,705.54 90.20,705.88 89.50,706.22 C88.80,706.56 88.07,706.50 87.39,706.56 C86.71,706.62 86.09,706.62 85.41,706.56 C84.73,706.50 84.00,706.56 83.30,706.22 C82.60,705.88 81.67,705.54 81.19,704.52 C80.72,703.50 80.57,701.97 80.45,700.10 C80.32,698.23 80.39,695.85 80.45,693.30 C80.51,690.75 80.51,687.18 80.82,684.80 C81.13,682.42 81.73,680.66 82.31,679.02 C82.89,677.38 83.80,675.90 84.29,674.94 C84.79,673.98 84.93,673.58 85.28,673.24 C85.64,672.90 86.03,672.90 86.40,672.90 Z" fill="#f6f4fc"/>
<ellipse cx="86.40" cy="676.98" rx="3.72" ry="3.06" fill="#2a22e6"/>
<ellipse cx="87.02" cy="682.42" rx="2.48" ry="2.38" fill="#2a22e6" fill-opacity="0.8"/>
<ellipse cx="82.68" cy="697.38" rx="2.48" ry="2.38" fill="#2a22e6"/>
<ellipse cx="87.64" cy="700.78" rx="3.10" ry="2.04" fill="#2a22e6" fill-opacity="0.8"/>
<path d="M101.00,672.90 C101.37,672.90 101.76,672.90 102.12,673.24 C102.47,673.58 102.61,673.98 103.11,674.94 C103.60,675.90 104.51,677.38 105.09,679.02 C105.67,680.66 106.27,682.42 106.58,684.80 C106.89,687.18 106.89,690.75 106.95,693.30 C107.01,695.85 107.08,698.23 106.95,700.10 C106.83,701.97 106.68,703.50 106.21,704.52 C105.73,705.54 104.80,705.88 104.10,706.22 C103.40,706.56 102.67,706.50 101.99,706.56 C101.31,706.62 100.69,706.62 100.01,706.56 C99.33,706.50 98.60,706.56 97.90,706.22 C97.20,705.88 96.27,705.54 95.79,704.52 C95.32,703.50 95.17,701.97 95.05,700.10 C94.92,698.23 94.99,695.85 95.05,693.30 C95.11,690.75 95.11,687.18 95.42,684.80 C95.73,682.42 96.33,680.66 96.91,679.02 C97.49,677.38 98.40,675.90 98.89,674.94 C99.39,673.98 99.53,673.58 99.88,673.24 C100.24,672.90 100.63,672.90 101.00,672.90 Z" fill="#f6f4fc"/>
<ellipse cx="102.24" cy="676.30" rx="3.72" ry="2.72" fill="#2a22e6"/>
<ellipse cx="102.86" cy="676.30" rx="1.49" ry="1.36" fill="#22c8e8"/>
<ellipse cx="98.52" cy="684.80" rx="1.49" ry="1.70" fill="#2a22e6" fill-opacity="0.8"/>
<ellipse cx="97.90" cy="700.10" rx="2.48" ry="2.38" fill="#2a22e6" fill-opacity="0.9"/>
<path d="M115.80,672.90 C116.17,672.90 116.56,672.90 116.92,673.24 C117.27,673.58 117.41,673.98 117.91,674.94 C118.40,675.90 119.31,677.38 119.89,679.02 C120.47,680.66 121.07,682.42 121.38,684.80 C121.69,687.18 121.69,690.75 121.75,693.30 C121.81,695.85 121.88,698.23 121.75,700.10 C121.63,701.97 121.48,703.50 121.01,704.52 C120.53,705.54 119.60,705.88 118.90,706.22 C118.20,706.56 117.47,706.50 116.79,706.56 C116.11,706.62 115.49,706.62 114.81,706.56 C114.13,706.50 113.40,706.56 112.70,706.22 C112.00,705.88 111.07,705.54 110.59,704.52 C110.12,703.50 109.97,701.97 109.85,700.10 C109.72,698.23 109.79,695.85 109.85,693.30 C109.91,690.75 109.91,687.18 110.22,684.80 C110.53,682.42 111.13,680.66 111.71,679.02 C112.29,677.38 113.20,675.90 113.69,674.94 C114.19,673.98 114.33,673.58 114.68,673.24 C115.04,672.90 115.43,672.90 115.80,672.90 Z" fill="#f6f4fc"/>
<ellipse cx="115.80" cy="689.90" rx="6.20" ry="17.00" fill="#d8d8d8" fill-opacity="0.6"/>
<ellipse cx="115.80" cy="691.60" rx="3.72" ry="10.20" fill="#f2f2f2" fill-opacity="0.8"/>
<ellipse cx="113.32" cy="698.40" rx="1.49" ry="1.70" fill="#2a22e6" fill-opacity="0.7"/>
<path d="M129.70,672.90 C130.07,672.90 130.46,672.90 130.82,673.24 C131.17,673.58 131.31,673.98 131.81,674.94 C132.30,675.90 133.21,677.38 133.79,679.02 C134.37,680.66 134.97,682.42 135.28,684.80 C135.59,687.18 135.59,690.75 135.65,693.30 C135.71,695.85 135.78,698.23 135.65,700.10 C135.53,701.97 135.38,703.50 134.91,704.52 C134.43,705.54 133.50,705.88 132.80,706.22 C132.10,706.56 131.37,706.50 130.69,706.56 C130.01,706.62 129.39,706.62 128.71,706.56 C128.03,706.50 127.30,706.56 126.60,706.22 C125.90,705.88 124.97,705.54 124.49,704.52 C124.02,703.50 123.87,701.97 123.75,700.10 C123.62,698.23 123.69,695.85 123.75,693.30 C123.81,690.75 123.81,687.18 124.12,684.80 C124.43,682.42 125.03,680.66 125.61,679.02 C126.19,677.38 127.10,675.90 127.59,674.94 C128.09,673.98 128.23,673.58 128.58,673.24 C128.94,672.90 129.33,672.90 129.70,672.90 Z" fill="#f6f4fc"/>
<ellipse cx="129.70" cy="676.98" rx="4.34" ry="4.08" fill="#2a22e6"/>
<ellipse cx="130.32" cy="678.00" rx="2.23" ry="2.38" fill="#22c8e8"/>
<ellipse cx="129.70" cy="679.02" rx="0.99" ry="1.36" fill="#5ad648"/>
<ellipse cx="127.22" cy="696.02" rx="2.48" ry="2.04" fill="#2a22e6"/>
<ellipse cx="129.70" cy="700.78" rx="5.21" ry="3.40" fill="#2a22e6"/>
<ellipse cx="132.80" cy="696.70" rx="1.24" ry="1.36" fill="#e82a1a"/>
<path d="M144.40,672.90 C144.77,672.90 145.16,672.90 145.52,673.24 C145.87,673.58 146.01,673.98 146.51,674.94 C147.00,675.90 147.91,677.38 148.49,679.02 C149.07,680.66 149.67,682.42 149.98,684.80 C150.29,687.18 150.29,690.75 150.35,693.30 C150.41,695.85 150.48,698.23 150.35,700.10 C150.23,701.97 150.08,703.50 149.61,704.52 C149.13,705.54 148.20,705.88 147.50,706.22 C146.80,706.56 146.07,706.50 145.39,706.56 C144.71,706.62 144.09,706.62 143.41,706.56 C142.73,706.50 142.00,706.56 141.30,706.22 C140.60,705.88 139.67,705.54 139.19,704.52 C138.72,703.50 138.57,701.97 138.45,700.10 C138.32,698.23 138.39,695.85 138.45,693.30 C138.51,690.75 138.51,687.18 138.82,684.80 C139.13,682.42 139.73,680.66 140.31,679.02 C140.89,677.38 141.80,675.90 142.29,674.94 C142.79,673.98 142.93,673.58 143.28,673.24 C143.64,672.90 144.03,672.90 144.40,672.90 Z" fill="#f6f4fc"/>
<ellipse cx="144.40" cy="676.30" rx="3.10" ry="2.72" fill="#2a22e6" fill-opacity="0.8"/>
<ellipse cx="144.40" cy="684.80" rx="1.49" ry="1.70" fill="#2a22e6" fill-opacity="0.8"/>
<ellipse cx="144.40" cy="700.10" rx="5.21" ry="3.74" fill="#2a22e6"/>
<rect x="156.3" y="672.1" width="73.39999999999998" height="35.19999999999993" fill="#3a3a3a"/>
<rect x="172.45" y="672.1" width="0.8" height="35.19999999999993" fill="#555"/>
<rect x="186.75" y="672.1" width="0.8" height="35.19999999999993" fill="#555"/>
<rect x="201.05" y="672.1" width="0.8" height="35.19999999999993" fill="#555"/>
<rect x="214.95" y="672.1" width="0.8" height="35.19999999999993" fill="#555"/>
<path d="M165.50,672.90 C165.87,672.90 166.26,672.90 166.62,673.24 C166.97,673.58 167.11,673.98 167.61,674.94 C168.10,675.90 169.01,677.38 169.59,679.02 C170.17,680.66 170.77,682.42 171.08,684.80 C171.39,687.18 171.39,690.75 171.45,693.30 C171.51,695.85 171.58,698.23 171.45,700.10 C171.33,701.97 171.18,703.50 170.71,704.52 C170.23,705.54 169.30,705.88 168.60,706.22 C167.90,706.56 167.17,706.50 166.49,706.56 C165.81,706.62 165.19,706.62 164.51,706.56 C163.83,706.50 163.10,706.56 162.40,706.22 C161.70,705.88 160.77,705.54 160.29,704.52 C159.82,703.50 159.67,701.97 159.55,700.10 C159.42,698.23 159.49,695.85 159.55,693.30 C159.61,690.75 159.61,687.18 159.92,684.80 C160.23,682.42 160.83,680.66 161.41,679.02 C161.99,677.38 162.90,675.90 163.39,674.94 C163.89,673.98 164.03,673.58 164.38,673.24 C164.74,672.90 165.13,672.90 165.50,672.90 Z" fill="#f6f4fc"/>
<ellipse cx="165.50" cy="676.98" rx="3.72" ry="2.72" fill="#2a22e6"/>
<ellipse cx="163.02" cy="697.38" rx="3.10" ry="2.72" fill="#2a22e6"/>
<ellipse cx="166.74" cy="701.80" rx="2.48" ry="1.70" fill="#2a22e6" fill-opacity="0.7"/>
<path d="M180.20,672.90 C180.57,672.90 180.96,672.90 181.32,673.24 C181.67,673.58 181.81,673.98 182.31,674.94 C182.80,675.90 183.71,677.38 184.29,679.02 C184.87,680.66 185.47,682.42 185.78,684.80 C186.09,687.18 186.09,690.75 186.15,693.30 C186.21,695.85 186.28,698.23 186.15,700.10 C186.03,701.97 185.88,703.50 185.41,704.52 C184.93,705.54 184.00,705.88 183.30,706.22 C182.60,706.56 181.87,706.50 181.19,706.56 C180.51,706.62 179.89,706.62 179.21,706.56 C178.53,706.50 177.80,706.56 177.10,706.22 C176.40,705.88 175.47,705.54 174.99,704.52 C174.52,703.50 174.37,701.97 174.25,700.10 C174.12,698.23 174.19,695.85 174.25,693.30 C174.31,690.75 174.31,687.18 174.62,684.80 C174.93,682.42 175.53,680.66 176.11,679.02 C176.69,677.38 177.60,675.90 178.09,674.94 C178.59,673.98 178.73,673.58 179.08,673.24 C179.44,672.90 179.83,672.90 180.20,672.90 Z" fill="#f6f4fc"/>
<ellipse cx="180.20" cy="676.30" rx="3.97" ry="3.40" fill="#2a22e6"/>
<ellipse cx="180.20" cy="676.30" rx="1.49" ry="1.70" fill="#22c8e8" fill-opacity="0.8"/>
<ellipse cx="182.68" cy="693.30" rx="1.24" ry="1.36" fill="#2a22e6" fill-opacity="0.7"/>
<path d="M194.10,672.90 C194.47,672.90 194.86,672.90 195.22,673.24 C195.57,673.58 195.71,673.98 196.21,674.94 C196.70,675.90 197.61,677.38 198.19,679.02 C198.77,680.66 199.37,682.42 199.68,684.80 C199.99,687.18 199.99,690.75 200.05,693.30 C200.11,695.85 200.18,698.23 200.05,700.10 C199.93,701.97 199.78,703.50 199.31,704.52 C198.83,705.54 197.90,705.88 197.20,706.22 C196.50,706.56 195.77,706.50 195.09,706.56 C194.41,706.62 193.79,706.62 193.11,706.56 C192.43,706.50 191.70,706.56 191.00,706.22 C190.30,705.88 189.37,705.54 188.89,704.52 C188.42,703.50 188.27,701.97 188.15,700.10 C188.02,698.23 188.09,695.85 188.15,693.30 C188.21,690.75 188.21,687.18 188.52,684.80 C188.83,682.42 189.43,680.66 190.01,679.02 C190.59,677.38 191.50,675.90 191.99,674.94 C192.49,673.98 192.63,673.58 192.98,673.24 C193.34,672.90 193.73,672.90 194.10,672.90 Z" fill="#f6f4fc"/>
<ellipse cx="194.10" cy="676.98" rx="4.96" ry="3.40" fill="#2a22e6"/>
<ellipse cx="194.10" cy="683.10" rx="4.96" ry="6.12" fill="#5ad648"/>
<ellipse cx="194.10" cy="683.10" rx="2.48" ry="3.40" fill="#f0e030"/>
<ellipse cx="194.10" cy="682.42" rx="0.99" ry="1.70" fill="#f08a20"/>
<ellipse cx="194.10" cy="689.90" rx="4.46" ry="2.04" fill="#2a22e6"/>
<ellipse cx="194.10" cy="699.42" rx="5.95" ry="4.42" fill="#e82a1a"/>
<ellipse cx="194.10" cy="698.06" rx="3.10" ry="1.70" fill="#f08a20"/>
<path d="M208.80,672.90 C209.17,672.90 209.56,672.90 209.92,673.24 C210.27,673.58 210.41,673.98 210.91,674.94 C211.40,675.90 212.31,677.38 212.89,679.02 C213.47,680.66 214.07,682.42 214.38,684.80 C214.69,687.18 214.69,690.75 214.75,693.30 C214.81,695.85 214.88,698.23 214.75,700.10 C214.63,701.97 214.48,703.50 214.01,704.52 C213.53,705.54 212.60,705.88 211.90,706.22 C211.20,706.56 210.47,706.50 209.79,706.56 C209.11,706.62 208.49,706.62 207.81,706.56 C207.13,706.50 206.40,706.56 205.70,706.22 C205.00,705.88 204.07,705.54 203.59,704.52 C203.12,703.50 202.97,701.97 202.85,700.10 C202.72,698.23 202.79,695.85 202.85,693.30 C202.91,690.75 202.91,687.18 203.22,684.80 C203.53,682.42 204.13,680.66 204.71,679.02 C205.29,677.38 206.20,675.90 206.69,674.94 C207.19,673.98 207.33,673.58 207.68,673.24 C208.04,672.90 208.43,672.90 208.80,672.90 Z" fill="#f6f4fc"/>
<ellipse cx="208.80" cy="676.98" rx="4.71" ry="4.08" fill="#2a22e6"/>
<ellipse cx="209.42" cy="677.66" rx="1.98" ry="2.04" fill="#5ad648"/>
<ellipse cx="208.80" cy="683.10" rx="2.48" ry="2.04" fill="#2a22e6"/>
<ellipse cx="208.80" cy="700.10" rx="5.21" ry="3.40" fill="#2a22e6"/>
<ellipse cx="210.04" cy="699.42" rx="2.23" ry="1.70" fill="#22c8e8"/>
<path d="M221.90,672.90 C222.27,672.90 222.66,672.90 223.02,673.24 C223.37,673.58 223.51,673.98 224.01,674.94 C224.50,675.90 225.41,677.38 225.99,679.02 C226.57,680.66 227.17,682.42 227.48,684.80 C227.79,687.18 227.79,690.75 227.85,693.30 C227.91,695.85 227.98,698.23 227.85,700.10 C227.73,701.97 227.58,703.50 227.11,704.52 C226.63,705.54 225.70,705.88 225.00,706.22 C224.30,706.56 223.57,706.50 222.89,706.56 C222.21,706.62 221.59,706.62 220.91,706.56 C220.23,706.50 219.50,706.56 218.80,706.22 C218.10,705.88 217.17,705.54 216.69,704.52 C216.22,703.50 216.07,701.97 215.95,700.10 C215.82,698.23 215.89,695.85 215.95,693.30 C216.01,690.75 216.01,687.18 216.32,684.80 C216.63,682.42 217.23,680.66 217.81,679.02 C218.39,677.38 219.30,675.90 219.79,674.94 C220.29,673.98 220.43,673.58 220.78,673.24 C221.14,672.90 221.53,672.90 221.90,672.90 Z" fill="#f6f4fc"/>
<ellipse cx="221.90" cy="676.98" rx="4.96" ry="4.08" fill="#2a22e6"/>
<ellipse cx="221.90" cy="681.40" rx="3.72" ry="3.40" fill="#2a22e6"/>
<ellipse cx="221.90" cy="686.50" rx="3.10" ry="2.04" fill="#22c8e8" fill-opacity="0.8"/>
<ellipse cx="221.90" cy="700.10" rx="5.70" ry="4.08" fill="#22c8e8"/>
<ellipse cx="219.42" cy="701.80" rx="1.86" ry="2.04" fill="#5ad648"/>
<rect x="79.4" y="711.2" width="73.0" height="37.5" fill="#3a3a3a"/>
<rect x="93.30" y="711.2" width="0.8" height="37.5" fill="#555"/>
<rect x="108.00" y="711.2" width="0.8" height="37.5" fill="#555"/>
<rect x="122.35" y="711.2" width="0.8" height="37.5" fill="#555"/>
<rect x="136.65" y="711.2" width="0.8" height="37.5" fill="#555"/>
<path d="M86.40,712.00 C86.77,712.00 87.16,712.00 87.52,712.36 C87.87,712.73 88.01,713.15 88.51,714.18 C89.00,715.21 89.91,716.78 90.49,718.53 C91.07,720.29 91.67,722.16 91.98,724.71 C92.29,727.25 92.29,731.06 92.35,733.78 C92.41,736.50 92.48,739.04 92.35,741.04 C92.23,743.04 92.08,744.67 91.61,745.76 C91.13,746.85 90.20,747.21 89.50,747.57 C88.80,747.94 88.07,747.88 87.39,747.94 C86.71,748.00 86.09,748.00 85.41,747.94 C84.73,747.88 84.00,747.94 83.30,747.57 C82.60,747.21 81.67,746.85 81.19,745.76 C80.72,744.67 80.57,743.04 80.45,741.04 C80.32,739.04 80.39,736.50 80.45,733.78 C80.51,731.06 80.51,727.25 80.82,724.71 C81.13,722.16 81.73,720.29 82.31,718.53 C82.89,716.78 83.80,715.21 84.29,714.18 C84.79,713.15 84.93,712.73 85.28,712.36 C85.64,712.00 86.03,712.00 86.40,712.00 Z" fill="#f6f4fc"/>
<ellipse cx="86.40" cy="721.80" rx="6.20" ry="9.07" fill="#2a22e6"/>
<ellipse cx="85.52" cy="719.82" rx="2.48" ry="3.27" fill="#22c8e8"/>
<ellipse cx="87.07" cy="722.89" rx="1.24" ry="1.81" fill="#5ad648" fill-opacity="0.8"/>
<ellipse cx="86.40" cy="733.05" rx="4.96" ry="2.90" fill="#f6f4fc"/>
<ellipse cx="86.40" cy="742.49" rx="6.20" ry="4.72" fill="#2a22e6"/>
<ellipse cx="82.68" cy="741.04" rx="2.23" ry="2.90" fill="#e82a1a"/>
<ellipse cx="90.12" cy="741.04" rx="2.23" ry="2.90" fill="#e82a1a"/>
<ellipse cx="82.68" cy="741.04" rx="0.99" ry="1.45" fill="#f08a20"/>
<ellipse cx="90.12" cy="741.04" rx="0.99" ry="1.45" fill="#f08a20"/>
<ellipse cx="86.40" cy="741.77" rx="1.24" ry="1.81" fill="#22c8e8"/>
<ellipse cx="87.42" cy="726.52" rx="1.49" ry="1.81" fill="#2a22e6"/>
<path d="M101.00,712.00 C101.37,712.00 101.76,712.00 102.12,712.36 C102.47,712.73 102.61,713.15 103.11,714.18 C103.60,715.21 104.51,716.78 105.09,718.53 C105.67,720.29 106.27,722.16 106.58,724.71 C106.89,727.25 106.89,731.06 106.95,733.78 C107.01,736.50 107.08,739.04 106.95,741.04 C106.83,743.04 106.68,744.67 106.21,745.76 C105.73,746.85 104.80,747.21 104.10,747.57 C103.40,747.94 102.67,747.88 101.99,747.94 C101.31,748.00 100.69,748.00 100.01,747.94 C99.33,747.88 98.60,747.94 97.90,747.57 C97.20,747.21 96.27,746.85 95.79,745.76 C95.32,744.67 95.17,743.04 95.05,741.04 C94.92,739.04 94.99,736.50 95.05,733.78 C95.11,731.06 95.11,727.25 95.42,724.71 C95.73,722.16 96.33,720.29 96.91,718.53 C97.49,716.78 98.40,715.21 98.89,714.18 C99.39,713.15 99.53,712.73 99.88,712.36 C100.24,712.00 100.63,712.00 101.00,712.00 Z" fill="#f6f4fc"/>
<ellipse cx="101.00" cy="721.80" rx="6.20" ry="9.07" fill="#2a22e6"/>
<ellipse cx="101.20" cy="718.88" rx="2.48" ry="3.27" fill="#22c8e8"/>
<ellipse cx="102.15" cy="722.89" rx="1.24" ry="1.81" fill="#5ad648" fill-opacity="0.8"/>
<ellipse cx="101.00" cy="733.05" rx="4.96" ry="2.90" fill="#f6f4fc"/>
<ellipse cx="101.00" cy="742.49" rx="6.20" ry="4.72" fill="#2a22e6"/>
<ellipse cx="97.28" cy="741.04" rx="2.23" ry="2.90" fill="#e82a1a"/>
<ellipse cx="104.72" cy="741.04" rx="2.23" ry="2.90" fill="#e82a1a"/>
<ellipse cx="97.28" cy="741.04" rx="0.99" ry="1.45" fill="#f08a20"/>
<ellipse cx="104.72" cy="741.04" rx="0.99" ry="1.45" fill="#f08a20"/>
<ellipse cx="101.00" cy="741.77" rx="1.24" ry="1.81" fill="#22c8e8"/>
<ellipse cx="103.10" cy="726.52" rx="1.49" ry="1.81" fill="#2a22e6"/>
<path d="M115.80,712.00 C116.17,712.00 116.56,712.00 116.92,712.36 C117.27,712.73 117.41,713.15 117.91,714.18 C118.40,715.21 119.31,716.78 119.89,718.53 C120.47,720.29 121.07,722.16 121.38,724.71 C121.69,727.25 121.69,731.06 121.75,733.78 C121.81,736.50 121.88,739.04 121.75,741.04 C121.63,743.04 121.48,744.67 121.01,745.76 C120.53,746.85 119.60,747.21 118.90,747.57 C118.20,747.94 117.47,747.88 116.79,747.94 C116.11,748.00 115.49,748.00 114.81,747.94 C114.13,747.88 113.40,747.94 112.70,747.57 C112.00,747.21 111.07,746.85 110.59,745.76 C110.12,744.67 109.97,743.04 109.85,741.04 C109.72,739.04 109.79,736.50 109.85,733.78 C109.91,731.06 109.91,727.25 110.22,724.71 C110.53,722.16 111.13,720.29 111.71,718.53 C112.29,716.78 113.20,715.21 113.69,714.18 C114.19,713.15 114.33,712.73 114.68,712.36 C115.04,712.00 115.43,712.00 115.80,712.00 Z" fill="#f6f4fc"/>
<ellipse cx="115.80" cy="721.80" rx="6.20" ry="9.07" fill="#2a22e6"/>
<ellipse cx="114.93" cy="720.41" rx="2.48" ry="3.27" fill="#22c8e8"/>
<ellipse cx="114.98" cy="722.89" rx="1.24" ry="1.81" fill="#5ad648" fill-opacity="0.8"/>
<ellipse cx="115.80" cy="733.05" rx="4.96" ry="2.90" fill="#f6f4fc"/>
<ellipse cx="115.80" cy="742.49" rx="6.20" ry="4.72" fill="#2a22e6"/>
<ellipse cx="112.08" cy="741.04" rx="2.23" ry="2.90" fill="#e82a1a"/>
<ellipse cx="119.52" cy="741.04" rx="2.23" ry="2.90" fill="#e82a1a"/>
<ellipse cx="112.08" cy="741.04" rx="0.99" ry="1.45" fill="#f08a20"/>
<ellipse cx="119.52" cy="741.04" rx="0.99" ry="1.45" fill="#f08a20"/>
<ellipse cx="115.80" cy="741.77" rx="1.24" ry="1.81" fill="#22c8e8"/>
<ellipse cx="116.85" cy="726.52" rx="1.49" ry="1.81" fill="#2a22e6"/>
<path d="M129.70,712.00 C130.07,712.00 130.46,712.00 130.82,712.36 C131.17,712.73 131.31,713.15 131.81,714.18 C132.30,715.21 133.21,716.78 133.79,718.53 C134.37,720.29 134.97,722.16 135.28,724.71 C135.59,727.25 135.59,731.06 135.65,733.78 C135.71,736.50 135.78,739.04 135.65,741.04 C135.53,743.04 135.38,744.67 134.91,745.76 C134.43,746.85 133.50,747.21 132.80,747.57 C132.10,747.94 131.37,747.88 130.69,747.94 C130.01,748.00 129.39,748.00 128.71,747.94 C128.03,747.88 127.30,747.94 126.60,747.57 C125.90,747.21 124.97,746.85 124.49,745.76 C124.02,744.67 123.87,743.04 123.75,741.04 C123.62,739.04 123.69,736.50 123.75,733.78 C123.81,731.06 123.81,727.25 124.12,724.71 C124.43,722.16 125.03,720.29 125.61,718.53 C126.19,716.78 127.10,715.21 127.59,714.18 C128.09,713.15 128.23,712.73 128.58,712.36 C128.94,712.00 129.33,712.00 129.70,712.00 Z" fill="#f6f4fc"/>
<ellipse cx="129.70" cy="721.80" rx="6.20" ry="9.07" fill="#2a22e6"/>
<ellipse cx="130.89" cy="719.83" rx="2.48" ry="3.27" fill="#22c8e8"/>
<ellipse cx="130.24" cy="722.89" rx="1.24" ry="1.81" fill="#5ad648" fill-opacity="0.8"/>
<ellipse cx="129.70" cy="733.05" rx="4.96" ry="2.90" fill="#f6f4fc"/>
<ellipse cx="129.70" cy="742.49" rx="6.20" ry="4.72" fill="#2a22e6"/>
<ellipse cx="125.98" cy="741.04" rx="2.23" ry="2.90" fill="#e82a1a"/>
<ellipse cx="133.42" cy="741.04" rx="2.23" ry="2.90" fill="#e82a1a"/>
<ellipse cx="125.98" cy="741.04" rx="0.99" ry="1.45" fill="#f08a20"/>
<ellipse cx="133.42" cy="741.04" rx="0.99" ry="1.45" fill="#f08a20"/>
<ellipse cx="129.70" cy="741.77" rx="1.24" ry="1.81" fill="#22c8e8"/>
<ellipse cx="130.87" cy="726.52" rx="1.49" ry="1.81" fill="#2a22e6"/>
<path d="M144.40,712.00 C144.77,712.00 145.16,712.00 145.52,712.36 C145.87,712.73 146.01,713.15 146.51,714.18 C147.00,715.21 147.91,716.78 148.49,718.53 C149.07,720.29 149.67,722.16 149.98,724.71 C150.29,727.25 150.29,731.06 150.35,733.78 C150.41,736.50 150.48,739.04 150.35,741.04 C150.23,743.04 150.08,744.67 149.61,745.76 C149.13,746.85 148.20,747.21 147.50,747.57 C146.80,747.94 146.07,747.88 145.39,747.94 C144.71,748.00 144.09,748.00 143.41,747.94 C142.73,747.88 142.00,747.94 141.30,747.57 C140.60,747.21 139.67,746.85 139.19,745.76 C138.72,744.67 138.57,743.04 138.45,741.04 C138.32,739.04 138.39,736.50 138.45,733.78 C138.51,731.06 138.51,727.25 138.82,724.71 C139.13,722.16 139.73,720.29 140.31,718.53 C140.89,716.78 141.80,715.21 142.29,714.18 C142.79,713.15 142.93,712.73 143.28,712.36 C143.64,712.00 144.03,712.00 144.40,712.00 Z" fill="#f6f4fc"/>
<ellipse cx="144.40" cy="721.80" rx="6.20" ry="9.07" fill="#2a22e6"/>
<ellipse cx="145.54" cy="721.34" rx="2.48" ry="3.27" fill="#22c8e8"/>
<ellipse cx="144.98" cy="722.89" rx="1.24" ry="1.81" fill="#5ad648" fill-opacity="0.8"/>
<ellipse cx="144.40" cy="733.05" rx="4.96" ry="2.90" fill="#f6f4fc"/>
<ellipse cx="144.40" cy="742.49" rx="6.20" ry="4.72" fill="#2a22e6"/>
<ellipse cx="140.68" cy="741.04" rx="2.23" ry="2.90" fill="#e82a1a"/>
<ellipse cx="148.12" cy="741.04" rx="2.23" ry="2.90" fill="#e82a1a"/>
<ellipse cx="140.68" cy="741.04" rx="0.99" ry="1.45" fill="#f08a20"/>
<ellipse cx="148.12" cy="741.04" rx="0.99" ry="1.45" fill="#f08a20"/>
<ellipse cx="144.40" cy="741.77" rx="1.24" ry="1.81" fill="#22c8e8"/>
<ellipse cx="143.05" cy="726.52" rx="1.49" ry="1.81" fill="#2a22e6"/>
<rect x="155.9" y="711.2" width="73.79999999999998" height="37.5" fill="#3a3a3a"/>
<rect x="172.45" y="711.2" width="0.8" height="37.5" fill="#555"/>
<rect x="186.75" y="711.2" width="0.8" height="37.5" fill="#555"/>
<rect x="201.05" y="711.2" width="0.8" height="37.5" fill="#555"/>
<rect x="214.95" y="711.2" width="0.8" height="37.5" fill="#555"/>
<path d="M165.50,712.00 C165.87,712.00 166.26,712.00 166.62,712.36 C166.97,712.73 167.11,713.15 167.61,714.18 C168.10,715.21 169.01,716.78 169.59,718.53 C170.17,720.29 170.77,722.16 171.08,724.71 C171.39,727.25 171.39,731.06 171.45,733.78 C171.51,736.50 171.58,739.04 171.45,741.04 C171.33,743.04 171.18,744.67 170.71,745.76 C170.23,746.85 169.30,747.21 168.60,747.57 C167.90,747.94 167.17,747.88 166.49,747.94 C165.81,748.00 165.19,748.00 164.51,747.94 C163.83,747.88 163.10,747.94 162.40,747.57 C161.70,747.21 160.77,746.85 160.29,745.76 C159.82,744.67 159.67,743.04 159.55,741.04 C159.42,739.04 159.49,736.50 159.55,733.78 C159.61,731.06 159.61,727.25 159.92,724.71 C160.23,722.16 160.83,720.29 161.41,718.53 C161.99,716.78 162.90,715.21 163.39,714.18 C163.89,713.15 164.03,712.73 164.38,712.36 C164.74,712.00 165.13,712.00 165.50,712.00 Z" fill="#2a22e6"/>
<ellipse cx="164.94" cy="721.52" rx="4.46" ry="6.53" fill="#22c8e8"/>
<ellipse cx="166.02" cy="718.69" rx="2.73" ry="3.27" fill="#5ad648"/>
<ellipse cx="166.39" cy="724.22" rx="2.23" ry="2.54" fill="#5ad648"/>
<ellipse cx="163.68" cy="720.75" rx="1.24" ry="1.81" fill="#22c8e8"/>
<ellipse cx="164.26" cy="721.34" rx="0.99" ry="1.45" fill="#f0e030"/>
<ellipse cx="164.40" cy="727.25" rx="1.86" ry="1.81" fill="#2a22e6"/>
<ellipse cx="165.50" cy="731.97" rx="4.22" ry="1.81" fill="#f6f4fc" fill-opacity="0.9"/>
<ellipse cx="162.03" cy="741.04" rx="2.98" ry="3.99" fill="#e82a1a"/>
<ellipse cx="168.97" cy="741.04" rx="2.98" ry="3.99" fill="#e82a1a"/>
<ellipse cx="165.40" cy="741.04" rx="1.49" ry="2.54" fill="#f0e030"/>
<path d="M180.20,712.00 C180.57,712.00 180.96,712.00 181.32,712.36 C181.67,712.73 181.81,713.15 182.31,714.18 C182.80,715.21 183.71,716.78 184.29,718.53 C184.87,720.29 185.47,722.16 185.78,724.71 C186.09,727.25 186.09,731.06 186.15,733.78 C186.21,736.50 186.28,739.04 186.15,741.04 C186.03,743.04 185.88,744.67 185.41,745.76 C184.93,746.85 184.00,747.21 183.30,747.57 C182.60,747.94 181.87,747.88 181.19,747.94 C180.51,748.00 179.89,748.00 179.21,747.94 C178.53,747.88 177.80,747.94 177.10,747.57 C176.40,747.21 175.47,746.85 174.99,745.76 C174.52,744.67 174.37,743.04 174.25,741.04 C174.12,739.04 174.19,736.50 174.25,733.78 C174.31,731.06 174.31,727.25 174.62,724.71 C174.93,722.16 175.53,720.29 176.11,718.53 C176.69,716.78 177.60,715.21 178.09,714.18 C178.59,713.15 178.73,712.73 179.08,712.36 C179.44,712.00 179.83,712.00 180.20,712.00 Z" fill="#2a22e6"/>
<ellipse cx="179.66" cy="721.78" rx="4.46" ry="6.53" fill="#22c8e8"/>
<ellipse cx="178.97" cy="719.20" rx="2.73" ry="3.27" fill="#5ad648"/>
<ellipse cx="180.83" cy="725.77" rx="2.23" ry="2.54" fill="#5ad648"/>
<ellipse cx="180.09" cy="722.46" rx="1.24" ry="1.81" fill="#f0e030"/>
<ellipse cx="180.02" cy="725.96" rx="0.99" ry="1.45" fill="#f0e030"/>
<ellipse cx="180.75" cy="727.25" rx="1.86" ry="1.81" fill="#2a22e6"/>
<ellipse cx="180.20" cy="731.97" rx="4.22" ry="1.81" fill="#f6f4fc" fill-opacity="0.9"/>
<ellipse cx="176.73" cy="741.04" rx="2.98" ry="3.99" fill="#e82a1a"/>
<ellipse cx="183.67" cy="741.04" rx="2.98" ry="3.99" fill="#e82a1a"/>
<ellipse cx="179.31" cy="741.04" rx="1.49" ry="2.54" fill="#5ad648"/>
<path d="M194.10,712.00 C194.47,712.00 194.86,712.00 195.22,712.36 C195.57,712.73 195.71,713.15 196.21,714.18 C196.70,715.21 197.61,716.78 198.19,718.53 C198.77,720.29 199.37,722.16 199.68,724.71 C199.99,727.25 199.99,731.06 200.05,733.78 C200.11,736.50 200.18,739.04 200.05,741.04 C199.93,743.04 199.78,744.67 199.31,745.76 C198.83,746.85 197.90,747.21 197.20,747.57 C196.50,747.94 195.77,747.88 195.09,747.94 C194.41,748.00 193.79,748.00 193.11,747.94 C192.43,747.88 191.70,747.94 191.00,747.57 C190.30,747.21 189.37,746.85 188.89,745.76 C188.42,744.67 188.27,743.04 188.15,741.04 C188.02,739.04 188.09,736.50 188.15,733.78 C188.21,731.06 188.21,727.25 188.52,724.71 C188.83,722.16 189.43,720.29 190.01,718.53 C190.59,716.78 191.50,715.21 191.99,714.18 C192.49,713.15 192.63,712.73 192.98,712.36 C193.34,712.00 193.73,712.00 194.10,712.00 Z" fill="#2a22e6"/>
<ellipse cx="194.43" cy="722.48" rx="4.46" ry="6.53" fill="#22c8e8"/>
<ellipse cx="193.88" cy="718.89" rx="2.73" ry="3.27" fill="#5ad648"/>
<ellipse cx="194.54" cy="726.77" rx="2.23" ry="2.54" fill="#5ad648"/>
<ellipse cx="193.83" cy="722.99" rx="1.24" ry="1.81" fill="#f08a20"/>
<ellipse cx="192.37" cy="724.13" rx="0.99" ry="1.45" fill="#f0e030"/>
<ellipse cx="192.62" cy="727.25" rx="1.86" ry="1.81" fill="#2a22e6"/>
<ellipse cx="194.10" cy="731.97" rx="4.22" ry="1.81" fill="#f6f4fc" fill-opacity="0.9"/>
<ellipse cx="190.63" cy="741.04" rx="2.98" ry="3.99" fill="#e82a1a"/>
<ellipse cx="197.57" cy="741.04" rx="2.98" ry="3.99" fill="#e82a1a"/>
<ellipse cx="194.09" cy="741.04" rx="1.49" ry="2.54" fill="#f08a20"/>
<path d="M208.80,712.00 C209.17,712.00 209.56,712.00 209.92,712.36 C210.27,712.73 210.41,713.15 210.91,714.18 C211.40,715.21 212.31,716.78 212.89,718.53 C213.47,720.29 214.07,722.16 214.38,724.71 C214.69,727.25 214.69,731.06 214.75,733.78 C214.81,736.50 214.88,739.04 214.75,741.04 C214.63,743.04 214.48,744.67 214.01,745.76 C213.53,746.85 212.60,747.21 211.90,747.57 C211.20,747.94 210.47,747.88 209.79,747.94 C209.11,748.00 208.49,748.00 207.81,747.94 C207.13,747.88 206.40,747.94 205.70,747.57 C205.00,747.21 204.07,746.85 203.59,745.76 C203.12,744.67 202.97,743.04 202.85,741.04 C202.72,739.04 202.79,736.50 202.85,733.78 C202.91,731.06 202.91,727.25 203.22,724.71 C203.53,722.16 204.13,720.29 204.71,718.53 C205.29,716.78 206.20,715.21 206.69,714.18 C207.19,713.15 207.33,712.73 207.68,712.36 C208.04,712.00 208.43,712.00 208.80,712.00 Z" fill="#2a22e6"/>
<ellipse cx="208.29" cy="722.91" rx="4.46" ry="6.53" fill="#22c8e8"/>
<ellipse cx="209.05" cy="718.94" rx="2.73" ry="3.27" fill="#5ad648"/>
<ellipse cx="209.49" cy="725.41" rx="2.23" ry="2.54" fill="#5ad648"/>
<ellipse cx="210.02" cy="721.68" rx="1.24" ry="1.81" fill="#e82a1a"/>
<ellipse cx="209.63" cy="725.48" rx="0.99" ry="1.45" fill="#f0e030"/>
<ellipse cx="208.03" cy="727.25" rx="1.86" ry="1.81" fill="#2a22e6"/>
<ellipse cx="208.80" cy="731.97" rx="4.22" ry="1.81" fill="#f6f4fc" fill-opacity="0.9"/>
<ellipse cx="205.33" cy="741.04" rx="2.98" ry="3.99" fill="#e82a1a"/>
<ellipse cx="212.27" cy="741.04" rx="2.98" ry="3.99" fill="#e82a1a"/>
<ellipse cx="207.80" cy="741.04" rx="1.49" ry="2.54" fill="#f0e030"/>
<ellipse cx="208.80" cy="722.89" rx="3.72" ry="5.08" fill="#f08a20"/>
<ellipse cx="208.80" cy="722.16" rx="1.86" ry="2.54" fill="#e82a1a"/>
<ellipse cx="208.80" cy="741.04" rx="5.58" ry="4.36" fill="#e82a1a"/>
<path d="M221.90,712.00 C222.27,712.00 222.66,712.00 223.02,712.36 C223.37,712.73 223.51,713.15 224.01,714.18 C224.50,715.21 225.41,716.78 225.99,718.53 C226.57,720.29 227.17,722.16 227.48,724.71 C227.79,727.25 227.79,731.06 227.85,733.78 C227.91,736.50 227.98,739.04 227.85,741.04 C227.73,743.04 227.58,744.67 227.11,745.76 C226.63,746.85 225.70,747.21 225.00,747.57 C224.30,747.94 223.57,747.88 222.89,747.94 C222.21,748.00 221.59,748.00 220.91,747.94 C220.23,747.88 219.50,747.94 218.80,747.57 C218.10,747.21 217.17,746.85 216.69,745.76 C216.22,744.67 216.07,743.04 215.95,741.04 C215.82,739.04 215.89,736.50 215.95,733.78 C216.01,731.06 216.01,727.25 216.32,724.71 C216.63,722.16 217.23,720.29 217.81,718.53 C218.39,716.78 219.30,715.21 219.79,714.18 C220.29,713.15 220.43,712.73 220.78,712.36 C221.14,712.00 221.53,712.00 221.90,712.00 Z" fill="#2a22e6"/>
<ellipse cx="221.77" cy="721.26" rx="4.46" ry="6.53" fill="#22c8e8"/>
<ellipse cx="222.11" cy="718.65" rx="2.73" ry="3.27" fill="#5ad648"/>
<ellipse cx="221.86" cy="724.46" rx="2.23" ry="2.54" fill="#5ad648"/>
<ellipse cx="222.63" cy="719.21" rx="1.24" ry="1.81" fill="#f0e030"/>
<ellipse cx="223.64" cy="721.65" rx="0.99" ry="1.45" fill="#f0e030"/>
<ellipse cx="219.76" cy="727.25" rx="1.86" ry="1.81" fill="#2a22e6"/>
<ellipse cx="221.90" cy="731.97" rx="4.22" ry="1.81" fill="#f6f4fc" fill-opacity="0.9"/>
<ellipse cx="218.43" cy="741.04" rx="2.98" ry="3.99" fill="#e82a1a"/>
<ellipse cx="225.37" cy="741.04" rx="2.98" ry="3.99" fill="#e82a1a"/>
<ellipse cx="222.33" cy="741.04" rx="1.49" ry="2.54" fill="#5ad648"/>
<rect x="79.4" y="752.8" width="72.4" height="36.30000000000007" fill="#3a3a3a"/>
<rect x="93.30" y="752.8" width="0.8" height="36.30000000000007" fill="#555"/>
<rect x="108.00" y="752.8" width="0.8" height="36.30000000000007" fill="#555"/>
<rect x="122.35" y="752.8" width="0.8" height="36.30000000000007" fill="#555"/>
<rect x="136.65" y="752.8" width="0.8" height="36.30000000000007" fill="#555"/>
<path d="M86.40,753.60 C86.77,753.60 87.16,753.60 87.52,753.95 C87.87,754.30 88.01,754.71 88.51,755.71 C89.00,756.70 89.91,758.22 90.49,759.92 C91.07,761.61 91.67,763.43 91.98,765.88 C92.29,768.34 92.29,772.03 92.35,774.66 C92.41,777.29 92.48,779.75 92.35,781.68 C92.23,783.61 92.08,785.19 91.61,786.24 C91.13,787.30 90.20,787.65 89.50,788.00 C88.80,788.35 88.07,788.29 87.39,788.35 C86.71,788.41 86.09,788.41 85.41,788.35 C84.73,788.29 84.00,788.35 83.30,788.00 C82.60,787.65 81.67,787.30 81.19,786.24 C80.72,785.19 80.57,783.61 80.45,781.68 C80.32,779.75 80.39,777.29 80.45,774.66 C80.51,772.03 80.51,768.34 80.82,765.88 C81.13,763.43 81.73,761.61 82.31,759.92 C82.89,758.22 83.80,756.70 84.29,755.71 C84.79,754.71 84.93,754.30 85.28,753.95 C85.64,753.60 86.03,753.60 86.40,753.60 Z" fill="#cfcfcf"/>
<path d="M86.40,755.00 C86.71,755.00 87.04,755.00 87.34,755.33 C87.63,755.65 87.75,756.03 88.17,756.94 C88.59,757.86 89.35,759.26 89.84,760.82 C90.32,762.38 90.83,764.05 91.09,766.31 C91.35,768.57 91.35,771.96 91.40,774.38 C91.45,776.80 91.50,779.06 91.40,780.84 C91.30,782.61 91.17,784.07 90.77,785.04 C90.38,786.00 89.59,786.33 89.00,786.65 C88.41,786.97 87.81,786.92 87.23,786.97 C86.66,787.03 86.14,787.03 85.57,786.97 C84.99,786.92 84.39,786.97 83.80,786.65 C83.21,786.33 82.42,786.00 82.03,785.04 C81.63,784.07 81.50,782.61 81.40,780.84 C81.30,779.06 81.35,776.80 81.40,774.38 C81.45,771.96 81.45,768.57 81.71,766.31 C81.97,764.05 82.48,762.38 82.96,760.82 C83.45,759.26 84.21,757.86 84.63,756.94 C85.05,756.03 85.17,755.65 85.46,755.33 C85.76,755.00 86.09,755.00 86.40,755.00 Z" fill="#eeeeee"/>
<ellipse cx="86.33" cy="773.96" rx="3.72" ry="9.83" fill="#fafafa" fill-opacity="0.95"/>
<ellipse cx="86.52" cy="764.13" rx="1.74" ry="1.76" fill="#a0a0a0" fill-opacity="0.45"/>
<ellipse cx="87.25" cy="769.39" rx="1.24" ry="1.40" fill="#b0b0b0" fill-opacity="0.4"/>
<ellipse cx="85.16" cy="756.41" rx="2.73" ry="2.11" fill="#2a22e6" fill-opacity="0.8"/>
<path d="M101.00,753.60 C101.37,753.60 101.76,753.60 102.12,753.95 C102.47,754.30 102.61,754.71 103.11,755.71 C103.60,756.70 104.51,758.22 105.09,759.92 C105.67,761.61 106.27,763.43 106.58,765.88 C106.89,768.34 106.89,772.03 106.95,774.66 C107.01,777.29 107.08,779.75 106.95,781.68 C106.83,783.61 106.68,785.19 106.21,786.24 C105.73,787.30 104.80,787.65 104.10,788.00 C103.40,788.35 102.67,788.29 101.99,788.35 C101.31,788.41 100.69,788.41 100.01,788.35 C99.33,788.29 98.60,788.35 97.90,788.00 C97.20,787.65 96.27,787.30 95.79,786.24 C95.32,785.19 95.17,783.61 95.05,781.68 C94.92,779.75 94.99,777.29 95.05,774.66 C95.11,772.03 95.11,768.34 95.42,765.88 C95.73,763.43 96.33,761.61 96.91,759.92 C97.49,758.22 98.40,756.70 98.89,755.71 C99.39,754.71 99.53,754.30 99.88,753.95 C100.24,753.60 100.63,753.60 101.00,753.60 Z" fill="#cfcfcf"/>
<path d="M101.00,755.00 C101.31,755.00 101.64,755.00 101.94,755.33 C102.23,755.65 102.35,756.03 102.77,756.94 C103.19,757.86 103.95,759.26 104.44,760.82 C104.92,762.38 105.43,764.05 105.69,766.31 C105.95,768.57 105.95,771.96 106.00,774.38 C106.05,776.80 106.10,779.06 106.00,780.84 C105.90,782.61 105.77,784.07 105.37,785.04 C104.98,786.00 104.19,786.33 103.60,786.65 C103.01,786.97 102.41,786.92 101.83,786.97 C101.26,787.03 100.74,787.03 100.17,786.97 C99.59,786.92 98.99,786.97 98.40,786.65 C97.81,786.33 97.02,786.00 96.63,785.04 C96.23,784.07 96.10,782.61 96.00,780.84 C95.90,779.06 95.95,776.80 96.00,774.38 C96.05,771.96 96.05,768.57 96.31,766.31 C96.57,764.05 97.08,762.38 97.56,760.82 C98.05,759.26 98.81,757.86 99.23,756.94 C99.65,756.03 99.77,755.65 100.06,755.33 C100.36,755.00 100.69,755.00 101.00,755.00 Z" fill="#eeeeee"/>
<ellipse cx="100.95" cy="773.96" rx="3.72" ry="9.83" fill="#fafafa" fill-opacity="0.95"/>
<ellipse cx="101.02" cy="764.13" rx="1.74" ry="1.76" fill="#a0a0a0" fill-opacity="0.45"/>
<ellipse cx="101.17" cy="769.39" rx="1.24" ry="1.40" fill="#b0b0b0" fill-opacity="0.4"/>
<ellipse cx="101.00" cy="778.87" rx="1.49" ry="1.40" fill="#2a22e6" fill-opacity="0.8"/>
<path d="M115.80,753.60 C116.17,753.60 116.56,753.60 116.92,753.95 C117.27,754.30 117.41,754.71 117.91,755.71 C118.40,756.70 119.31,758.22 119.89,759.92 C120.47,761.61 121.07,763.43 121.38,765.88 C121.69,768.34 121.69,772.03 121.75,774.66 C121.81,777.29 121.88,779.75 121.75,781.68 C121.63,783.61 121.48,785.19 121.01,786.24 C120.53,787.30 119.60,787.65 118.90,788.00 C118.20,788.35 117.47,788.29 116.79,788.35 C116.11,788.41 115.49,788.41 114.81,788.35 C114.13,788.29 113.40,788.35 112.70,788.00 C112.00,787.65 111.07,787.30 110.59,786.24 C110.12,785.19 109.97,783.61 109.85,781.68 C109.72,779.75 109.79,777.29 109.85,774.66 C109.91,772.03 109.91,768.34 110.22,765.88 C110.53,763.43 111.13,761.61 111.71,759.92 C112.29,758.22 113.20,756.70 113.69,755.71 C114.19,754.71 114.33,754.30 114.68,753.95 C115.04,753.60 115.43,753.60 115.80,753.60 Z" fill="#cfcfcf"/>
<path d="M115.80,755.00 C116.11,755.00 116.44,755.00 116.74,755.33 C117.03,755.65 117.15,756.03 117.57,756.94 C117.99,757.86 118.75,759.26 119.24,760.82 C119.72,762.38 120.23,764.05 120.49,766.31 C120.75,768.57 120.75,771.96 120.80,774.38 C120.85,776.80 120.90,779.06 120.80,780.84 C120.70,782.61 120.57,784.07 120.17,785.04 C119.78,786.00 118.99,786.33 118.40,786.65 C117.81,786.97 117.21,786.92 116.63,786.97 C116.06,787.03 115.54,787.03 114.97,786.97 C114.39,786.92 113.79,786.97 113.20,786.65 C112.61,786.33 111.82,786.00 111.43,785.04 C111.03,784.07 110.90,782.61 110.80,780.84 C110.70,779.06 110.75,776.80 110.80,774.38 C110.85,771.96 110.85,768.57 111.11,766.31 C111.37,764.05 111.88,762.38 112.36,760.82 C112.85,759.26 113.61,757.86 114.03,756.94 C114.45,756.03 114.57,755.65 114.86,755.33 C115.16,755.00 115.49,755.00 115.80,755.00 Z" fill="#eeeeee"/>
<ellipse cx="115.33" cy="773.96" rx="3.72" ry="9.83" fill="#fafafa" fill-opacity="0.95"/>
<ellipse cx="115.82" cy="764.13" rx="1.74" ry="1.76" fill="#a0a0a0" fill-opacity="0.45"/>
<ellipse cx="116.06" cy="769.39" rx="1.24" ry="1.40" fill="#b0b0b0" fill-opacity="0.4"/>
<path d="M129.70,753.60 C130.07,753.60 130.46,753.60 130.82,753.95 C131.17,754.30 131.31,754.71 131.81,755.71 C132.30,756.70 133.21,758.22 133.79,759.92 C134.37,761.61 134.97,763.43 135.28,765.88 C135.59,768.34 135.59,772.03 135.65,774.66 C135.71,777.29 135.78,779.75 135.65,781.68 C135.53,783.61 135.38,785.19 134.91,786.24 C134.43,787.30 133.50,787.65 132.80,788.00 C132.10,788.35 131.37,788.29 130.69,788.35 C130.01,788.41 129.39,788.41 128.71,788.35 C128.03,788.29 127.30,788.35 126.60,788.00 C125.90,787.65 124.97,787.30 124.49,786.24 C124.02,785.19 123.87,783.61 123.75,781.68 C123.62,779.75 123.69,777.29 123.75,774.66 C123.81,772.03 123.81,768.34 124.12,765.88 C124.43,763.43 125.03,761.61 125.61,759.92 C126.19,758.22 127.10,756.70 127.59,755.71 C128.09,754.71 128.23,754.30 128.58,753.95 C128.94,753.60 129.33,753.60 129.70,753.60 Z" fill="#cfcfcf"/>
<path d="M129.70,755.00 C130.01,755.00 130.34,755.00 130.64,755.33 C130.93,755.65 131.05,756.03 131.47,756.94 C131.89,757.86 132.65,759.26 133.14,760.82 C133.62,762.38 134.13,764.05 134.39,766.31 C134.65,768.57 134.65,771.96 134.70,774.38 C134.75,776.80 134.80,779.06 134.70,780.84 C134.60,782.61 134.47,784.07 134.07,785.04 C133.68,786.00 132.89,786.33 132.30,786.65 C131.71,786.97 131.11,786.92 130.53,786.97 C129.96,787.03 129.44,787.03 128.87,786.97 C128.29,786.92 127.69,786.97 127.10,786.65 C126.51,786.33 125.72,786.00 125.33,785.04 C124.93,784.07 124.80,782.61 124.70,780.84 C124.60,779.06 124.65,776.80 124.70,774.38 C124.75,771.96 124.75,768.57 125.01,766.31 C125.27,764.05 125.78,762.38 126.26,760.82 C126.75,759.26 127.51,757.86 127.93,756.94 C128.35,756.03 128.47,755.65 128.76,755.33 C129.06,755.00 129.39,755.00 129.70,755.00 Z" fill="#eeeeee"/>
<ellipse cx="130.14" cy="773.96" rx="3.72" ry="9.83" fill="#fafafa" fill-opacity="0.95"/>
<ellipse cx="128.89" cy="764.13" rx="1.74" ry="1.76" fill="#a0a0a0" fill-opacity="0.45"/>
<ellipse cx="129.31" cy="769.39" rx="1.24" ry="1.40" fill="#b0b0b0" fill-opacity="0.4"/>
<path d="M144.40,753.60 C144.77,753.60 145.16,753.60 145.52,753.95 C145.87,754.30 146.01,754.71 146.51,755.71 C147.00,756.70 147.91,758.22 148.49,759.92 C149.07,761.61 149.67,763.43 149.98,765.88 C150.29,768.34 150.29,772.03 150.35,774.66 C150.41,777.29 150.48,779.75 150.35,781.68 C150.23,783.61 150.08,785.19 149.61,786.24 C149.13,787.30 148.20,787.65 147.50,788.00 C146.80,788.35 146.07,788.29 145.39,788.35 C144.71,788.41 144.09,788.41 143.41,788.35 C142.73,788.29 142.00,788.35 141.30,788.00 C140.60,787.65 139.67,787.30 139.19,786.24 C138.72,785.19 138.57,783.61 138.45,781.68 C138.32,779.75 138.39,777.29 138.45,774.66 C138.51,772.03 138.51,768.34 138.82,765.88 C139.13,763.43 139.73,761.61 140.31,759.92 C140.89,758.22 141.80,756.70 142.29,755.71 C142.79,754.71 142.93,754.30 143.28,753.95 C143.64,753.60 144.03,753.60 144.40,753.60 Z" fill="#cfcfcf"/>
<path d="M144.40,755.00 C144.71,755.00 145.04,755.00 145.34,755.33 C145.63,755.65 145.75,756.03 146.17,756.94 C146.59,757.86 147.35,759.26 147.84,760.82 C148.32,762.38 148.83,764.05 149.09,766.31 C149.35,768.57 149.35,771.96 149.40,774.38 C149.45,776.80 149.50,779.06 149.40,780.84 C149.30,782.61 149.17,784.07 148.77,785.04 C148.38,786.00 147.59,786.33 147.00,786.65 C146.41,786.97 145.81,786.92 145.23,786.97 C144.66,787.03 144.14,787.03 143.57,786.97 C142.99,786.92 142.39,786.97 141.80,786.65 C141.21,786.33 140.42,786.00 140.03,785.04 C139.63,784.07 139.50,782.61 139.40,780.84 C139.30,779.06 139.35,776.80 139.40,774.38 C139.45,771.96 139.45,768.57 139.71,766.31 C139.97,764.05 140.48,762.38 140.96,760.82 C141.45,759.26 142.21,757.86 142.63,756.94 C143.05,756.03 143.17,755.65 143.46,755.33 C143.76,755.00 144.09,755.00 144.40,755.00 Z" fill="#eeeeee"/>
<ellipse cx="143.79" cy="773.96" rx="3.72" ry="9.83" fill="#fafafa" fill-opacity="0.95"/>
<ellipse cx="145.02" cy="764.13" rx="1.74" ry="1.76" fill="#a0a0a0" fill-opacity="0.45"/>
<ellipse cx="144.79" cy="769.39" rx="1.24" ry="1.40" fill="#b0b0b0" fill-opacity="0.4"/>
<rect x="155.5" y="752.8" width="74.0" height="36.30000000000007" fill="#3a3a3a"/>
<rect x="172.45" y="752.8" width="0.8" height="36.30000000000007" fill="#555"/>
<rect x="186.75" y="752.8" width="0.8" height="36.30000000000007" fill="#555"/>
<rect x="201.05" y="752.8" width="0.8" height="36.30000000000007" fill="#555"/>
<rect x="214.95" y="752.8" width="0.8" height="36.30000000000007" fill="#555"/>
<path d="M165.50,753.60 C165.87,753.60 166.26,753.60 166.62,753.95 C166.97,754.30 167.11,754.71 167.61,755.71 C168.10,756.70 169.01,758.22 169.59,759.92 C170.17,761.61 170.77,763.43 171.08,765.88 C171.39,768.34 171.39,772.03 171.45,774.66 C171.51,777.29 171.58,779.75 171.45,781.68 C171.33,783.61 171.18,785.19 170.71,786.24 C170.23,787.30 169.30,787.65 168.60,788.00 C167.90,788.35 167.17,788.29 166.49,788.35 C165.81,788.41 165.19,788.41 164.51,788.35 C163.83,788.29 163.10,788.35 162.40,788.00 C161.70,787.65 160.77,787.30 160.29,786.24 C159.82,785.19 159.67,783.61 159.55,781.68 C159.42,779.75 159.49,777.29 159.55,774.66 C159.61,772.03 159.61,768.34 159.92,765.88 C160.23,763.43 160.83,761.61 161.41,759.92 C161.99,758.22 162.90,756.70 163.39,755.71 C163.89,754.71 164.03,754.30 164.38,753.95 C164.74,753.60 165.13,753.60 165.50,753.60 Z" fill="#cfcfcf"/>
<path d="M165.50,755.00 C165.81,755.00 166.14,755.00 166.44,755.33 C166.73,755.65 166.85,756.03 167.27,756.94 C167.69,757.86 168.45,759.26 168.94,760.82 C169.42,762.38 169.93,764.05 170.19,766.31 C170.45,768.57 170.45,771.96 170.50,774.38 C170.55,776.80 170.60,779.06 170.50,780.84 C170.40,782.61 170.27,784.07 169.87,785.04 C169.48,786.00 168.69,786.33 168.10,786.65 C167.51,786.97 166.91,786.92 166.33,786.97 C165.76,787.03 165.24,787.03 164.67,786.97 C164.09,786.92 163.49,786.97 162.90,786.65 C162.31,786.33 161.52,786.00 161.13,785.04 C160.73,784.07 160.60,782.61 160.50,780.84 C160.40,779.06 160.45,776.80 160.50,774.38 C160.55,771.96 160.55,768.57 160.81,766.31 C161.07,764.05 161.58,762.38 162.06,760.82 C162.55,759.26 163.31,757.86 163.73,756.94 C164.15,756.03 164.27,755.65 164.56,755.33 C164.86,755.00 165.19,755.00 165.50,755.00 Z" fill="#eeeeee"/>
<ellipse cx="164.81" cy="773.96" rx="3.72" ry="9.83" fill="#fafafa" fill-opacity="0.95"/>
<ellipse cx="166.46" cy="764.13" rx="1.74" ry="1.76" fill="#a0a0a0" fill-opacity="0.45"/>
<ellipse cx="166.43" cy="769.39" rx="1.24" ry="1.40" fill="#b0b0b0" fill-opacity="0.4"/>
<path d="M180.20,753.60 C180.57,753.60 180.96,753.60 181.32,753.95 C181.67,754.30 181.81,754.71 182.31,755.71 C182.80,756.70 183.71,758.22 184.29,759.92 C184.87,761.61 185.47,763.43 185.78,765.88 C186.09,768.34 186.09,772.03 186.15,774.66 C186.21,777.29 186.28,779.75 186.15,781.68 C186.03,783.61 185.88,785.19 185.41,786.24 C184.93,787.30 184.00,787.65 183.30,788.00 C182.60,788.35 181.87,788.29 181.19,788.35 C180.51,788.41 179.89,788.41 179.21,788.35 C178.53,788.29 177.80,788.35 177.10,788.00 C176.40,787.65 175.47,787.30 174.99,786.24 C174.52,785.19 174.37,783.61 174.25,781.68 C174.12,779.75 174.19,777.29 174.25,774.66 C174.31,772.03 174.31,768.34 174.62,765.88 C174.93,763.43 175.53,761.61 176.11,759.92 C176.69,758.22 177.60,756.70 178.09,755.71 C178.59,754.71 178.73,754.30 179.08,753.95 C179.44,753.60 179.83,753.60 180.20,753.60 Z" fill="#cfcfcf"/>
<path d="M180.20,755.00 C180.51,755.00 180.84,755.00 181.14,755.33 C181.43,755.65 181.55,756.03 181.97,756.94 C182.39,757.86 183.15,759.26 183.64,760.82 C184.12,762.38 184.63,764.05 184.89,766.31 C185.15,768.57 185.15,771.96 185.20,774.38 C185.25,776.80 185.30,779.06 185.20,780.84 C185.10,782.61 184.97,784.07 184.57,785.04 C184.18,786.00 183.39,786.33 182.80,786.65 C182.21,786.97 181.61,786.92 181.03,786.97 C180.46,787.03 179.94,787.03 179.37,786.97 C178.79,786.92 178.19,786.97 177.60,786.65 C177.01,786.33 176.22,786.00 175.83,785.04 C175.43,784.07 175.30,782.61 175.20,780.84 C175.10,779.06 175.15,776.80 175.20,774.38 C175.25,771.96 175.25,768.57 175.51,766.31 C175.77,764.05 176.28,762.38 176.76,760.82 C177.25,759.26 178.01,757.86 178.43,756.94 C178.85,756.03 178.97,755.65 179.26,755.33 C179.56,755.00 179.89,755.00 180.20,755.00 Z" fill="#eeeeee"/>
<ellipse cx="180.43" cy="773.96" rx="3.72" ry="9.83" fill="#fafafa" fill-opacity="0.95"/>
<ellipse cx="180.43" cy="764.13" rx="1.74" ry="1.76" fill="#a0a0a0" fill-opacity="0.45"/>
<ellipse cx="179.51" cy="769.39" rx="1.24" ry="1.40" fill="#b0b0b0" fill-opacity="0.4"/>
<path d="M194.10,753.60 C194.47,753.60 194.86,753.60 195.22,753.95 C195.57,754.30 195.71,754.71 196.21,755.71 C196.70,756.70 197.61,758.22 198.19,759.92 C198.77,761.61 199.37,763.43 199.68,765.88 C199.99,768.34 199.99,772.03 200.05,774.66 C200.11,777.29 200.18,779.75 200.05,781.68 C199.93,783.61 199.78,785.19 199.31,786.24 C198.83,787.30 197.90,787.65 197.20,788.00 C196.50,788.35 195.77,788.29 195.09,788.35 C194.41,788.41 193.79,788.41 193.11,788.35 C192.43,788.29 191.70,788.35 191.00,788.00 C190.30,787.65 189.37,787.30 188.89,786.24 C188.42,785.19 188.27,783.61 188.15,781.68 C188.02,779.75 188.09,777.29 188.15,774.66 C188.21,772.03 188.21,768.34 188.52,765.88 C188.83,763.43 189.43,761.61 190.01,759.92 C190.59,758.22 191.50,756.70 191.99,755.71 C192.49,754.71 192.63,754.30 192.98,753.95 C193.34,753.60 193.73,753.60 194.10,753.60 Z" fill="#cfcfcf"/>
<path d="M194.10,755.00 C194.41,755.00 194.74,755.00 195.04,755.33 C195.33,755.65 195.45,756.03 195.87,756.94 C196.29,757.86 197.05,759.26 197.54,760.82 C198.02,762.38 198.53,764.05 198.79,766.31 C199.05,768.57 199.05,771.96 199.10,774.38 C199.15,776.80 199.20,779.06 199.10,780.84 C199.00,782.61 198.87,784.07 198.47,785.04 C198.08,786.00 197.29,786.33 196.70,786.65 C196.11,786.97 195.51,786.92 194.93,786.97 C194.36,787.03 193.84,787.03 193.27,786.97 C192.69,786.92 192.09,786.97 191.50,786.65 C190.91,786.33 190.12,786.00 189.73,785.04 C189.33,784.07 189.20,782.61 189.10,780.84 C189.00,779.06 189.05,776.80 189.10,774.38 C189.15,771.96 189.15,768.57 189.41,766.31 C189.67,764.05 190.18,762.38 190.66,760.82 C191.15,759.26 191.91,757.86 192.33,756.94 C192.75,756.03 192.87,755.65 193.16,755.33 C193.46,755.00 193.79,755.00 194.10,755.00 Z" fill="#eeeeee"/>
<ellipse cx="193.37" cy="773.96" rx="3.72" ry="9.83" fill="#fafafa" fill-opacity="0.95"/>
<ellipse cx="194.16" cy="764.13" rx="1.74" ry="1.76" fill="#a0a0a0" fill-opacity="0.45"/>
<ellipse cx="193.22" cy="769.39" rx="1.24" ry="1.40" fill="#b0b0b0" fill-opacity="0.4"/>
<ellipse cx="194.72" cy="779.92" rx="1.24" ry="1.40" fill="#2a22e6" fill-opacity="0.8"/>
<path d="M208.80,753.60 C209.17,753.60 209.56,753.60 209.92,753.95 C210.27,754.30 210.41,754.71 210.91,755.71 C211.40,756.70 212.31,758.22 212.89,759.92 C213.47,761.61 214.07,763.43 214.38,765.88 C214.69,768.34 214.69,772.03 214.75,774.66 C214.81,777.29 214.88,779.75 214.75,781.68 C214.63,783.61 214.48,785.19 214.01,786.24 C213.53,787.30 212.60,787.65 211.90,788.00 C211.20,788.35 210.47,788.29 209.79,788.35 C209.11,788.41 208.49,788.41 207.81,788.35 C207.13,788.29 206.40,788.35 205.70,788.00 C205.00,787.65 204.07,787.30 203.59,786.24 C203.12,785.19 202.97,783.61 202.85,781.68 C202.72,779.75 202.79,777.29 202.85,774.66 C202.91,772.03 202.91,768.34 203.22,765.88 C203.53,763.43 204.13,761.61 204.71,759.92 C205.29,758.22 206.20,756.70 206.69,755.71 C207.19,754.71 207.33,754.30 207.68,753.95 C208.04,753.60 208.43,753.60 208.80,753.60 Z" fill="#cfcfcf"/>
<path d="M208.80,755.00 C209.11,755.00 209.44,755.00 209.74,755.33 C210.03,755.65 210.15,756.03 210.57,756.94 C210.99,757.86 211.75,759.26 212.24,760.82 C212.72,762.38 213.23,764.05 213.49,766.31 C213.75,768.57 213.75,771.96 213.80,774.38 C213.85,776.80 213.90,779.06 213.80,780.84 C213.70,782.61 213.57,784.07 213.17,785.04 C212.78,786.00 211.99,786.33 211.40,786.65 C210.81,786.97 210.21,786.92 209.63,786.97 C209.06,787.03 208.54,787.03 207.97,786.97 C207.39,786.92 206.79,786.97 206.20,786.65 C205.61,786.33 204.82,786.00 204.43,785.04 C204.03,784.07 203.90,782.61 203.80,780.84 C203.70,779.06 203.75,776.80 203.80,774.38 C203.85,771.96 203.85,768.57 204.11,766.31 C204.37,764.05 204.88,762.38 205.36,760.82 C205.85,759.26 206.61,757.86 207.03,756.94 C207.45,756.03 207.57,755.65 207.86,755.33 C208.16,755.00 208.49,755.00 208.80,755.00 Z" fill="#eeeeee"/>
<ellipse cx="208.34" cy="773.96" rx="3.72" ry="9.83" fill="#fafafa" fill-opacity="0.95"/>
<ellipse cx="208.28" cy="764.13" rx="1.74" ry="1.76" fill="#a0a0a0" fill-opacity="0.45"/>
<ellipse cx="207.86" cy="769.39" rx="1.24" ry="1.40" fill="#b0b0b0" fill-opacity="0.4"/>
<path d="M221.90,753.60 C222.27,753.60 222.66,753.60 223.02,753.95 C223.37,754.30 223.51,754.71 224.01,755.71 C224.50,756.70 225.41,758.22 225.99,759.92 C226.57,761.61 227.17,763.43 227.48,765.88 C227.79,768.34 227.79,772.03 227.85,774.66 C227.91,777.29 227.98,779.75 227.85,781.68 C227.73,783.61 227.58,785.19 227.11,786.24 C226.63,787.30 225.70,787.65 225.00,788.00 C224.30,788.35 223.57,788.29 222.89,788.35 C222.21,788.41 221.59,788.41 220.91,788.35 C220.23,788.29 219.50,788.35 218.80,788.00 C218.10,787.65 217.17,787.30 216.69,786.24 C216.22,785.19 216.07,783.61 215.95,781.68 C215.82,779.75 215.89,777.29 215.95,774.66 C216.01,772.03 216.01,768.34 216.32,765.88 C216.63,763.43 217.23,761.61 217.81,759.92 C218.39,758.22 219.30,756.70 219.79,755.71 C220.29,754.71 220.43,754.30 220.78,753.95 C221.14,753.60 221.53,753.60 221.90,753.60 Z" fill="#cfcfcf"/>
<path d="M221.90,755.00 C222.21,755.00 222.54,755.00 222.84,755.33 C223.13,755.65 223.25,756.03 223.67,756.94 C224.09,757.86 224.85,759.26 225.34,760.82 C225.82,762.38 226.33,764.05 226.59,766.31 C226.85,768.57 226.85,771.96 226.90,774.38 C226.95,776.80 227.00,779.06 226.90,780.84 C226.80,782.61 226.67,784.07 226.27,785.04 C225.88,786.00 225.09,786.33 224.50,786.65 C223.91,786.97 223.31,786.92 222.73,786.97 C222.16,787.03 221.64,787.03 221.07,786.97 C220.49,786.92 219.89,786.97 219.30,786.65 C218.71,786.33 217.92,786.00 217.53,785.04 C217.13,784.07 217.00,782.61 216.90,780.84 C216.80,779.06 216.85,776.80 216.90,774.38 C216.95,771.96 216.95,768.57 217.21,766.31 C217.47,764.05 217.98,762.38 218.46,760.82 C218.95,759.26 219.71,757.86 220.13,756.94 C220.55,756.03 220.67,755.65 220.96,755.33 C221.26,755.00 221.59,755.00 221.90,755.00 Z" fill="#eeeeee"/>
<ellipse cx="221.85" cy="773.96" rx="3.72" ry="9.83" fill="#fafafa" fill-opacity="0.95"/>
<ellipse cx="221.78" cy="764.13" rx="1.74" ry="1.76" fill="#a0a0a0" fill-opacity="0.45"/>
<ellipse cx="222.58" cy="769.39" rx="1.24" ry="1.40" fill="#b0b0b0" fill-opacity="0.4"/>
</g>
<defs><linearGradient id="cbG" x1="0" y1="0" x2="0" y2="1"><stop offset="0" stop-color="#b8281e"/><stop offset="0.15" stop-color="#e07a20"/><stop offset="0.3" stop-color="#e8e030"/><stop offset="0.5" stop-color="#50d040"/><stop offset="0.68" stop-color="#30c8d8"/><stop offset="0.82" stop-color="#2050e0"/><stop offset="1" stop-color="#3a10a0"/></linearGradient></defs>
<rect x="237.1" y="673.1" width="2.8" height="75.9" fill="url(#cbG)"/>
<rect x="236.5" y="669.6" width="9" height="0.9" fill="#bbb"/>
<rect x="241.5" y="690.5" width="2.5" height="0.7" fill="#ccc"/>
<rect x="241.5" y="712.5" width="2.5" height="0.7" fill="#ccc"/>
<rect x="241.5" y="733.5" width="2.5" height="0.7" fill="#ccc"/>
<rect x="237" y="752.5" width="9" height="0.8" fill="#bbb"/>
<rect x="237" y="754.5" width="8" height="0.8" fill="#bbb"/>
<rect x="237" y="757" width="11" height="12" fill="none" stroke="#ccc" stroke-width="0.6"/>
<rect x="238" y="760" width="8" height="0.7" fill="#bbb"/>
<rect x="238" y="763" width="8" height="0.7" fill="#bbb"/>
<rect x="238" y="766" width="8" height="0.7" fill="#bbb"/>
<line x1="334.0" y1="661.5" x2="334.0" y2="796.3000000000001" stroke="#000" stroke-width="1.7"/>
<line x1="333.2" y1="795.6" x2="504.0" y2="795.6" stroke="#000" stroke-width="1.7"/>
<line x1="330.4" y1="795.6" x2="334.0" y2="795.6" stroke="#000" stroke-width="1.2"/>
<text x="325.8" y="798.7" font-size="8.7" text-anchor="end" fill="#333" stroke="#333" stroke-width="0.22">0</text>
<line x1="330.4" y1="769.48" x2="334.0" y2="769.48" stroke="#000" stroke-width="1.2"/>
<text x="325.8" y="772.58" font-size="8.7" text-anchor="end" fill="#333" stroke="#333" stroke-width="0.22">20</text>
<line x1="330.4" y1="743.36" x2="334.0" y2="743.36" stroke="#000" stroke-width="1.2"/>
<text x="325.8" y="746.46" font-size="8.7" text-anchor="end" fill="#333" stroke="#333" stroke-width="0.22">40</text>
<line x1="330.4" y1="717.24" x2="334.0" y2="717.24" stroke="#000" stroke-width="1.2"/>
<text x="325.8" y="720.34" font-size="8.7" text-anchor="end" fill="#333" stroke="#333" stroke-width="0.22">60</text>
<line x1="330.4" y1="691.12" x2="334.0" y2="691.12" stroke="#000" stroke-width="1.2"/>
<text x="325.8" y="694.22" font-size="8.7" text-anchor="end" fill="#333" stroke="#333" stroke-width="0.22">80</text>
<line x1="330.4" y1="665.0" x2="334.0" y2="665.0" stroke="#000" stroke-width="1.2"/>
<text x="325.8" y="668.1" font-size="8.7" text-anchor="end" fill="#333" stroke="#333" stroke-width="0.22">100</text>
<line x1="334.5" y1="795.6" x2="334.5" y2="798.9" stroke="#000" stroke-width="1.2"/>
<text x="334.5" y="810.5" font-size="9" text-anchor="middle" fill="#333" stroke="#333" stroke-width="0.22">0</text>
<line x1="349.58" y1="795.6" x2="349.58" y2="798.9" stroke="#000" stroke-width="1.2"/>
<text x="349.58" y="810.5" font-size="9" text-anchor="middle" fill="#333" stroke="#333" stroke-width="0.22">5</text>
<line x1="364.66" y1="795.6" x2="364.66" y2="798.9" stroke="#000" stroke-width="1.2"/>
<text x="364.66" y="810.5" font-size="9" text-anchor="middle" fill="#333" stroke="#333" stroke-width="0.22">10</text>
<line x1="379.74" y1="795.6" x2="379.74" y2="798.9" stroke="#000" stroke-width="1.2"/>
<text x="379.74" y="810.5" font-size="9" text-anchor="middle" fill="#333" stroke="#333" stroke-width="0.22">15</text>
<line x1="394.82" y1="795.6" x2="394.82" y2="798.9" stroke="#000" stroke-width="1.2"/>
<text x="394.82" y="810.5" font-size="9" text-anchor="middle" fill="#333" stroke="#333" stroke-width="0.22">20</text>
<line x1="409.9" y1="795.6" x2="409.9" y2="798.9" stroke="#000" stroke-width="1.2"/>
<text x="409.9" y="810.5" font-size="9" text-anchor="middle" fill="#333" stroke="#333" stroke-width="0.22">25</text>
<line x1="424.98" y1="795.6" x2="424.98" y2="798.9" stroke="#000" stroke-width="1.2"/>
<text x="424.98" y="810.5" font-size="9" text-anchor="middle" fill="#333" stroke="#333" stroke-width="0.22">30</text>
<line x1="440.06" y1="795.6" x2="440.06" y2="798.9" stroke="#000" stroke-width="1.2"/>
<text x="440.06" y="810.5" font-size="9" text-anchor="middle" fill="#333" stroke="#333" stroke-width="0.22">35</text>
<line x1="455.14" y1="795.6" x2="455.14" y2="798.9" stroke="#000" stroke-width="1.2"/>
<text x="455.14" y="810.5" font-size="9" text-anchor="middle" fill="#333" stroke="#333" stroke-width="0.22">40</text>
<line x1="470.22" y1="795.6" x2="470.22" y2="798.9" stroke="#000" stroke-width="1.2"/>
<text x="470.22" y="810.5" font-size="9" text-anchor="middle" fill="#333" stroke="#333" stroke-width="0.22">45</text>
<line x1="485.3" y1="795.6" x2="485.3" y2="798.9" stroke="#000" stroke-width="1.2"/>
<text x="485.3" y="810.5" font-size="9" text-anchor="middle" fill="#333" stroke="#333" stroke-width="0.22">50</text>
<line x1="500.38" y1="795.6" x2="500.38" y2="798.9" stroke="#000" stroke-width="1.2"/>
<text x="500.38" y="810.5" font-size="9" text-anchor="middle" fill="#333" stroke="#333" stroke-width="0.22">55</text>
<text x="387.5" y="826.5" font-size="10.6" textLength="62" lengthAdjust="spacingAndGlyphs" fill="#2a2a2a" stroke="#2a2a2a" stroke-width="0.5">Days post implant</text>
<text transform="translate(303.7,756.3) rotate(-90)" font-size="10.7" fill="#2a2a2a" stroke="#2a2a2a" stroke-width="0.5" textLength="55.7" lengthAdjust="spacingAndGlyphs">Percent survival</text>
<polyline points="450.62,665.00 488.32,665.00" fill="none" stroke="#c4206e" stroke-width="2.1"/>
<polyline points="334.50,665.00 461.17,665.00" fill="none" stroke="#2a2466" stroke-width="1.8" stroke-dasharray="2.2,1.4"/>
<polyline points="452.12,665.00 452.43,665.00 452.43,678.06 461.78,678.06 461.78,691.12 468.11,691.12 468.11,704.18 471.43,704.18 471.43,717.24 473.84,717.24 473.84,730.30 477.46,730.30 477.46,743.36 482.59,743.36 482.59,769.48" fill="none" stroke="#7cb6e2" stroke-width="1.4" stroke-dasharray="2.2,1.6"/>
<polyline points="461.17,665.00 461.47,665.00 461.47,691.12 464.79,691.12 464.79,704.18 467.51,704.18 467.51,756.42 473.54,756.42 473.54,769.48 488.32,769.48 488.32,795.60" fill="none" stroke="#2a2466" stroke-width="1.8" stroke-dasharray="1.6,1.4"/>
<polyline points="428.00,665.00 428.00,704.18 431.31,704.18 431.31,717.24 434.03,717.24 434.03,730.30 437.65,730.30 437.65,756.42 440.06,756.42 440.06,795.60" fill="none" stroke="#3a1850" stroke-width="1.9"/>
<polyline points="337.80,744.20 351.60,744.20" fill="none" stroke="#3a1850" stroke-width="1.9"/>
<polyline points="337.80,756.50 351.60,756.50" fill="none" stroke="#7cb6e2" stroke-width="1.4" stroke-dasharray="2.2,1.6"/>
<polyline points="337.80,768.00 351.60,768.00" fill="none" stroke="#2a2466" stroke-width="1.6" stroke-dasharray="1.4,1.2"/>
<polyline points="337.80,779.60 351.60,779.60" fill="none" stroke="#c4206e" stroke-width="1.9"/>
<rect x="343.9" y="742.60" width="2.2" height="3.2" fill="#3a1850"/>
<rect x="343.9" y="766.40" width="2.2" height="3.2" fill="#2a2466"/>
<rect x="343.9" y="778.00" width="2.2" height="3.2" fill="#c4206e"/>
<text x="355.8" y="746.5" font-size="7.9" textLength="54.2" lengthAdjust="spacingAndGlyphs" fill="#231f20" stroke="#231f20" stroke-width="0.22">IgG1 Control Ab</text>
<text x="355.8" y="758.1" font-size="7.9" textLength="75" lengthAdjust="spacingAndGlyphs" fill="#231f20" stroke="#231f20" stroke-width="0.22">PF-06747143 1 mg/kg</text>
<text x="355.8" y="770.1" font-size="7.9" textLength="72.7" lengthAdjust="spacingAndGlyphs" fill="#231f20" stroke="#231f20" stroke-width="0.22">Bortezomib 0.5 mg/kg</text>
<text x="355.8" y="781.6" font-size="7.9" textLength="52" lengthAdjust="spacingAndGlyphs" fill="#231f20" stroke="#231f20" stroke-width="0.22">PF-06747143 +</text>
<text x="355.8" y="791.6" font-size="7.9" textLength="37" lengthAdjust="spacingAndGlyphs" fill="#231f20" stroke="#231f20" stroke-width="0.22">Bortezomib</text>
<rect x="0" y="0" width="520" height="1.6" fill="#111"/>
<rect x="0" y="0" width="1.5" height="838" fill="#111"/>
<rect x="518.4" y="0" width="1.6" height="838" fill="#111"/>
<rect x="0" y="836" width="520" height="2" fill="#111"/>
</g>
</svg>
</body></html>
